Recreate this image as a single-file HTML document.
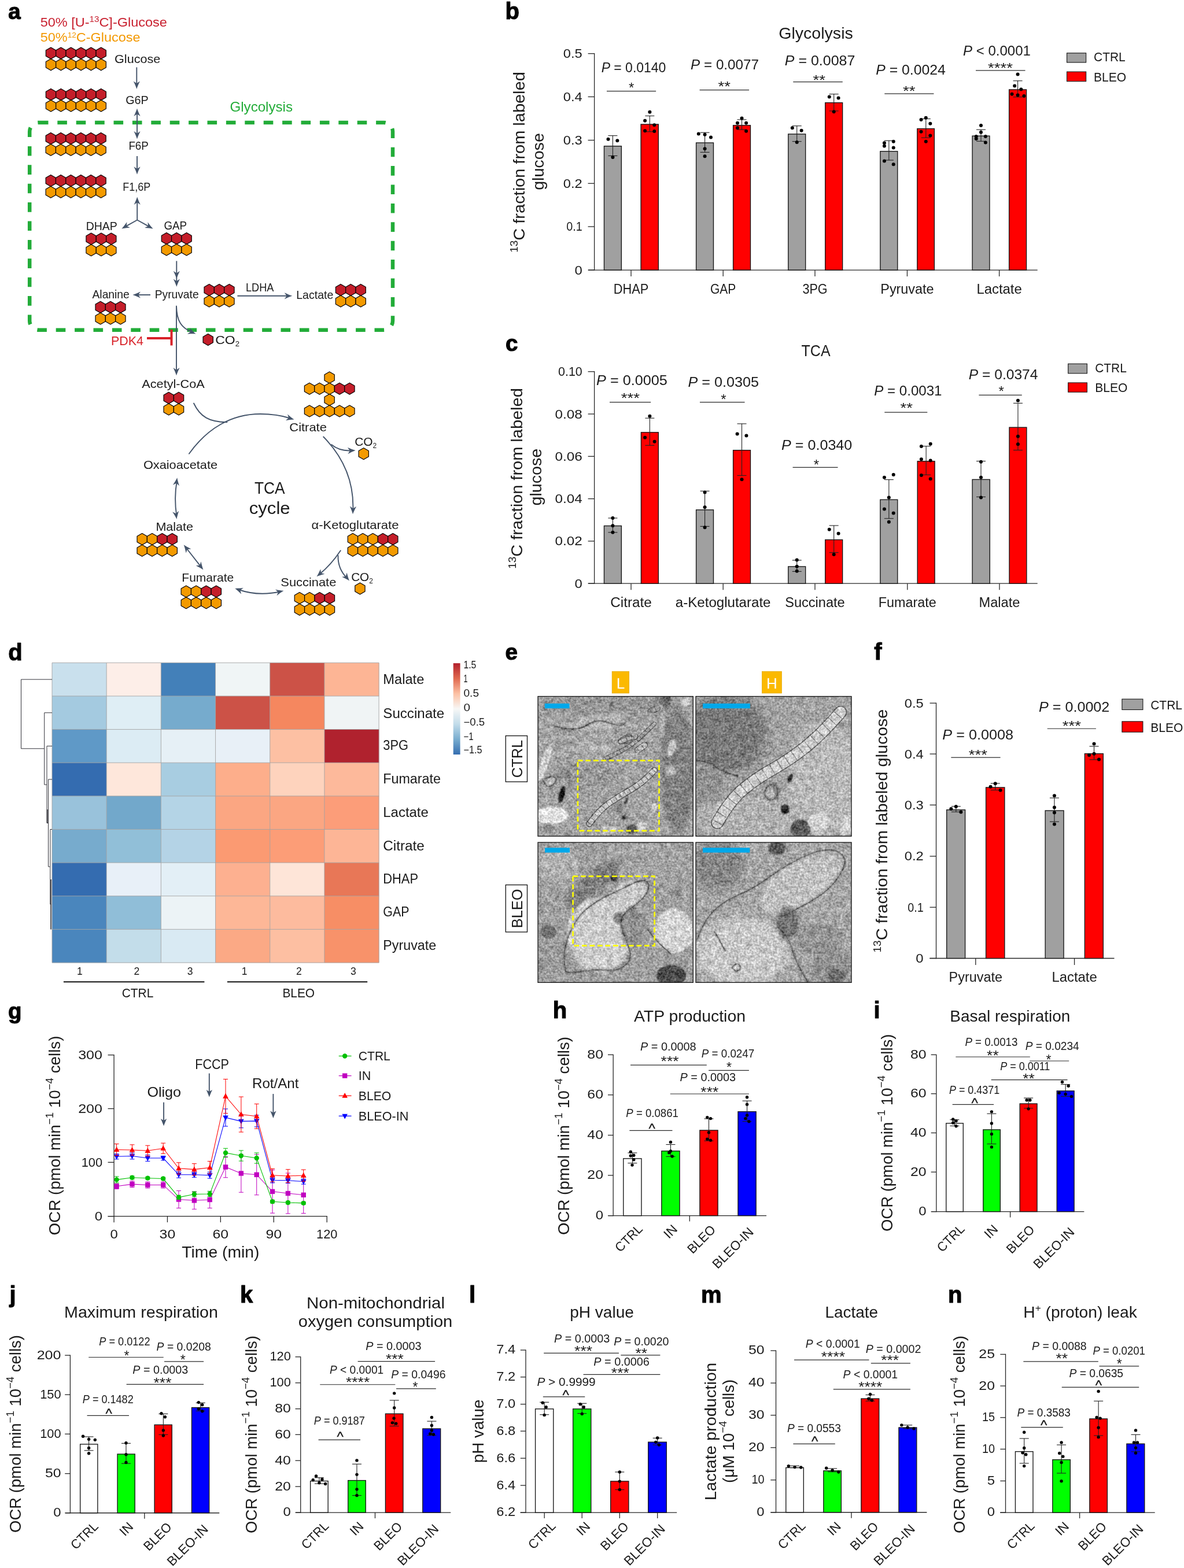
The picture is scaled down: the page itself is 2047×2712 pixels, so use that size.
<!DOCTYPE html>
<html lang="en"><head><meta charset="utf-8"><title>Figure</title>
<style>html,body{margin:0;padding:0;background:#fff}svg{display:block}text{font-family:"Liberation Sans",sans-serif}</style>
</head><body>
<svg width="2047" height="2712" viewBox="0 0 2047 2712">
<rect width="2047" height="2712" fill="#fff"/>
<g fill="#1a1a1a">
<g id="pa">
<text x="14.26" y="32.7" font-size="38.5" font-weight="bold" fill="#000" stroke="#000" stroke-width="1.1" stroke-linejoin="round">a</text>
<text x="69.7" y="46.3" font-size="22.5" textLength="219.2" lengthAdjust="spacingAndGlyphs" fill="#c8202f" >50% [U-<tspan dy="-8" font-size="14.5">13</tspan><tspan dy="8">C]-Glucose</tspan></text>
<text x="69.7" y="71.5" font-size="22.5" textLength="172.8" lengthAdjust="spacingAndGlyphs" fill="#f39800" >50%<tspan dy="-7" font-size="13">12</tspan><tspan dy="7">C-Glucose</tspan></text>
<rect x="51.2" y="211.9" width="627.8" height="358.8" rx="15.7" ry="15.7" fill="none" stroke="#22ac38" stroke-width="6.5" stroke-dasharray="16.6 15.8"/>
<text x="397.5" y="192.7" font-size="24" textLength="108.5" lengthAdjust="spacingAndGlyphs" fill="#22ac38" >Glycolysis</text>
<polygon points="87.97,82.1 96.64,87.1 96.64,97.1 87.97,102.1 79.31,97.1 79.31,87.1" fill="#c41e2a" stroke="#000" stroke-width="1.15" stroke-linejoin="round"/>
<polygon points="105.32,82.1 113.99,87.1 113.99,97.1 105.32,102.1 96.66,97.1 96.66,87.1" fill="#c41e2a" stroke="#000" stroke-width="1.15" stroke-linejoin="round"/>
<polygon points="122.67,82.1 131.34,87.1 131.34,97.1 122.67,102.1 114.01,97.1 114.01,87.1" fill="#c41e2a" stroke="#000" stroke-width="1.15" stroke-linejoin="round"/>
<polygon points="140.03,82.1 148.69,87.1 148.69,97.1 140.03,102.1 131.36,97.1 131.36,87.1" fill="#c41e2a" stroke="#000" stroke-width="1.15" stroke-linejoin="round"/>
<polygon points="157.38,82.1 166.04,87.1 166.04,97.1 157.38,102.1 148.71,97.1 148.71,87.1" fill="#c41e2a" stroke="#000" stroke-width="1.15" stroke-linejoin="round"/>
<polygon points="174.72,82.1 183.39,87.1 183.39,97.1 174.72,102.1 166.06,97.1 166.06,87.1" fill="#c41e2a" stroke="#000" stroke-width="1.15" stroke-linejoin="round"/>
<polygon points="87.97,101.8 96.64,106.8 96.64,116.8 87.97,121.8 79.31,116.8 79.31,106.8" fill="#f39a00" stroke="#000" stroke-width="1.15" stroke-linejoin="round"/>
<polygon points="105.32,101.8 113.99,106.8 113.99,116.8 105.32,121.8 96.66,116.8 96.66,106.8" fill="#f39a00" stroke="#000" stroke-width="1.15" stroke-linejoin="round"/>
<polygon points="122.67,101.8 131.34,106.8 131.34,116.8 122.67,121.8 114.01,116.8 114.01,106.8" fill="#f39a00" stroke="#000" stroke-width="1.15" stroke-linejoin="round"/>
<polygon points="140.03,101.8 148.69,106.8 148.69,116.8 140.03,121.8 131.36,116.8 131.36,106.8" fill="#f39a00" stroke="#000" stroke-width="1.15" stroke-linejoin="round"/>
<polygon points="157.38,101.8 166.04,106.8 166.04,116.8 157.38,121.8 148.71,116.8 148.71,106.8" fill="#f39a00" stroke="#000" stroke-width="1.15" stroke-linejoin="round"/>
<polygon points="174.72,101.8 183.39,106.8 183.39,116.8 174.72,121.8 166.06,116.8 166.06,106.8" fill="#f39a00" stroke="#000" stroke-width="1.15" stroke-linejoin="round"/>
<polygon points="87.97,153.4 96.64,158.4 96.64,168.4 87.97,173.4 79.31,168.4 79.31,158.4" fill="#c41e2a" stroke="#000" stroke-width="1.15" stroke-linejoin="round"/>
<polygon points="105.32,153.4 113.99,158.4 113.99,168.4 105.32,173.4 96.66,168.4 96.66,158.4" fill="#c41e2a" stroke="#000" stroke-width="1.15" stroke-linejoin="round"/>
<polygon points="122.67,153.4 131.34,158.4 131.34,168.4 122.67,173.4 114.01,168.4 114.01,158.4" fill="#c41e2a" stroke="#000" stroke-width="1.15" stroke-linejoin="round"/>
<polygon points="140.03,153.4 148.69,158.4 148.69,168.4 140.03,173.4 131.36,168.4 131.36,158.4" fill="#c41e2a" stroke="#000" stroke-width="1.15" stroke-linejoin="round"/>
<polygon points="157.38,153.4 166.04,158.4 166.04,168.4 157.38,173.4 148.71,168.4 148.71,158.4" fill="#c41e2a" stroke="#000" stroke-width="1.15" stroke-linejoin="round"/>
<polygon points="174.72,153.4 183.39,158.4 183.39,168.4 174.72,173.4 166.06,168.4 166.06,158.4" fill="#c41e2a" stroke="#000" stroke-width="1.15" stroke-linejoin="round"/>
<polygon points="87.97,173.1 96.64,178.1 96.64,188.1 87.97,193.1 79.31,188.1 79.31,178.1" fill="#f39a00" stroke="#000" stroke-width="1.15" stroke-linejoin="round"/>
<polygon points="105.32,173.1 113.99,178.1 113.99,188.1 105.32,193.1 96.66,188.1 96.66,178.1" fill="#f39a00" stroke="#000" stroke-width="1.15" stroke-linejoin="round"/>
<polygon points="122.67,173.1 131.34,178.1 131.34,188.1 122.67,193.1 114.01,188.1 114.01,178.1" fill="#f39a00" stroke="#000" stroke-width="1.15" stroke-linejoin="round"/>
<polygon points="140.03,173.1 148.69,178.1 148.69,188.1 140.03,193.1 131.36,188.1 131.36,178.1" fill="#f39a00" stroke="#000" stroke-width="1.15" stroke-linejoin="round"/>
<polygon points="157.38,173.1 166.04,178.1 166.04,188.1 157.38,193.1 148.71,188.1 148.71,178.1" fill="#f39a00" stroke="#000" stroke-width="1.15" stroke-linejoin="round"/>
<polygon points="174.72,173.1 183.39,178.1 183.39,188.1 174.72,193.1 166.06,188.1 166.06,178.1" fill="#f39a00" stroke="#000" stroke-width="1.15" stroke-linejoin="round"/>
<polygon points="87.77,229.5 96.44,234.5 96.44,244.5 87.77,249.5 79.11,244.5 79.11,234.5" fill="#c41e2a" stroke="#000" stroke-width="1.15" stroke-linejoin="round"/>
<polygon points="105.12,229.5 113.79,234.5 113.79,244.5 105.12,249.5 96.46,244.5 96.46,234.5" fill="#c41e2a" stroke="#000" stroke-width="1.15" stroke-linejoin="round"/>
<polygon points="122.47,229.5 131.14,234.5 131.14,244.5 122.47,249.5 113.81,244.5 113.81,234.5" fill="#c41e2a" stroke="#000" stroke-width="1.15" stroke-linejoin="round"/>
<polygon points="139.82,229.5 148.49,234.5 148.49,244.5 139.82,249.5 131.16,244.5 131.16,234.5" fill="#c41e2a" stroke="#000" stroke-width="1.15" stroke-linejoin="round"/>
<polygon points="157.18,229.5 165.84,234.5 165.84,244.5 157.18,249.5 148.51,244.5 148.51,234.5" fill="#c41e2a" stroke="#000" stroke-width="1.15" stroke-linejoin="round"/>
<polygon points="174.52,229.5 183.19,234.5 183.19,244.5 174.52,249.5 165.86,244.5 165.86,234.5" fill="#c41e2a" stroke="#000" stroke-width="1.15" stroke-linejoin="round"/>
<polygon points="87.77,249.2 96.44,254.2 96.44,264.2 87.77,269.2 79.11,264.2 79.11,254.2" fill="#f39a00" stroke="#000" stroke-width="1.15" stroke-linejoin="round"/>
<polygon points="105.12,249.2 113.79,254.2 113.79,264.2 105.12,269.2 96.46,264.2 96.46,254.2" fill="#f39a00" stroke="#000" stroke-width="1.15" stroke-linejoin="round"/>
<polygon points="122.47,249.2 131.14,254.2 131.14,264.2 122.47,269.2 113.81,264.2 113.81,254.2" fill="#f39a00" stroke="#000" stroke-width="1.15" stroke-linejoin="round"/>
<polygon points="139.82,249.2 148.49,254.2 148.49,264.2 139.82,269.2 131.16,264.2 131.16,254.2" fill="#f39a00" stroke="#000" stroke-width="1.15" stroke-linejoin="round"/>
<polygon points="157.18,249.2 165.84,254.2 165.84,264.2 157.18,269.2 148.51,264.2 148.51,254.2" fill="#f39a00" stroke="#000" stroke-width="1.15" stroke-linejoin="round"/>
<polygon points="174.52,249.2 183.19,254.2 183.19,264.2 174.52,269.2 165.86,264.2 165.86,254.2" fill="#f39a00" stroke="#000" stroke-width="1.15" stroke-linejoin="round"/>
<polygon points="87.77,302.6 96.44,307.6 96.44,317.6 87.77,322.6 79.11,317.6 79.11,307.6" fill="#c41e2a" stroke="#000" stroke-width="1.15" stroke-linejoin="round"/>
<polygon points="105.12,302.6 113.79,307.6 113.79,317.6 105.12,322.6 96.46,317.6 96.46,307.6" fill="#c41e2a" stroke="#000" stroke-width="1.15" stroke-linejoin="round"/>
<polygon points="122.47,302.6 131.14,307.6 131.14,317.6 122.47,322.6 113.81,317.6 113.81,307.6" fill="#c41e2a" stroke="#000" stroke-width="1.15" stroke-linejoin="round"/>
<polygon points="139.82,302.6 148.49,307.6 148.49,317.6 139.82,322.6 131.16,317.6 131.16,307.6" fill="#c41e2a" stroke="#000" stroke-width="1.15" stroke-linejoin="round"/>
<polygon points="157.18,302.6 165.84,307.6 165.84,317.6 157.18,322.6 148.51,317.6 148.51,307.6" fill="#c41e2a" stroke="#000" stroke-width="1.15" stroke-linejoin="round"/>
<polygon points="174.52,302.6 183.19,307.6 183.19,317.6 174.52,322.6 165.86,317.6 165.86,307.6" fill="#c41e2a" stroke="#000" stroke-width="1.15" stroke-linejoin="round"/>
<polygon points="87.77,322.3 96.44,327.3 96.44,337.3 87.77,342.3 79.11,337.3 79.11,327.3" fill="#f39a00" stroke="#000" stroke-width="1.15" stroke-linejoin="round"/>
<polygon points="105.12,322.3 113.79,327.3 113.79,337.3 105.12,342.3 96.46,337.3 96.46,327.3" fill="#f39a00" stroke="#000" stroke-width="1.15" stroke-linejoin="round"/>
<polygon points="122.47,322.3 131.14,327.3 131.14,337.3 122.47,342.3 113.81,337.3 113.81,327.3" fill="#f39a00" stroke="#000" stroke-width="1.15" stroke-linejoin="round"/>
<polygon points="139.82,322.3 148.49,327.3 148.49,337.3 139.82,342.3 131.16,337.3 131.16,327.3" fill="#f39a00" stroke="#000" stroke-width="1.15" stroke-linejoin="round"/>
<polygon points="157.18,322.3 165.84,327.3 165.84,337.3 157.18,342.3 148.51,337.3 148.51,327.3" fill="#f39a00" stroke="#000" stroke-width="1.15" stroke-linejoin="round"/>
<polygon points="174.52,322.3 183.19,327.3 183.19,337.3 174.52,342.3 165.86,337.3 165.86,327.3" fill="#f39a00" stroke="#000" stroke-width="1.15" stroke-linejoin="round"/>
<polygon points="157.58,403 166.24,408 166.24,418 157.58,423 148.91,418 148.91,408" fill="#c41e2a" stroke="#000" stroke-width="1.15" stroke-linejoin="round"/>
<polygon points="174.93,403 183.59,408 183.59,418 174.93,423 166.26,418 166.26,408" fill="#c41e2a" stroke="#000" stroke-width="1.15" stroke-linejoin="round"/>
<polygon points="192.28,403 200.94,408 200.94,418 192.28,423 183.61,418 183.61,408" fill="#c41e2a" stroke="#000" stroke-width="1.15" stroke-linejoin="round"/>
<polygon points="157.58,422.7 166.24,427.7 166.24,437.7 157.58,442.7 148.91,437.7 148.91,427.7" fill="#f39a00" stroke="#000" stroke-width="1.15" stroke-linejoin="round"/>
<polygon points="174.93,422.7 183.59,427.7 183.59,437.7 174.93,442.7 166.26,437.7 166.26,427.7" fill="#f39a00" stroke="#000" stroke-width="1.15" stroke-linejoin="round"/>
<polygon points="192.28,422.7 200.94,427.7 200.94,437.7 192.28,442.7 183.61,437.7 183.61,427.7" fill="#f39a00" stroke="#000" stroke-width="1.15" stroke-linejoin="round"/>
<polygon points="287.88,402.4 296.54,407.4 296.54,417.4 287.88,422.4 279.21,417.4 279.21,407.4" fill="#c41e2a" stroke="#000" stroke-width="1.15" stroke-linejoin="round"/>
<polygon points="305.23,402.4 313.89,407.4 313.89,417.4 305.23,422.4 296.56,417.4 296.56,407.4" fill="#c41e2a" stroke="#000" stroke-width="1.15" stroke-linejoin="round"/>
<polygon points="322.57,402.4 331.24,407.4 331.24,417.4 322.57,422.4 313.91,417.4 313.91,407.4" fill="#c41e2a" stroke="#000" stroke-width="1.15" stroke-linejoin="round"/>
<polygon points="287.88,422.1 296.54,427.1 296.54,437.1 287.88,442.1 279.21,437.1 279.21,427.1" fill="#f39a00" stroke="#000" stroke-width="1.15" stroke-linejoin="round"/>
<polygon points="305.23,422.1 313.89,427.1 313.89,437.1 305.23,442.1 296.56,437.1 296.56,427.1" fill="#f39a00" stroke="#000" stroke-width="1.15" stroke-linejoin="round"/>
<polygon points="322.57,422.1 331.24,427.1 331.24,437.1 322.57,442.1 313.91,437.1 313.91,427.1" fill="#f39a00" stroke="#000" stroke-width="1.15" stroke-linejoin="round"/>
<polygon points="361.68,491.4 370.34,496.4 370.34,506.4 361.68,511.4 353.01,506.4 353.01,496.4" fill="#c41e2a" stroke="#000" stroke-width="1.15" stroke-linejoin="round"/>
<polygon points="379.03,491.4 387.69,496.4 387.69,506.4 379.03,511.4 370.36,506.4 370.36,496.4" fill="#c41e2a" stroke="#000" stroke-width="1.15" stroke-linejoin="round"/>
<polygon points="396.38,491.4 405.04,496.4 405.04,506.4 396.38,511.4 387.71,506.4 387.71,496.4" fill="#c41e2a" stroke="#000" stroke-width="1.15" stroke-linejoin="round"/>
<polygon points="361.68,511.1 370.34,516.1 370.34,526.1 361.68,531.1 353.01,526.1 353.01,516.1" fill="#f39a00" stroke="#000" stroke-width="1.15" stroke-linejoin="round"/>
<polygon points="379.03,511.1 387.69,516.1 387.69,526.1 379.03,531.1 370.36,526.1 370.36,516.1" fill="#f39a00" stroke="#000" stroke-width="1.15" stroke-linejoin="round"/>
<polygon points="396.38,511.1 405.04,516.1 405.04,526.1 396.38,531.1 387.71,526.1 387.71,516.1" fill="#f39a00" stroke="#000" stroke-width="1.15" stroke-linejoin="round"/>
<polygon points="588.97,491.4 597.64,496.4 597.64,506.4 588.97,511.4 580.31,506.4 580.31,496.4" fill="#c41e2a" stroke="#000" stroke-width="1.15" stroke-linejoin="round"/>
<polygon points="606.32,491.4 614.99,496.4 614.99,506.4 606.32,511.4 597.66,506.4 597.66,496.4" fill="#c41e2a" stroke="#000" stroke-width="1.15" stroke-linejoin="round"/>
<polygon points="623.67,491.4 632.34,496.4 632.34,506.4 623.67,511.4 615.01,506.4 615.01,496.4" fill="#c41e2a" stroke="#000" stroke-width="1.15" stroke-linejoin="round"/>
<polygon points="588.97,511.1 597.64,516.1 597.64,526.1 588.97,531.1 580.31,526.1 580.31,516.1" fill="#f39a00" stroke="#000" stroke-width="1.15" stroke-linejoin="round"/>
<polygon points="606.32,511.1 614.99,516.1 614.99,526.1 606.32,531.1 597.66,526.1 597.66,516.1" fill="#f39a00" stroke="#000" stroke-width="1.15" stroke-linejoin="round"/>
<polygon points="623.67,511.1 632.34,516.1 632.34,526.1 623.67,531.1 615.01,526.1 615.01,516.1" fill="#f39a00" stroke="#000" stroke-width="1.15" stroke-linejoin="round"/>
<polygon points="173.68,521.2 182.34,526.2 182.34,536.2 173.68,541.2 165.01,536.2 165.01,526.2" fill="#c41e2a" stroke="#000" stroke-width="1.15" stroke-linejoin="round"/>
<polygon points="191.03,521.2 199.69,526.2 199.69,536.2 191.03,541.2 182.36,536.2 182.36,526.2" fill="#c41e2a" stroke="#000" stroke-width="1.15" stroke-linejoin="round"/>
<polygon points="208.38,521.2 217.04,526.2 217.04,536.2 208.38,541.2 199.71,536.2 199.71,526.2" fill="#c41e2a" stroke="#000" stroke-width="1.15" stroke-linejoin="round"/>
<polygon points="173.68,540.9 182.34,545.9 182.34,555.9 173.68,560.9 165.01,555.9 165.01,545.9" fill="#f39a00" stroke="#000" stroke-width="1.15" stroke-linejoin="round"/>
<polygon points="191.03,540.9 199.69,545.9 199.69,555.9 191.03,560.9 182.36,555.9 182.36,545.9" fill="#f39a00" stroke="#000" stroke-width="1.15" stroke-linejoin="round"/>
<polygon points="208.38,540.9 217.04,545.9 217.04,555.9 208.38,560.9 199.71,555.9 199.71,545.9" fill="#f39a00" stroke="#000" stroke-width="1.15" stroke-linejoin="round"/>
<polygon points="291.68,678.3 300.34,683.3 300.34,693.3 291.68,698.3 283.01,693.3 283.01,683.3" fill="#c41e2a" stroke="#000" stroke-width="1.15" stroke-linejoin="round"/>
<polygon points="309.03,678.3 317.69,683.3 317.69,693.3 309.03,698.3 300.36,693.3 300.36,683.3" fill="#c41e2a" stroke="#000" stroke-width="1.15" stroke-linejoin="round"/>
<polygon points="291.68,698 300.34,703 300.34,713 291.68,718 283.01,713 283.01,703" fill="#f39a00" stroke="#000" stroke-width="1.15" stroke-linejoin="round"/>
<polygon points="309.03,698 317.69,703 317.69,713 309.03,718 300.36,713 300.36,703" fill="#f39a00" stroke="#000" stroke-width="1.15" stroke-linejoin="round"/>
<polygon points="569.6,642.9 578.26,647.9 578.26,657.9 569.6,662.9 560.94,657.9 560.94,647.9" fill="#f39a00" stroke="#000" stroke-width="1.15" stroke-linejoin="round"/>
<polygon points="535,662.2 543.66,667.2 543.66,677.2 535,682.2 526.34,677.2 526.34,667.2" fill="#f39a00" stroke="#000" stroke-width="1.15" stroke-linejoin="round"/>
<polygon points="552.4,662.2 561.06,667.2 561.06,677.2 552.4,682.2 543.74,677.2 543.74,667.2" fill="#f39a00" stroke="#000" stroke-width="1.15" stroke-linejoin="round"/>
<polygon points="569.6,662.2 578.26,667.2 578.26,677.2 569.6,682.2 560.94,677.2 560.94,667.2" fill="#f39a00" stroke="#000" stroke-width="1.15" stroke-linejoin="round"/>
<polygon points="587,662.2 595.66,667.2 595.66,677.2 587,682.2 578.34,677.2 578.34,667.2" fill="#c41e2a" stroke="#000" stroke-width="1.15" stroke-linejoin="round"/>
<polygon points="604.4,662.2 613.06,667.2 613.06,677.2 604.4,682.2 595.74,677.2 595.74,667.2" fill="#c41e2a" stroke="#000" stroke-width="1.15" stroke-linejoin="round"/>
<polygon points="569.6,681.5 578.26,686.5 578.26,696.5 569.6,701.5 560.94,696.5 560.94,686.5" fill="#f39a00" stroke="#000" stroke-width="1.15" stroke-linejoin="round"/>
<polygon points="535,701 543.66,706 543.66,716 535,721 526.34,716 526.34,706" fill="#f39a00" stroke="#000" stroke-width="1.15" stroke-linejoin="round"/>
<polygon points="552.4,701 561.06,706 561.06,716 552.4,721 543.74,716 543.74,706" fill="#f39a00" stroke="#000" stroke-width="1.15" stroke-linejoin="round"/>
<polygon points="569.6,701 578.26,706 578.26,716 569.6,721 560.94,716 560.94,706" fill="#f39a00" stroke="#000" stroke-width="1.15" stroke-linejoin="round"/>
<polygon points="587,701 595.66,706 595.66,716 587,721 578.34,716 578.34,706" fill="#f39a00" stroke="#000" stroke-width="1.15" stroke-linejoin="round"/>
<polygon points="604.4,701 613.06,706 613.06,716 604.4,721 595.74,716 595.74,706" fill="#f39a00" stroke="#000" stroke-width="1.15" stroke-linejoin="round"/>
<polygon points="245.68,922.6 254.34,927.6 254.34,937.6 245.68,942.6 237.01,937.6 237.01,927.6" fill="#f39a00" stroke="#000" stroke-width="1.15" stroke-linejoin="round"/>
<polygon points="263.03,922.6 271.69,927.6 271.69,937.6 263.03,942.6 254.36,937.6 254.36,927.6" fill="#f39a00" stroke="#000" stroke-width="1.15" stroke-linejoin="round"/>
<polygon points="280.38,922.6 289.04,927.6 289.04,937.6 280.38,942.6 271.71,937.6 271.71,927.6" fill="#c41e2a" stroke="#000" stroke-width="1.15" stroke-linejoin="round"/>
<polygon points="297.73,922.6 306.39,927.6 306.39,937.6 297.73,942.6 289.06,937.6 289.06,927.6" fill="#c41e2a" stroke="#000" stroke-width="1.15" stroke-linejoin="round"/>
<polygon points="245.68,942.3 254.34,947.3 254.34,957.3 245.68,962.3 237.01,957.3 237.01,947.3" fill="#f39a00" stroke="#000" stroke-width="1.15" stroke-linejoin="round"/>
<polygon points="263.03,942.3 271.69,947.3 271.69,957.3 263.03,962.3 254.36,957.3 254.36,947.3" fill="#f39a00" stroke="#000" stroke-width="1.15" stroke-linejoin="round"/>
<polygon points="280.38,942.3 289.04,947.3 289.04,957.3 280.38,962.3 271.71,957.3 271.71,947.3" fill="#f39a00" stroke="#000" stroke-width="1.15" stroke-linejoin="round"/>
<polygon points="297.73,942.3 306.39,947.3 306.39,957.3 297.73,962.3 289.06,957.3 289.06,947.3" fill="#f39a00" stroke="#000" stroke-width="1.15" stroke-linejoin="round"/>
<polygon points="609.87,922.6 618.54,927.6 618.54,937.6 609.87,942.6 601.21,937.6 601.21,927.6" fill="#f39a00" stroke="#000" stroke-width="1.15" stroke-linejoin="round"/>
<polygon points="627.22,922.6 635.89,927.6 635.89,937.6 627.22,942.6 618.56,937.6 618.56,927.6" fill="#f39a00" stroke="#000" stroke-width="1.15" stroke-linejoin="round"/>
<polygon points="644.57,922.6 653.24,927.6 653.24,937.6 644.57,942.6 635.91,937.6 635.91,927.6" fill="#f39a00" stroke="#000" stroke-width="1.15" stroke-linejoin="round"/>
<polygon points="661.92,922.6 670.59,927.6 670.59,937.6 661.92,942.6 653.26,937.6 653.26,927.6" fill="#c41e2a" stroke="#000" stroke-width="1.15" stroke-linejoin="round"/>
<polygon points="679.27,922.6 687.94,927.6 687.94,937.6 679.27,942.6 670.61,937.6 670.61,927.6" fill="#c41e2a" stroke="#000" stroke-width="1.15" stroke-linejoin="round"/>
<polygon points="609.87,942.3 618.54,947.3 618.54,957.3 609.87,962.3 601.21,957.3 601.21,947.3" fill="#f39a00" stroke="#000" stroke-width="1.15" stroke-linejoin="round"/>
<polygon points="627.22,942.3 635.89,947.3 635.89,957.3 627.22,962.3 618.56,957.3 618.56,947.3" fill="#f39a00" stroke="#000" stroke-width="1.15" stroke-linejoin="round"/>
<polygon points="644.57,942.3 653.24,947.3 653.24,957.3 644.57,962.3 635.91,957.3 635.91,947.3" fill="#f39a00" stroke="#000" stroke-width="1.15" stroke-linejoin="round"/>
<polygon points="661.92,942.3 670.59,947.3 670.59,957.3 661.92,962.3 653.26,957.3 653.26,947.3" fill="#f39a00" stroke="#000" stroke-width="1.15" stroke-linejoin="round"/>
<polygon points="679.27,942.3 687.94,947.3 687.94,957.3 679.27,962.3 670.61,957.3 670.61,947.3" fill="#f39a00" stroke="#000" stroke-width="1.15" stroke-linejoin="round"/>
<polygon points="321.78,1013.1 330.44,1018.1 330.44,1028.1 321.78,1033.1 313.11,1028.1 313.11,1018.1" fill="#f39a00" stroke="#000" stroke-width="1.15" stroke-linejoin="round"/>
<polygon points="339.13,1013.1 347.79,1018.1 347.79,1028.1 339.13,1033.1 330.46,1028.1 330.46,1018.1" fill="#f39a00" stroke="#000" stroke-width="1.15" stroke-linejoin="round"/>
<polygon points="356.48,1013.1 365.14,1018.1 365.14,1028.1 356.48,1033.1 347.81,1028.1 347.81,1018.1" fill="#c41e2a" stroke="#000" stroke-width="1.15" stroke-linejoin="round"/>
<polygon points="373.83,1013.1 382.49,1018.1 382.49,1028.1 373.83,1033.1 365.16,1028.1 365.16,1018.1" fill="#c41e2a" stroke="#000" stroke-width="1.15" stroke-linejoin="round"/>
<polygon points="321.78,1032.8 330.44,1037.8 330.44,1047.8 321.78,1052.8 313.11,1047.8 313.11,1037.8" fill="#f39a00" stroke="#000" stroke-width="1.15" stroke-linejoin="round"/>
<polygon points="339.13,1032.8 347.79,1037.8 347.79,1047.8 339.13,1052.8 330.46,1047.8 330.46,1037.8" fill="#f39a00" stroke="#000" stroke-width="1.15" stroke-linejoin="round"/>
<polygon points="356.48,1032.8 365.14,1037.8 365.14,1047.8 356.48,1052.8 347.81,1047.8 347.81,1037.8" fill="#f39a00" stroke="#000" stroke-width="1.15" stroke-linejoin="round"/>
<polygon points="373.83,1032.8 382.49,1037.8 382.49,1047.8 373.83,1052.8 365.16,1047.8 365.16,1037.8" fill="#f39a00" stroke="#000" stroke-width="1.15" stroke-linejoin="round"/>
<polygon points="517.87,1024.6 526.54,1029.6 526.54,1039.6 517.87,1044.6 509.21,1039.6 509.21,1029.6" fill="#f39a00" stroke="#000" stroke-width="1.15" stroke-linejoin="round"/>
<polygon points="535.22,1024.6 543.89,1029.6 543.89,1039.6 535.22,1044.6 526.56,1039.6 526.56,1029.6" fill="#f39a00" stroke="#000" stroke-width="1.15" stroke-linejoin="round"/>
<polygon points="552.57,1024.6 561.24,1029.6 561.24,1039.6 552.57,1044.6 543.91,1039.6 543.91,1029.6" fill="#c41e2a" stroke="#000" stroke-width="1.15" stroke-linejoin="round"/>
<polygon points="569.92,1024.6 578.59,1029.6 578.59,1039.6 569.92,1044.6 561.26,1039.6 561.26,1029.6" fill="#c41e2a" stroke="#000" stroke-width="1.15" stroke-linejoin="round"/>
<polygon points="517.87,1044.3 526.54,1049.3 526.54,1059.3 517.87,1064.3 509.21,1059.3 509.21,1049.3" fill="#f39a00" stroke="#000" stroke-width="1.15" stroke-linejoin="round"/>
<polygon points="535.22,1044.3 543.89,1049.3 543.89,1059.3 535.22,1064.3 526.56,1059.3 526.56,1049.3" fill="#f39a00" stroke="#000" stroke-width="1.15" stroke-linejoin="round"/>
<polygon points="552.57,1044.3 561.24,1049.3 561.24,1059.3 552.57,1064.3 543.91,1059.3 543.91,1049.3" fill="#f39a00" stroke="#000" stroke-width="1.15" stroke-linejoin="round"/>
<polygon points="569.92,1044.3 578.59,1049.3 578.59,1059.3 569.92,1064.3 561.26,1059.3 561.26,1049.3" fill="#f39a00" stroke="#000" stroke-width="1.15" stroke-linejoin="round"/>
<polygon points="359.7,577.4 368.36,582.4 368.36,592.4 359.7,597.4 351.04,592.4 351.04,582.4" fill="#c41e2a" stroke="#000" stroke-width="1.15" stroke-linejoin="round"/>
<polygon points="628.7,774.8 637.36,779.8 637.36,789.8 628.7,794.8 620.04,789.8 620.04,779.8" fill="#f39a00" stroke="#000" stroke-width="1.15" stroke-linejoin="round"/>
<polygon points="622.4,1007.9 631.06,1012.9 631.06,1022.9 622.4,1027.9 613.74,1022.9 613.74,1012.9" fill="#f39a00" stroke="#000" stroke-width="1.15" stroke-linejoin="round"/>
<text x="198.1" y="108.9" font-size="21" textLength="79.1" lengthAdjust="spacingAndGlyphs" >Glucose</text>
<text x="217.2" y="179.6" font-size="21" textLength="39.5" lengthAdjust="spacingAndGlyphs" >G6P</text>
<text x="222.4" y="258.7" font-size="21" textLength="34.4" lengthAdjust="spacingAndGlyphs" >F6P</text>
<text x="212.3" y="329.8" font-size="21" textLength="47.8" lengthAdjust="spacingAndGlyphs" >F1,6P</text>
<text x="148.7" y="397.7" font-size="21" textLength="54.1" lengthAdjust="spacingAndGlyphs" >DHAP</text>
<text x="283.4" y="396.6" font-size="21" textLength="39.6" lengthAdjust="spacingAndGlyphs" >GAP</text>
<text x="159.5" y="515.6" font-size="21" textLength="64.3" lengthAdjust="spacingAndGlyphs" >Alanine</text>
<text x="267.7" y="515.6" font-size="21" textLength="75.9" lengthAdjust="spacingAndGlyphs" >Pyruvate</text>
<text x="425" y="503.6" font-size="21" textLength="48.4" lengthAdjust="spacingAndGlyphs" >LDHA</text>
<text x="512.2" y="517" font-size="21" textLength="64.2" lengthAdjust="spacingAndGlyphs" >Lactate</text>
<text x="191.9" y="597" font-size="22.5" textLength="56.1" lengthAdjust="spacingAndGlyphs" fill="#d8232a" >PDK4</text>
<text x="372.3" y="594.6" font-size="21" textLength="41.7" lengthAdjust="spacingAndGlyphs" >CO<tspan dy="4" font-size="12">2</tspan></text>
<text x="245.3" y="671.3" font-size="21" textLength="108.4" lengthAdjust="spacingAndGlyphs" >Acetyl-CoA</text>
<text x="500.3" y="745.5" font-size="21" textLength="64.6" lengthAdjust="spacingAndGlyphs" >Citrate</text>
<text x="613.2" y="771.3" font-size="21" textLength="38" lengthAdjust="spacingAndGlyphs" >CO<tspan dy="4" font-size="12">2</tspan></text>
<text x="247.9" y="811" font-size="21" textLength="128.2" lengthAdjust="spacingAndGlyphs" >Oxaioacetate</text>
<text x="439.9" y="853.8" font-size="29.5" textLength="52.6" lengthAdjust="spacingAndGlyphs" >TCA</text>
<text x="430.7" y="889.1" font-size="29.5" textLength="71" lengthAdjust="spacingAndGlyphs" >cycle</text>
<text x="269.4" y="918.4" font-size="21" textLength="64.7" lengthAdjust="spacingAndGlyphs" >Malate</text>
<text x="538.5" y="915" font-size="21" textLength="150.9" lengthAdjust="spacingAndGlyphs" >α-Ketoglutarate</text>
<text x="314.3" y="1005.5" font-size="21" textLength="89.9" lengthAdjust="spacingAndGlyphs" >Fumarate</text>
<text x="485.3" y="1013.6" font-size="21" textLength="96" lengthAdjust="spacingAndGlyphs" >Succinate</text>
<text x="607.2" y="1004.7" font-size="21" textLength="37.6" lengthAdjust="spacingAndGlyphs" >CO<tspan dy="4" font-size="12">2</tspan></text>
<line x1="236.3" y1="116.4" x2="236.3" y2="148" stroke="#44546a" stroke-width="1.9" />
<path d="M0 0 C-4 -1.2 -8 -3 -13.5 -5.6 L-9.72 0 L-13.5 5.6 C-8 3 -4 1.2 0 0Z" fill="#44546a" transform="translate(236.3 154) rotate(90)"/>
<line x1="237" y1="193.5" x2="237" y2="234.4" stroke="#44546a" stroke-width="1.9" />
<path d="M0 0 C-4 -1.2 -8 -3 -13.5 -5.6 L-9.72 0 L-13.5 5.6 C-8 3 -4 1.2 0 0Z" fill="#44546a" transform="translate(237 240.4) rotate(90)"/>
<path d="M0 0 C-4 -1.2 -8 -3 -13.5 -5.6 L-9.72 0 L-13.5 5.6 C-8 3 -4 1.2 0 0Z" fill="#44546a" transform="translate(237 187.5) rotate(270)"/>
<line x1="237" y1="270.1" x2="237" y2="295.8" stroke="#44546a" stroke-width="1.9" />
<path d="M0 0 C-4 -1.2 -8 -3 -13.5 -5.6 L-9.72 0 L-13.5 5.6 C-8 3 -4 1.2 0 0Z" fill="#44546a" transform="translate(237 301.8) rotate(90)"/>
<line x1="237.2" y1="380.5" x2="237.2" y2="346.6" stroke="#44546a" stroke-width="1.9" />
<path d="M0 0 C-4 -1.2 -8 -3 -13.5 -5.6 L-9.72 0 L-13.5 5.6 C-8 3 -4 1.2 0 0Z" fill="#44546a" transform="translate(237.2 340.6) rotate(-90)"/>
<line x1="237.2" y1="380.5" x2="215.53" y2="392.66" stroke="#44546a" stroke-width="1.9" />
<path d="M0 0 C-4 -1.2 -8 -3 -13.5 -5.6 L-9.72 0 L-13.5 5.6 C-8 3 -4 1.2 0 0Z" fill="#44546a" transform="translate(210.3 395.6) rotate(150.69)"/>
<line x1="237.2" y1="380.5" x2="259.35" y2="392.7" stroke="#44546a" stroke-width="1.9" />
<path d="M0 0 C-4 -1.2 -8 -3 -13.5 -5.6 L-9.72 0 L-13.5 5.6 C-8 3 -4 1.2 0 0Z" fill="#44546a" transform="translate(264.6 395.6) rotate(28.86)"/>
<line x1="305.3" y1="451.4" x2="305.3" y2="490" stroke="#44546a" stroke-width="1.9" />
<path d="M0 0 C-4 -1.2 -8 -3 -13.5 -5.6 L-9.72 0 L-13.5 5.6 C-8 3 -4 1.2 0 0Z" fill="#44546a" transform="translate(305.3 482.3) rotate(90)"/>
<path d="M0 0 C-4 -1.2 -8 -3 -13.5 -5.6 L-9.72 0 L-13.5 5.6 C-8 3 -4 1.2 0 0Z" fill="#44546a" transform="translate(305.3 496) rotate(90)"/>
<line x1="260" y1="510" x2="235.4" y2="510" stroke="#44546a" stroke-width="1.9" />
<path d="M0 0 C-4 -1.2 -8 -3 -13.5 -5.6 L-9.72 0 L-13.5 5.6 C-8 3 -4 1.2 0 0Z" fill="#44546a" transform="translate(229.4 510) rotate(180)"/>
<line x1="410.4" y1="511.8" x2="499.3" y2="511.8" stroke="#44546a" stroke-width="1.9" />
<path d="M0 0 C-4 -1.2 -8 -3 -13.5 -5.6 L-9.72 0 L-13.5 5.6 C-8 3 -4 1.2 0 0Z" fill="#44546a" transform="translate(505.3 511.8) rotate(0)"/>
<line x1="305" y1="529.5" x2="305" y2="643" stroke="#44546a" stroke-width="1.9" />
<path d="M0 0 C-4 -1.2 -8 -3 -13.5 -5.6 L-9.72 0 L-13.5 5.6 C-8 3 -4 1.2 0 0Z" fill="#44546a" transform="translate(305 649.5) rotate(90)"/>
<path d="M305 529.5 C305.5 556 314 567 331 574" fill="none" stroke="#44546a" stroke-width="1.9" stroke-linecap="round"/>
<path d="M0 0 C-4 -1.2 -8 -3 -13.5 -5.6 L-9.72 0 L-13.5 5.6 C-8 3 -4 1.2 0 0Z" fill="#44546a" transform="translate(338.6 577.4) rotate(22)"/>
<line x1="254" y1="585.1" x2="297" y2="585.1" stroke="#d8232a" stroke-width="4" />
<line x1="296.5" y1="570" x2="296.5" y2="597.5" stroke="#d8232a" stroke-width="4" />
<path d="M335 697.5 C346 721 362 730 392.5 730.2" fill="none" stroke="#44546a" stroke-width="1.9" stroke-linecap="round"/>
<path d="M326.9 784.8 C358 741 400 716 450 716 C470 716 488 719 502 723.5" fill="none" stroke="#44546a" stroke-width="1.9" stroke-linecap="round"/>
<path d="M0 0 C-4 -1.2 -8 -3 -13.5 -5.6 L-9.72 0 L-13.5 5.6 C-8 3 -4 1.2 0 0Z" fill="#44546a" transform="translate(508.5 725.5) rotate(16)"/>
<path d="M559.2 755.5 C592 789 612 830 610.3 882" fill="none" stroke="#44546a" stroke-width="1.9" stroke-linecap="round"/>
<path d="M0 0 C-4 -1.2 -8 -3 -13.5 -5.6 L-9.72 0 L-13.5 5.6 C-8 3 -4 1.2 0 0Z" fill="#44546a" transform="translate(610 889.3) rotate(92)"/>
<path d="M573 769 C584 778 597 780 608 779.3" fill="none" stroke="#44546a" stroke-width="1.9" stroke-linecap="round"/>
<path d="M0 0 C-4 -1.2 -8 -3 -13.5 -5.6 L-9.72 0 L-13.5 5.6 C-8 3 -4 1.2 0 0Z" fill="#44546a" transform="translate(614.6 779) rotate(-3)"/>
<path d="M588.8 952.3 C577 970 565 983 552 993.5" fill="none" stroke="#44546a" stroke-width="1.9" stroke-linecap="round"/>
<path d="M0 0 C-4 -1.2 -8 -3 -13.5 -5.6 L-9.72 0 L-13.5 5.6 C-8 3 -4 1.2 0 0Z" fill="#44546a" transform="translate(547.5 997.2) rotate(140)"/>
<path d="M584.5 961 C584 978 590 990 600 1000" fill="none" stroke="#44546a" stroke-width="1.9" stroke-linecap="round"/>
<path d="M0 0 C-4 -1.2 -8 -3 -13.5 -5.6 L-9.72 0 L-13.5 5.6 C-8 3 -4 1.2 0 0Z" fill="#44546a" transform="translate(604 1004.4) rotate(50)"/>
<path d="M411.5 1019.5 C437 1028.5 462 1028.5 485 1023" fill="none" stroke="#44546a" stroke-width="1.9" stroke-linecap="round"/>
<path d="M0 0 C-4 -1.2 -8 -3 -13.5 -5.6 L-9.72 0 L-13.5 5.6 C-8 3 -4 1.2 0 0Z" fill="#44546a" transform="translate(406.2 1017.7) rotate(199)"/>
<path d="M0 0 C-4 -1.2 -8 -3 -13.5 -5.6 L-9.72 0 L-13.5 5.6 C-8 3 -4 1.2 0 0Z" fill="#44546a" transform="translate(490.4 1021.8) rotate(-13)"/>
<line x1="321.4" y1="947.03" x2="347.7" y2="980.67" stroke="#44546a" stroke-width="1.9" />
<path d="M0 0 C-4 -1.2 -8 -3 -13.5 -5.6 L-9.72 0 L-13.5 5.6 C-8 3 -4 1.2 0 0Z" fill="#44546a" transform="translate(351.4 985.4) rotate(51.98)"/>
<path d="M0 0 C-4 -1.2 -8 -3 -13.5 -5.6 L-9.72 0 L-13.5 5.6 C-8 3 -4 1.2 0 0Z" fill="#44546a" transform="translate(317.7 942.3) rotate(231.98)"/>
<path d="M305.8 832 C302.3 852 302.3 872 305.3 892" fill="none" stroke="#44546a" stroke-width="1.9" stroke-linecap="round"/>
<path d="M0 0 C-4 -1.2 -8 -3 -13.5 -5.6 L-9.72 0 L-13.5 5.6 C-8 3 -4 1.2 0 0Z" fill="#44546a" transform="translate(306.3 826.2) rotate(-82)"/>
<path d="M0 0 C-4 -1.2 -8 -3 -13.5 -5.6 L-9.72 0 L-13.5 5.6 C-8 3 -4 1.2 0 0Z" fill="#44546a" transform="translate(305.5 897.9) rotate(82)"/>
</g>
<g id="pb">
<text x="873.5" y="33" font-size="40" font-weight="bold" fill="#000" stroke="#000" stroke-width="1.1" stroke-linejoin="round">b</text>
<text x="1410.5" y="66.8" font-size="28" text-anchor="middle" textLength="128.5" lengthAdjust="spacingAndGlyphs" >Glycolysis</text>
<text font-size="27.5" text-anchor="middle" textLength="312.5" lengthAdjust="spacingAndGlyphs" transform="translate(906.5 280.5) rotate(-90)" ><tspan dy="-11.5" font-size="18">13</tspan><tspan dy="11.5">C fraction from labeled</tspan></text>
<text font-size="27.5" text-anchor="middle" textLength="98.7" lengthAdjust="spacingAndGlyphs" transform="translate(939.8 279.5) rotate(-90)" >glucose</text>
<line x1="1027.6" y1="92.04" x2="1027.6" y2="467.72" stroke="#262626" stroke-width="1.3" />
<line x1="1016.6" y1="92.69" x2="1027.6" y2="92.69" stroke="#262626" stroke-width="1.3" />
<text x="1006.73" y="100.19" font-size="22" text-anchor="end" textLength="32.9" lengthAdjust="spacingAndGlyphs" >0.5</text>
<line x1="1016.6" y1="167.43" x2="1027.6" y2="167.43" stroke="#262626" stroke-width="1.3" />
<text x="1006.73" y="174.93" font-size="22" text-anchor="end" textLength="32.9" lengthAdjust="spacingAndGlyphs" >0.4</text>
<line x1="1016.6" y1="242.51" x2="1027.6" y2="242.51" stroke="#262626" stroke-width="1.3" />
<text x="1006.73" y="250.01" font-size="22" text-anchor="end" textLength="32.9" lengthAdjust="spacingAndGlyphs" >0.3</text>
<line x1="1016.6" y1="317.25" x2="1027.6" y2="317.25" stroke="#262626" stroke-width="1.3" />
<text x="1006.73" y="324.75" font-size="22" text-anchor="end" textLength="32.9" lengthAdjust="spacingAndGlyphs" >0.2</text>
<line x1="1016.6" y1="391.98" x2="1027.6" y2="391.98" stroke="#262626" stroke-width="1.3" />
<text x="1006.73" y="399.48" font-size="22" text-anchor="end" textLength="27.4" lengthAdjust="spacingAndGlyphs" >0.1</text>
<line x1="1016.6" y1="467.07" x2="1027.6" y2="467.07" stroke="#262626" stroke-width="1.3" />
<text x="1006.73" y="474.57" font-size="22" text-anchor="end" textLength="13.3" lengthAdjust="spacingAndGlyphs" >0</text>
<line x1="1017.01" y1="467.07" x2="1793.71" y2="467.07" stroke="#262626" stroke-width="1.3" />
<line x1="1091.02" y1="467.07" x2="1091.02" y2="478.07" stroke="#262626" stroke-width="1.3" />
<text x="1091.02" y="508.38" font-size="23.3" text-anchor="middle" textLength="60.4" lengthAdjust="spacingAndGlyphs" >DHAP</text>
<line x1="1250.18" y1="467.07" x2="1250.18" y2="478.07" stroke="#262626" stroke-width="1.3" />
<text x="1250.18" y="508.38" font-size="23.3" text-anchor="middle" textLength="44.2" lengthAdjust="spacingAndGlyphs" >GAP</text>
<line x1="1408.98" y1="467.07" x2="1408.98" y2="478.07" stroke="#262626" stroke-width="1.3" />
<text x="1408.98" y="508.38" font-size="23.3" text-anchor="middle" textLength="43.1" lengthAdjust="spacingAndGlyphs" >3PG</text>
<line x1="1568.44" y1="467.07" x2="1568.44" y2="478.07" stroke="#262626" stroke-width="1.3" />
<text x="1568.44" y="508.38" font-size="23.3" text-anchor="middle" textLength="92.3" lengthAdjust="spacingAndGlyphs" >Pyruvate</text>
<line x1="1727.6" y1="467.07" x2="1727.6" y2="478.07" stroke="#262626" stroke-width="1.3" />
<text x="1727.6" y="508.38" font-size="23.3" text-anchor="middle" textLength="78.3" lengthAdjust="spacingAndGlyphs" >Lactate</text>
<rect x="1044.45" y="252.72" width="29.9" height="214.35" fill="#a0a0a0" stroke="#161616" stroke-width="1.35" />
<rect x="1108.04" y="214.99" width="30.26" height="252.07" fill="#ff0000" stroke="#161616" stroke-width="1.35" />
<rect x="1203.61" y="246.97" width="29.9" height="220.1" fill="#a0a0a0" stroke="#161616" stroke-width="1.35" />
<rect x="1267.57" y="216.79" width="29.9" height="250.28" fill="#ff0000" stroke="#161616" stroke-width="1.35" />
<rect x="1362.78" y="231.88" width="29.9" height="235.19" fill="#a0a0a0" stroke="#161616" stroke-width="1.35" />
<rect x="1426.73" y="177.63" width="29.9" height="289.44" fill="#ff0000" stroke="#161616" stroke-width="1.35" />
<rect x="1521.87" y="261.7" width="29.9" height="205.37" fill="#a0a0a0" stroke="#161616" stroke-width="1.35" />
<rect x="1585.82" y="222.54" width="29.54" height="244.53" fill="#ff0000" stroke="#161616" stroke-width="1.35" />
<rect x="1681.03" y="235.11" width="29.9" height="231.96" fill="#a0a0a0" stroke="#161616" stroke-width="1.35" />
<rect x="1744.63" y="154.99" width="29.9" height="312.07" fill="#ff0000" stroke="#161616" stroke-width="1.35" />
<line x1="1059.4" y1="234.61" x2="1059.4" y2="269.46" stroke="#222" stroke-width="1.1" />
<line x1="1051.4" y1="234.61" x2="1067.4" y2="234.61" stroke="#222" stroke-width="1.1" />
<line x1="1051.4" y1="269.46" x2="1067.4" y2="269.46" stroke="#222" stroke-width="1.1" />
<line x1="1123.35" y1="200.48" x2="1123.35" y2="227.78" stroke="#222" stroke-width="1.1" />
<line x1="1115.35" y1="200.48" x2="1131.35" y2="200.48" stroke="#222" stroke-width="1.1" />
<line x1="1115.35" y1="227.78" x2="1131.35" y2="227.78" stroke="#222" stroke-width="1.1" />
<line x1="1218.56" y1="229.22" x2="1218.56" y2="263.35" stroke="#222" stroke-width="1.1" />
<line x1="1210.56" y1="229.22" x2="1226.56" y2="229.22" stroke="#222" stroke-width="1.1" />
<line x1="1210.56" y1="263.35" x2="1226.56" y2="263.35" stroke="#222" stroke-width="1.1" />
<line x1="1282.51" y1="206.95" x2="1282.51" y2="224.19" stroke="#222" stroke-width="1.1" />
<line x1="1274.51" y1="206.95" x2="1290.51" y2="206.95" stroke="#222" stroke-width="1.1" />
<line x1="1274.51" y1="224.19" x2="1290.51" y2="224.19" stroke="#222" stroke-width="1.1" />
<line x1="1377.72" y1="217.72" x2="1377.72" y2="244.67" stroke="#222" stroke-width="1.1" />
<line x1="1369.72" y1="217.72" x2="1385.72" y2="217.72" stroke="#222" stroke-width="1.1" />
<line x1="1369.72" y1="244.67" x2="1385.72" y2="244.67" stroke="#222" stroke-width="1.1" />
<line x1="1441.68" y1="162.75" x2="1441.68" y2="191.86" stroke="#222" stroke-width="1.1" />
<line x1="1433.68" y1="162.75" x2="1449.68" y2="162.75" stroke="#222" stroke-width="1.1" />
<line x1="1433.68" y1="191.86" x2="1449.68" y2="191.86" stroke="#222" stroke-width="1.1" />
<line x1="1536.82" y1="243.23" x2="1536.82" y2="277.01" stroke="#222" stroke-width="1.1" />
<line x1="1528.82" y1="243.23" x2="1544.82" y2="243.23" stroke="#222" stroke-width="1.1" />
<line x1="1528.82" y1="277.01" x2="1544.82" y2="277.01" stroke="#222" stroke-width="1.1" />
<line x1="1600.77" y1="205.51" x2="1600.77" y2="238.2" stroke="#222" stroke-width="1.1" />
<line x1="1592.77" y1="205.51" x2="1608.77" y2="205.51" stroke="#222" stroke-width="1.1" />
<line x1="1592.77" y1="238.2" x2="1608.77" y2="238.2" stroke="#222" stroke-width="1.1" />
<line x1="1695.98" y1="224.19" x2="1695.98" y2="244.31" stroke="#222" stroke-width="1.1" />
<line x1="1687.98" y1="224.19" x2="1703.98" y2="224.19" stroke="#222" stroke-width="1.1" />
<line x1="1687.98" y1="244.31" x2="1703.98" y2="244.31" stroke="#222" stroke-width="1.1" />
<line x1="1759.57" y1="139.76" x2="1759.57" y2="167.78" stroke="#222" stroke-width="1.1" />
<line x1="1751.57" y1="139.76" x2="1767.57" y2="139.76" stroke="#222" stroke-width="1.1" />
<line x1="1751.57" y1="167.78" x2="1767.57" y2="167.78" stroke="#222" stroke-width="1.1" />
<circle cx="1051.5" cy="240.72" r="3" fill="#000" />
<circle cx="1067.31" cy="243.23" r="3" fill="#000" />
<circle cx="1059.4" cy="271.98" r="3" fill="#000" />
<circle cx="1123.35" cy="193.65" r="3" fill="#000" />
<circle cx="1115.09" cy="208.74" r="3" fill="#000" />
<circle cx="1131.26" cy="216.29" r="3" fill="#000" />
<circle cx="1115.09" cy="226.35" r="3" fill="#000" />
<circle cx="1131.26" cy="227.07" r="3" fill="#000" />
<circle cx="1207.78" cy="231.38" r="3" fill="#000" />
<circle cx="1218.56" cy="232.81" r="3" fill="#000" />
<circle cx="1228.98" cy="237.49" r="3" fill="#000" />
<circle cx="1218.56" cy="257.25" r="3" fill="#000" />
<circle cx="1218.56" cy="270.18" r="3" fill="#000" />
<circle cx="1282.51" cy="204.43" r="3" fill="#000" />
<circle cx="1274.97" cy="212.69" r="3" fill="#000" />
<circle cx="1290.06" cy="212.69" r="3" fill="#000" />
<circle cx="1274.97" cy="221.32" r="3" fill="#000" />
<circle cx="1290.06" cy="226.71" r="3" fill="#000" />
<circle cx="1369.82" cy="221.32" r="3" fill="#000" />
<circle cx="1385.63" cy="225.63" r="3" fill="#000" />
<circle cx="1377.72" cy="246.11" r="3" fill="#000" />
<circle cx="1433.77" cy="167.43" r="3" fill="#000" />
<circle cx="1449.58" cy="169.58" r="3" fill="#000" />
<circle cx="1441.68" cy="193.29" r="3" fill="#000" />
<circle cx="1528.92" cy="247.19" r="3" fill="#000" />
<circle cx="1544.72" cy="244.67" r="3" fill="#000" />
<circle cx="1528.92" cy="252.57" r="3" fill="#000" />
<circle cx="1544.72" cy="255.45" r="3" fill="#000" />
<circle cx="1528.92" cy="278.44" r="3" fill="#000" />
<circle cx="1544.72" cy="284.19" r="3" fill="#000" />
<circle cx="1600.77" cy="203.71" r="3" fill="#000" />
<circle cx="1592.51" cy="206.95" r="3" fill="#000" />
<circle cx="1608.32" cy="213.77" r="3" fill="#000" />
<circle cx="1592.51" cy="227.78" r="3" fill="#000" />
<circle cx="1608.32" cy="234.61" r="3" fill="#000" />
<circle cx="1600.77" cy="244.67" r="3" fill="#000" />
<circle cx="1695.98" cy="217.01" r="3" fill="#000" />
<circle cx="1695.98" cy="228.86" r="3" fill="#000" />
<circle cx="1687.72" cy="236.05" r="3" fill="#000" />
<circle cx="1703.89" cy="236.05" r="3" fill="#000" />
<circle cx="1687.72" cy="240" r="3" fill="#000" />
<circle cx="1703.89" cy="246.47" r="3" fill="#000" />
<circle cx="1759.57" cy="128.62" r="3" fill="#000" />
<circle cx="1754.19" cy="148.38" r="3" fill="#000" />
<circle cx="1765.32" cy="154.49" r="3" fill="#000" />
<circle cx="1749.51" cy="162.75" r="3" fill="#000" />
<circle cx="1759.57" cy="164.55" r="3" fill="#000" />
<circle cx="1770.35" cy="165.99" r="3" fill="#000" />
<text x="1039.64" y="124.67" font-size="23.5" textLength="111.74" lengthAdjust="spacingAndGlyphs" ><tspan font-style="italic">P</tspan> = 0.0140</text>
<text x="1091.74" y="160.15" font-size="24" text-anchor="middle" >*</text>
<line x1="1048.98" y1="157.72" x2="1134.13" y2="157.72" stroke="#2a2a2a" stroke-width="1.2" />
<text x="1194.13" y="119.64" font-size="23.5" textLength="117.84" lengthAdjust="spacingAndGlyphs" ><tspan font-style="italic">P</tspan> = 0.0077</text>
<text x="1252.34" y="157.99" font-size="24" text-anchor="middle" textLength="21.48" lengthAdjust="spacingAndGlyphs" >**</text>
<line x1="1209.58" y1="155.57" x2="1295.09" y2="155.57" stroke="#2a2a2a" stroke-width="1.2" />
<text x="1356.89" y="113.17" font-size="23.5" textLength="121.44" lengthAdjust="spacingAndGlyphs" ><tspan font-style="italic">P</tspan> = 0.0087</text>
<text x="1416.17" y="146.85" font-size="24" text-anchor="middle" textLength="21.48" lengthAdjust="spacingAndGlyphs" >**</text>
<line x1="1371.26" y1="141.56" x2="1456.77" y2="141.56" stroke="#2a2a2a" stroke-width="1.2" />
<text x="1514.19" y="129.34" font-size="23.5" textLength="120.72" lengthAdjust="spacingAndGlyphs" ><tspan font-style="italic">P</tspan> = 0.0024</text>
<text x="1571.67" y="165.9" font-size="24" text-anchor="middle" textLength="21.48" lengthAdjust="spacingAndGlyphs" >**</text>
<line x1="1529.28" y1="162.04" x2="1614.43" y2="162.04" stroke="#2a2a2a" stroke-width="1.2" />
<text x="1665.08" y="95.57" font-size="23.5" textLength="116.77" lengthAdjust="spacingAndGlyphs" ><tspan font-style="italic">P</tspan> &lt; 0.0001</text>
<text x="1729.4" y="126.37" font-size="24" text-anchor="middle" textLength="42.97" lengthAdjust="spacingAndGlyphs" >****</text>
<line x1="1687" y1="121.8" x2="1772.51" y2="121.8" stroke="#2a2a2a" stroke-width="1.2" />
<rect x="1844.51" y="91.76" width="33.13" height="16.25" fill="#a0a0a0" stroke="#161616" stroke-width="1.1" />
<text x="1891.07" y="106.35" font-size="21.5" textLength="54.6" lengthAdjust="spacingAndGlyphs" >CTRL</text>
<rect x="1844.51" y="124.09" width="33.13" height="16.6" fill="#ff0000" stroke="#161616" stroke-width="1.1" />
<text x="1891.07" y="140.84" font-size="21.5" textLength="56" lengthAdjust="spacingAndGlyphs" >BLEO</text>
</g>
<g id="pc">
<text x="874.06" y="606.7" font-size="38.5" font-weight="bold" fill="#000" stroke="#000" stroke-width="1.1" stroke-linejoin="round">c</text>
<text x="1410.6" y="616.2" font-size="28" text-anchor="middle" textLength="50" lengthAdjust="spacingAndGlyphs" >TCA</text>
<text font-size="27.5" text-anchor="middle" textLength="312.5" lengthAdjust="spacingAndGlyphs" transform="translate(903.1 827.5) rotate(-90)" ><tspan dy="-11.5" font-size="18">13</tspan><tspan dy="11.5">C fraction from labeled</tspan></text>
<text font-size="27.5" text-anchor="middle" textLength="98.7" lengthAdjust="spacingAndGlyphs" transform="translate(936.3 825.2) rotate(-90)" >glucose</text>
<line x1="1027.6" y1="642.1" x2="1027.6" y2="1009.87" stroke="#262626" stroke-width="1.3" />
<line x1="1016.6" y1="642.75" x2="1027.6" y2="642.75" stroke="#262626" stroke-width="1.3" />
<text x="1006.73" y="650.25" font-size="22" text-anchor="end" textLength="41.7" lengthAdjust="spacingAndGlyphs" >0.10</text>
<line x1="1016.6" y1="716.05" x2="1027.6" y2="716.05" stroke="#262626" stroke-width="1.3" />
<text x="1006.73" y="723.55" font-size="22" text-anchor="end" textLength="47.2" lengthAdjust="spacingAndGlyphs" >0.08</text>
<line x1="1016.6" y1="789.34" x2="1027.6" y2="789.34" stroke="#262626" stroke-width="1.3" />
<text x="1006.73" y="796.84" font-size="22" text-anchor="end" textLength="47.2" lengthAdjust="spacingAndGlyphs" >0.06</text>
<line x1="1016.6" y1="862.63" x2="1027.6" y2="862.63" stroke="#262626" stroke-width="1.3" />
<text x="1006.73" y="870.13" font-size="22" text-anchor="end" textLength="47.2" lengthAdjust="spacingAndGlyphs" >0.04</text>
<line x1="1016.6" y1="935.93" x2="1027.6" y2="935.93" stroke="#262626" stroke-width="1.3" />
<text x="1006.73" y="943.43" font-size="22" text-anchor="end" textLength="47.2" lengthAdjust="spacingAndGlyphs" >0.02</text>
<line x1="1016.6" y1="1009.22" x2="1027.6" y2="1009.22" stroke="#262626" stroke-width="1.3" />
<text x="1006.73" y="1016.72" font-size="22" text-anchor="end" textLength="13.3" lengthAdjust="spacingAndGlyphs" >0</text>
<line x1="1017.01" y1="1009.22" x2="1793.71" y2="1009.22" stroke="#262626" stroke-width="1.3" />
<line x1="1091.02" y1="1009.22" x2="1091.02" y2="1020.22" stroke="#262626" stroke-width="1.3" />
<text x="1091.02" y="1050.18" font-size="23.3" text-anchor="middle" textLength="71.5" lengthAdjust="spacingAndGlyphs" >Citrate</text>
<line x1="1250.18" y1="1009.22" x2="1250.18" y2="1020.22" stroke="#262626" stroke-width="1.3" />
<text x="1250.18" y="1050.18" font-size="23.3" text-anchor="middle" textLength="164.6" lengthAdjust="spacingAndGlyphs" >a-Ketoglutarate</text>
<line x1="1408.98" y1="1009.22" x2="1408.98" y2="1020.22" stroke="#262626" stroke-width="1.3" />
<text x="1408.98" y="1050.18" font-size="23.3" text-anchor="middle" textLength="103.5" lengthAdjust="spacingAndGlyphs" >Succinate</text>
<line x1="1568.8" y1="1009.22" x2="1568.8" y2="1020.22" stroke="#262626" stroke-width="1.3" />
<text x="1568.8" y="1050.18" font-size="23.3" text-anchor="middle" textLength="99.9" lengthAdjust="spacingAndGlyphs" >Fumarate</text>
<line x1="1727.96" y1="1009.22" x2="1727.96" y2="1020.22" stroke="#262626" stroke-width="1.3" />
<text x="1727.96" y="1050.18" font-size="23.3" text-anchor="middle" textLength="70.8" lengthAdjust="spacingAndGlyphs" >Malate</text>
<rect x="1044.45" y="909.48" width="29.9" height="99.74" fill="#a0a0a0" stroke="#161616" stroke-width="1.35" />
<rect x="1108.4" y="747.81" width="29.9" height="261.42" fill="#ff0000" stroke="#161616" stroke-width="1.35" />
<rect x="1203.61" y="881.82" width="29.9" height="127.4" fill="#a0a0a0" stroke="#161616" stroke-width="1.35" />
<rect x="1267.57" y="778.7" width="29.9" height="230.52" fill="#ff0000" stroke="#161616" stroke-width="1.35" />
<rect x="1362.78" y="979.9" width="29.9" height="29.32" fill="#a0a0a0" stroke="#161616" stroke-width="1.35" />
<rect x="1426.73" y="933.55" width="29.9" height="75.67" fill="#ff0000" stroke="#161616" stroke-width="1.35" />
<rect x="1521.87" y="864.21" width="29.9" height="145.01" fill="#a0a0a0" stroke="#161616" stroke-width="1.35" />
<rect x="1586.18" y="797.75" width="29.9" height="211.48" fill="#ff0000" stroke="#161616" stroke-width="1.35" />
<rect x="1681.03" y="829.36" width="30.26" height="179.86" fill="#a0a0a0" stroke="#161616" stroke-width="1.35" />
<rect x="1744.99" y="739.18" width="29.9" height="270.04" fill="#ff0000" stroke="#161616" stroke-width="1.35" />
<line x1="1059.4" y1="896.05" x2="1059.4" y2="920.84" stroke="#222" stroke-width="1.1" />
<line x1="1051.4" y1="896.05" x2="1067.4" y2="896.05" stroke="#222" stroke-width="1.1" />
<line x1="1051.4" y1="920.84" x2="1067.4" y2="920.84" stroke="#222" stroke-width="1.1" />
<line x1="1123.35" y1="723.23" x2="1123.35" y2="770.3" stroke="#222" stroke-width="1.1" />
<line x1="1115.35" y1="723.23" x2="1131.35" y2="723.23" stroke="#222" stroke-width="1.1" />
<line x1="1115.35" y1="770.3" x2="1131.35" y2="770.3" stroke="#222" stroke-width="1.1" />
<line x1="1218.56" y1="849.34" x2="1218.56" y2="910.42" stroke="#222" stroke-width="1.1" />
<line x1="1210.56" y1="849.34" x2="1226.56" y2="849.34" stroke="#222" stroke-width="1.1" />
<line x1="1210.56" y1="910.42" x2="1226.56" y2="910.42" stroke="#222" stroke-width="1.1" />
<line x1="1282.51" y1="732.93" x2="1282.51" y2="822.4" stroke="#222" stroke-width="1.1" />
<line x1="1274.51" y1="732.93" x2="1290.51" y2="732.93" stroke="#222" stroke-width="1.1" />
<line x1="1274.51" y1="822.4" x2="1290.51" y2="822.4" stroke="#222" stroke-width="1.1" />
<line x1="1377.72" y1="968.98" x2="1377.72" y2="988.38" stroke="#222" stroke-width="1.1" />
<line x1="1369.72" y1="968.98" x2="1385.72" y2="968.98" stroke="#222" stroke-width="1.1" />
<line x1="1369.72" y1="988.38" x2="1385.72" y2="988.38" stroke="#222" stroke-width="1.1" />
<line x1="1441.68" y1="908.98" x2="1441.68" y2="955.69" stroke="#222" stroke-width="1.1" />
<line x1="1433.68" y1="908.98" x2="1449.68" y2="908.98" stroke="#222" stroke-width="1.1" />
<line x1="1433.68" y1="955.69" x2="1449.68" y2="955.69" stroke="#222" stroke-width="1.1" />
<line x1="1536.82" y1="829.58" x2="1536.82" y2="896.77" stroke="#222" stroke-width="1.1" />
<line x1="1528.82" y1="829.58" x2="1544.82" y2="829.58" stroke="#222" stroke-width="1.1" />
<line x1="1528.82" y1="896.77" x2="1544.82" y2="896.77" stroke="#222" stroke-width="1.1" />
<line x1="1601.13" y1="771.74" x2="1601.13" y2="821.32" stroke="#222" stroke-width="1.1" />
<line x1="1593.13" y1="771.74" x2="1609.13" y2="771.74" stroke="#222" stroke-width="1.1" />
<line x1="1593.13" y1="821.32" x2="1609.13" y2="821.32" stroke="#222" stroke-width="1.1" />
<line x1="1695.98" y1="797.6" x2="1695.98" y2="859.4" stroke="#222" stroke-width="1.1" />
<line x1="1687.98" y1="797.6" x2="1703.98" y2="797.6" stroke="#222" stroke-width="1.1" />
<line x1="1687.98" y1="859.4" x2="1703.98" y2="859.4" stroke="#222" stroke-width="1.1" />
<line x1="1759.93" y1="697.37" x2="1759.93" y2="778.56" stroke="#222" stroke-width="1.1" />
<line x1="1751.93" y1="697.37" x2="1767.93" y2="697.37" stroke="#222" stroke-width="1.1" />
<line x1="1751.93" y1="778.56" x2="1767.93" y2="778.56" stroke="#222" stroke-width="1.1" />
<circle cx="1059.4" cy="896.05" r="3" fill="#000" />
<circle cx="1059.4" cy="909.34" r="3" fill="#000" />
<circle cx="1059.4" cy="920.84" r="3" fill="#000" />
<circle cx="1123.35" cy="719.64" r="3" fill="#000" />
<circle cx="1115.09" cy="756.65" r="3" fill="#000" />
<circle cx="1131.62" cy="763.83" r="3" fill="#000" />
<circle cx="1218.56" cy="851.5" r="3" fill="#000" />
<circle cx="1218.56" cy="877.37" r="3" fill="#000" />
<circle cx="1218.56" cy="912.22" r="3" fill="#000" />
<circle cx="1274.61" cy="750.54" r="3" fill="#000" />
<circle cx="1290.42" cy="753.41" r="3" fill="#000" />
<circle cx="1282.51" cy="829.22" r="3" fill="#000" />
<circle cx="1377.72" cy="968.62" r="3" fill="#000" />
<circle cx="1377.72" cy="979.76" r="3" fill="#000" />
<circle cx="1377.72" cy="987.66" r="3" fill="#000" />
<circle cx="1433.77" cy="915.81" r="3" fill="#000" />
<circle cx="1449.58" cy="922.63" r="3" fill="#000" />
<circle cx="1441.68" cy="958.92" r="3" fill="#000" />
<circle cx="1528.92" cy="825.63" r="3" fill="#000" />
<circle cx="1544.72" cy="820.96" r="3" fill="#000" />
<circle cx="1536.82" cy="860.48" r="3" fill="#000" />
<circle cx="1528.92" cy="880.6" r="3" fill="#000" />
<circle cx="1544.72" cy="887.43" r="3" fill="#000" />
<circle cx="1536.82" cy="902.87" r="3" fill="#000" />
<circle cx="1592.87" cy="772.1" r="3" fill="#000" />
<circle cx="1608.68" cy="767.78" r="3" fill="#000" />
<circle cx="1592.87" cy="794.37" r="3" fill="#000" />
<circle cx="1608.68" cy="796.53" r="3" fill="#000" />
<circle cx="1592.87" cy="822.04" r="3" fill="#000" />
<circle cx="1608.68" cy="828.14" r="3" fill="#000" />
<circle cx="1695.98" cy="798.68" r="3" fill="#000" />
<circle cx="1695.98" cy="825.63" r="3" fill="#000" />
<circle cx="1695.98" cy="860.48" r="3" fill="#000" />
<circle cx="1759.93" cy="692.69" r="3" fill="#000" />
<circle cx="1759.93" cy="754.85" r="3" fill="#000" />
<circle cx="1759.93" cy="768.14" r="3" fill="#000" />
<text x="1031.02" y="665.75" font-size="23.5" textLength="122.87" lengthAdjust="spacingAndGlyphs" ><tspan font-style="italic">P</tspan> = 0.0005</text>
<text x="1089.94" y="697.27" font-size="24" text-anchor="middle" textLength="32.23" lengthAdjust="spacingAndGlyphs" >***</text>
<line x1="1054.01" y1="695.57" x2="1125.15" y2="695.57" stroke="#2a2a2a" stroke-width="1.2" />
<text x="1189.46" y="669.34" font-size="23.5" textLength="122.51" lengthAdjust="spacingAndGlyphs" ><tspan font-style="italic">P</tspan> = 0.0305</text>
<text x="1250.9" y="699.07" font-size="24" text-anchor="middle" >*</text>
<line x1="1209.94" y1="695.57" x2="1287.54" y2="695.57" stroke="#2a2a2a" stroke-width="1.2" />
<text x="1351.14" y="778.2" font-size="23.5" textLength="122.16" lengthAdjust="spacingAndGlyphs" ><tspan font-style="italic">P</tspan> = 0.0340</text>
<text x="1411.5" y="811.52" font-size="24" text-anchor="middle" >*</text>
<line x1="1370.54" y1="808.38" x2="1448.5" y2="808.38" stroke="#2a2a2a" stroke-width="1.2" />
<text x="1511.31" y="683.71" font-size="23.5" textLength="117.13" lengthAdjust="spacingAndGlyphs" ><tspan font-style="italic">P</tspan> = 0.0031</text>
<text x="1567.36" y="714.16" font-size="24" text-anchor="middle" textLength="21.48" lengthAdjust="spacingAndGlyphs" >**</text>
<line x1="1529.28" y1="713.17" x2="1603.29" y2="713.17" stroke="#2a2a2a" stroke-width="1.2" />
<text x="1674.78" y="656.05" font-size="23.5" textLength="119.64" lengthAdjust="spacingAndGlyphs" ><tspan font-style="italic">P</tspan> = 0.0374</text>
<text x="1731.19" y="685.06" font-size="24" text-anchor="middle" >*</text>
<line x1="1692.39" y1="683.35" x2="1766.76" y2="683.35" stroke="#2a2a2a" stroke-width="1.2" />
<rect x="1846.66" y="629.24" width="32.77" height="16.6" fill="#a0a0a0" stroke="#161616" stroke-width="1.1" />
<text x="1893.23" y="644.19" font-size="21.5" textLength="54.6" lengthAdjust="spacingAndGlyphs" >CTRL</text>
<rect x="1846.66" y="661.94" width="32.77" height="16.25" fill="#ff0000" stroke="#161616" stroke-width="1.1" />
<text x="1893.23" y="678.32" font-size="21.5" textLength="56" lengthAdjust="spacingAndGlyphs" >BLEO</text>
</g>
<g id="pf">
<text x="1511.3" y="1140.9" font-size="40" font-weight="bold" fill="#000" stroke="#000" stroke-width="1.1" stroke-linejoin="round">f</text>
<text font-size="27.5" text-anchor="middle" textLength="421" lengthAdjust="spacingAndGlyphs" transform="translate(1534.3 1437) rotate(-90)" ><tspan dy="-11.5" font-size="18">13</tspan><tspan dy="11.5">C fraction from labeled glucose</tspan></text>
<line x1="1618.52" y1="1215.47" x2="1618.52" y2="1658.14" stroke="#262626" stroke-width="1.3" />
<line x1="1607.52" y1="1216.12" x2="1618.52" y2="1216.12" stroke="#262626" stroke-width="1.3" />
<text x="1596.62" y="1223.62" font-size="22" text-anchor="end" textLength="32.9" lengthAdjust="spacingAndGlyphs" >0.5</text>
<line x1="1607.52" y1="1304.05" x2="1618.52" y2="1304.05" stroke="#262626" stroke-width="1.3" />
<text x="1596.62" y="1311.55" font-size="22" text-anchor="end" textLength="32.9" lengthAdjust="spacingAndGlyphs" >0.4</text>
<line x1="1607.52" y1="1392.33" x2="1618.52" y2="1392.33" stroke="#262626" stroke-width="1.3" />
<text x="1596.62" y="1399.83" font-size="22" text-anchor="end" textLength="32.9" lengthAdjust="spacingAndGlyphs" >0.3</text>
<line x1="1607.52" y1="1480.94" x2="1618.52" y2="1480.94" stroke="#262626" stroke-width="1.3" />
<text x="1596.62" y="1488.44" font-size="22" text-anchor="end" textLength="32.9" lengthAdjust="spacingAndGlyphs" >0.2</text>
<line x1="1607.52" y1="1569.22" x2="1618.52" y2="1569.22" stroke="#262626" stroke-width="1.3" />
<text x="1596.62" y="1576.72" font-size="22" text-anchor="end" textLength="27.4" lengthAdjust="spacingAndGlyphs" >0.1</text>
<line x1="1607.52" y1="1657.49" x2="1618.52" y2="1657.49" stroke="#262626" stroke-width="1.3" />
<text x="1596.62" y="1664.99" font-size="22" text-anchor="end" textLength="13.3" lengthAdjust="spacingAndGlyphs" >0</text>
<line x1="1607.32" y1="1657.49" x2="1926.47" y2="1657.49" stroke="#262626" stroke-width="1.3" />
<line x1="1686.77" y1="1657.49" x2="1686.77" y2="1668.99" stroke="#262626" stroke-width="1.3" />
<text x="1686.77" y="1698.24" font-size="23.3" text-anchor="middle" textLength="92.3" lengthAdjust="spacingAndGlyphs" >Pyruvate</text>
<line x1="1857.55" y1="1657.49" x2="1857.55" y2="1668.99" stroke="#262626" stroke-width="1.3" />
<text x="1857.55" y="1698.24" font-size="23.3" text-anchor="middle" textLength="78.3" lengthAdjust="spacingAndGlyphs" >Lactate</text>
<rect x="1636.68" y="1400.64" width="31.93" height="256.86" fill="#a0a0a0" stroke="#161616" stroke-width="1.35" />
<rect x="1704.58" y="1361.93" width="32.27" height="295.56" fill="#ff0000" stroke="#161616" stroke-width="1.35" />
<rect x="1807.12" y="1401.99" width="31.93" height="255.5" fill="#a0a0a0" stroke="#161616" stroke-width="1.35" />
<rect x="1875.36" y="1303.53" width="31.93" height="353.96" fill="#ff0000" stroke="#161616" stroke-width="1.35" />
<line x1="1652.82" y1="1394.7" x2="1652.82" y2="1404.21" stroke="#222" stroke-width="1.1" />
<line x1="1644.82" y1="1394.7" x2="1660.82" y2="1394.7" stroke="#222" stroke-width="1.1" />
<line x1="1644.82" y1="1404.21" x2="1660.82" y2="1404.21" stroke="#222" stroke-width="1.1" />
<line x1="1720.72" y1="1354.98" x2="1720.72" y2="1366.52" stroke="#222" stroke-width="1.1" />
<line x1="1712.72" y1="1354.98" x2="1728.72" y2="1354.98" stroke="#222" stroke-width="1.1" />
<line x1="1712.72" y1="1366.52" x2="1728.72" y2="1366.52" stroke="#222" stroke-width="1.1" />
<line x1="1822.92" y1="1380.1" x2="1822.92" y2="1421.19" stroke="#222" stroke-width="1.1" />
<line x1="1814.92" y1="1380.1" x2="1830.92" y2="1380.1" stroke="#222" stroke-width="1.1" />
<line x1="1814.92" y1="1421.19" x2="1830.92" y2="1421.19" stroke="#222" stroke-width="1.1" />
<line x1="1891.5" y1="1290.81" x2="1891.5" y2="1313.9" stroke="#222" stroke-width="1.1" />
<line x1="1883.5" y1="1290.81" x2="1899.5" y2="1290.81" stroke="#222" stroke-width="1.1" />
<line x1="1883.5" y1="1313.9" x2="1899.5" y2="1313.9" stroke="#222" stroke-width="1.1" />
<circle cx="1644.33" cy="1399.12" r="3" fill="#000" />
<circle cx="1652.82" cy="1395.04" r="3" fill="#000" />
<circle cx="1661.3" cy="1404.55" r="3" fill="#000" />
<circle cx="1712.57" cy="1360.75" r="3" fill="#000" />
<circle cx="1720.72" cy="1355.32" r="3" fill="#000" />
<circle cx="1729.55" cy="1366.86" r="3" fill="#000" />
<circle cx="1822.92" cy="1376.37" r="3" fill="#000" />
<circle cx="1822.92" cy="1396.4" r="3" fill="#000" />
<circle cx="1822.92" cy="1405.57" r="3" fill="#000" />
<circle cx="1822.92" cy="1425.6" r="3" fill="#000" />
<circle cx="1891.5" cy="1286.4" r="3" fill="#000" />
<circle cx="1883.01" cy="1306.09" r="3" fill="#000" />
<circle cx="1891.5" cy="1303.71" r="3" fill="#000" />
<circle cx="1899.99" cy="1313.56" r="3" fill="#000" />
<text x="1629.39" y="1278.93" font-size="23.5" textLength="122.57" lengthAdjust="spacingAndGlyphs" ><tspan font-style="italic">P</tspan> = 0.0008</text>
<text x="1690.84" y="1313.88" font-size="24" text-anchor="middle" textLength="32.23" lengthAdjust="spacingAndGlyphs" >***</text>
<line x1="1644.33" y1="1310.16" x2="1729.55" y2="1310.16" stroke="#2a2a2a" stroke-width="1.2" />
<text x="1796.09" y="1231.06" font-size="23.5" textLength="122.23" lengthAdjust="spacingAndGlyphs" ><tspan font-style="italic">P</tspan> = 0.0002</text>
<text x="1852.79" y="1263.97" font-size="24" text-anchor="middle" textLength="32.23" lengthAdjust="spacingAndGlyphs" >***</text>
<line x1="1810.69" y1="1260.25" x2="1894.89" y2="1260.25" stroke="#2a2a2a" stroke-width="1.2" />
<rect x="1939.87" y="1209.15" width="36.01" height="18.35" fill="#a0a0a0" stroke="#161616" stroke-width="1.1" />
<text x="1989.28" y="1227.32" font-size="21.5" textLength="54.6" lengthAdjust="spacingAndGlyphs" >CTRL</text>
<rect x="1939.87" y="1247.85" width="36.01" height="18.35" fill="#ff0000" stroke="#161616" stroke-width="1.1" />
<text x="1989.28" y="1265.69" font-size="21.5" textLength="56" lengthAdjust="spacingAndGlyphs" >BLEO</text>
</g>
<g id="pd">
<text x="14.3" y="1141.7" font-size="40" font-weight="bold" fill="#000" stroke="#000" stroke-width="1.1" stroke-linejoin="round">d</text>
<rect x="90" y="1146.3" width="94.48" height="57.93" fill="#c9e0ed" />
<rect x="184.18" y="1146.3" width="94.48" height="57.93" fill="#fdeee8" />
<rect x="278.37" y="1146.3" width="94.48" height="57.93" fill="#4380b9" />
<rect x="372.55" y="1146.3" width="94.48" height="57.93" fill="#f0f5f6" />
<rect x="466.73" y="1146.3" width="94.48" height="57.93" fill="#cc5247" />
<rect x="560.92" y="1146.3" width="94.48" height="57.93" fill="#fdb595" />
<rect x="90" y="1203.93" width="94.48" height="57.93" fill="#a4cae0" />
<rect x="184.18" y="1203.93" width="94.48" height="57.93" fill="#dfeef5" />
<rect x="278.37" y="1203.93" width="94.48" height="57.93" fill="#76abcd" />
<rect x="372.55" y="1203.93" width="94.48" height="57.93" fill="#cc5247" />
<rect x="466.73" y="1203.93" width="94.48" height="57.93" fill="#f5875f" />
<rect x="560.92" y="1203.93" width="94.48" height="57.93" fill="#f0f4f5" />
<rect x="90" y="1261.57" width="94.48" height="57.93" fill="#5f99c7" />
<rect x="184.18" y="1261.57" width="94.48" height="57.93" fill="#dcecf4" />
<rect x="278.37" y="1261.57" width="94.48" height="57.93" fill="#e6f0f6" />
<rect x="372.55" y="1261.57" width="94.48" height="57.93" fill="#e8f0f7" />
<rect x="466.73" y="1261.57" width="94.48" height="57.93" fill="#fdc0a3" />
<rect x="560.92" y="1261.57" width="94.48" height="57.93" fill="#b0222e" />
<rect x="90" y="1319.2" width="94.48" height="57.93" fill="#346cb0" />
<rect x="184.18" y="1319.2" width="94.48" height="57.93" fill="#fee7db" />
<rect x="278.37" y="1319.2" width="94.48" height="57.93" fill="#a8cde1" />
<rect x="372.55" y="1319.2" width="94.48" height="57.93" fill="#fdae8b" />
<rect x="466.73" y="1319.2" width="94.48" height="57.93" fill="#fed3bd" />
<rect x="560.92" y="1319.2" width="94.48" height="57.93" fill="#fdb99b" />
<rect x="90" y="1376.83" width="94.48" height="57.93" fill="#99c2db" />
<rect x="184.18" y="1376.83" width="94.48" height="57.93" fill="#72a8cb" />
<rect x="278.37" y="1376.83" width="94.48" height="57.93" fill="#b4d4e6" />
<rect x="372.55" y="1376.83" width="94.48" height="57.93" fill="#fba682" />
<rect x="466.73" y="1376.83" width="94.48" height="57.93" fill="#fba682" />
<rect x="560.92" y="1376.83" width="94.48" height="57.93" fill="#fc9d79" />
<rect x="90" y="1434.47" width="94.48" height="57.93" fill="#77abcd" />
<rect x="184.18" y="1434.47" width="94.48" height="57.93" fill="#91bfd8" />
<rect x="278.37" y="1434.47" width="94.48" height="57.93" fill="#b4d3e6" />
<rect x="372.55" y="1434.47" width="94.48" height="57.93" fill="#fb9a72" />
<rect x="466.73" y="1434.47" width="94.48" height="57.93" fill="#fc9d77" />
<rect x="560.92" y="1434.47" width="94.48" height="57.93" fill="#fdb596" />
<rect x="90" y="1492.1" width="94.48" height="57.93" fill="#346cb0" />
<rect x="184.18" y="1492.1" width="94.48" height="57.93" fill="#e8f0f8" />
<rect x="278.37" y="1492.1" width="94.48" height="57.93" fill="#e3eff6" />
<rect x="372.55" y="1492.1" width="94.48" height="57.93" fill="#fdb090" />
<rect x="466.73" y="1492.1" width="94.48" height="57.93" fill="#fee5d8" />
<rect x="560.92" y="1492.1" width="94.48" height="57.93" fill="#e87757" />
<rect x="90" y="1549.73" width="94.48" height="57.93" fill="#4a86bd" />
<rect x="184.18" y="1549.73" width="94.48" height="57.93" fill="#90bed8" />
<rect x="278.37" y="1549.73" width="94.48" height="57.93" fill="#ecf3f6" />
<rect x="372.55" y="1549.73" width="94.48" height="57.93" fill="#fdb797" />
<rect x="466.73" y="1549.73" width="94.48" height="57.93" fill="#fdbb9e" />
<rect x="560.92" y="1549.73" width="94.48" height="57.93" fill="#f78e65" />
<rect x="90" y="1607.37" width="94.48" height="57.93" fill="#4a86bd" />
<rect x="184.18" y="1607.37" width="94.48" height="57.93" fill="#c3ddea" />
<rect x="278.37" y="1607.37" width="94.48" height="57.93" fill="#d9eaf3" />
<rect x="372.55" y="1607.37" width="94.48" height="57.93" fill="#fba985" />
<rect x="466.73" y="1607.37" width="94.48" height="57.93" fill="#fdbfa2" />
<rect x="560.92" y="1607.37" width="94.48" height="57.93" fill="#f8926a" />
<line x1="90" y1="1146.3" x2="90" y2="1665" stroke="#a3a3a3" stroke-width="0.9" />
<line x1="184.18" y1="1146.3" x2="184.18" y2="1665" stroke="#a3a3a3" stroke-width="0.9" />
<line x1="278.37" y1="1146.3" x2="278.37" y2="1665" stroke="#a3a3a3" stroke-width="0.9" />
<line x1="372.55" y1="1146.3" x2="372.55" y2="1665" stroke="#a3a3a3" stroke-width="0.9" />
<line x1="466.73" y1="1146.3" x2="466.73" y2="1665" stroke="#a3a3a3" stroke-width="0.9" />
<line x1="560.92" y1="1146.3" x2="560.92" y2="1665" stroke="#a3a3a3" stroke-width="0.9" />
<line x1="655.1" y1="1146.3" x2="655.1" y2="1665" stroke="#a3a3a3" stroke-width="0.9" />
<line x1="90" y1="1146.3" x2="655.1" y2="1146.3" stroke="#a3a3a3" stroke-width="0.9" />
<line x1="90" y1="1203.93" x2="655.1" y2="1203.93" stroke="#a3a3a3" stroke-width="0.9" />
<line x1="90" y1="1261.57" x2="655.1" y2="1261.57" stroke="#a3a3a3" stroke-width="0.9" />
<line x1="90" y1="1319.2" x2="655.1" y2="1319.2" stroke="#a3a3a3" stroke-width="0.9" />
<line x1="90" y1="1376.83" x2="655.1" y2="1376.83" stroke="#a3a3a3" stroke-width="0.9" />
<line x1="90" y1="1434.47" x2="655.1" y2="1434.47" stroke="#a3a3a3" stroke-width="0.9" />
<line x1="90" y1="1492.1" x2="655.1" y2="1492.1" stroke="#a3a3a3" stroke-width="0.9" />
<line x1="90" y1="1549.73" x2="655.1" y2="1549.73" stroke="#a3a3a3" stroke-width="0.9" />
<line x1="90" y1="1607.37" x2="655.1" y2="1607.37" stroke="#a3a3a3" stroke-width="0.9" />
<line x1="90" y1="1665" x2="655.1" y2="1665" stroke="#a3a3a3" stroke-width="0.9" />
<text x="662.3" y="1182.9" font-size="23.3" textLength="71" lengthAdjust="spacingAndGlyphs" >Malate</text>
<text x="662.3" y="1241.5" font-size="23.3" textLength="105.9" lengthAdjust="spacingAndGlyphs" >Succinate</text>
<text x="662.3" y="1296.6" font-size="23.3" textLength="43.6" lengthAdjust="spacingAndGlyphs" >3PG</text>
<text x="662.3" y="1355.1" font-size="23.3" textLength="99.6" lengthAdjust="spacingAndGlyphs" >Fumarate</text>
<text x="662.3" y="1412.7" font-size="23.3" textLength="78.5" lengthAdjust="spacingAndGlyphs" >Lactate</text>
<text x="662.3" y="1470.8" font-size="23.3" textLength="71.6" lengthAdjust="spacingAndGlyphs" >Citrate</text>
<text x="662.3" y="1528.4" font-size="23.3" textLength="60.7" lengthAdjust="spacingAndGlyphs" >DHAP</text>
<text x="662.3" y="1585" font-size="23.3" textLength="45.1" lengthAdjust="spacingAndGlyphs" >GAP</text>
<text x="662.3" y="1642.6" font-size="23.3" textLength="91.8" lengthAdjust="spacingAndGlyphs" >Pyruvate</text>
<text x="137.8" y="1686.1" font-size="17.5" text-anchor="middle" >1</text>
<text x="236.4" y="1686.1" font-size="17.5" text-anchor="middle" >2</text>
<text x="328.5" y="1686.1" font-size="17.5" text-anchor="middle" >3</text>
<text x="422.5" y="1686.1" font-size="17.5" text-anchor="middle" >1</text>
<text x="516.9" y="1686.1" font-size="17.5" text-anchor="middle" >2</text>
<text x="610.9" y="1686.1" font-size="17.5" text-anchor="middle" >3</text>
<line x1="109.9" y1="1698.3" x2="353.4" y2="1698.3" stroke="#111" stroke-width="2" />
<line x1="392.9" y1="1698.3" x2="635.2" y2="1698.3" stroke="#111" stroke-width="2" />
<text x="238" y="1725" font-size="22.5" text-anchor="middle" textLength="54.6" lengthAdjust="spacingAndGlyphs" >CTRL</text>
<text x="516.2" y="1724.8" font-size="22.5" text-anchor="middle" textLength="55.6" lengthAdjust="spacingAndGlyphs" >BLEO</text>
<path d="M90 1175.12 L36.5 1175.12 L36.5 1294.8 L76.7 1294.8" fill="none" stroke="#33333a" stroke-width="1" />
<path d="M90 1232.75 L76.7 1232.75 L76.7 1357.1 L81 1357.1" fill="none" stroke="#33333a" stroke-width="1" />
<path d="M90 1290.38 L81 1290.38 L81 1423.5 L83.5 1423.5" fill="none" stroke="#33333a" stroke-width="1" />
<path d="M90 1348.02 L83.5 1348.02 L83.5 1499 L86.6 1499" fill="none" stroke="#33333a" stroke-width="1" />
<path d="M90 1434.5 L86.8 1434.5 L86.8 1564 L88.5 1564" fill="none" stroke="#33333a" stroke-width="1" />
<path d="M88 1521 L88 1607.5" fill="none" stroke="#33333a" stroke-width="1.6" />
<path d="M81.8 1400 L81.8 1423.5" fill="none" stroke="#33333a" stroke-width="1.6" />
<defs><linearGradient id="cb" x1="0" y1="0" x2="0" y2="1"><stop offset="0" stop-color="#b2202c"/><stop offset="0.167" stop-color="#e0694f"/><stop offset="0.333" stop-color="#fcc1a4"/><stop offset="0.5" stop-color="#f7f7f6"/><stop offset="0.667" stop-color="#c2dcea"/><stop offset="0.833" stop-color="#79adcf"/><stop offset="1" stop-color="#356eb0"/></linearGradient></defs>
<rect x="783.7" y="1147.1" width="11.9" height="157.9" fill="url(#cb)" />
<text x="801.5" y="1155.5" font-size="17.5" textLength="21.8" lengthAdjust="spacingAndGlyphs" >1.5</text>
<text x="801.5" y="1180.4" font-size="17.5" textLength="7" lengthAdjust="spacingAndGlyphs" >1</text>
<text x="801.5" y="1205" font-size="17.5" textLength="26.5" lengthAdjust="spacingAndGlyphs" >0.5</text>
<text x="801.5" y="1229.6" font-size="17.5" textLength="11.5" lengthAdjust="spacingAndGlyphs" >0</text>
<text x="801.5" y="1254.9" font-size="17.5" textLength="36.7" lengthAdjust="spacingAndGlyphs" >−0.5</text>
<text x="801.5" y="1280.4" font-size="17.5" textLength="17" lengthAdjust="spacingAndGlyphs" >−1</text>
<text x="801.5" y="1303.1" font-size="17.5" textLength="32" lengthAdjust="spacingAndGlyphs" >−1.5</text>
</g>
<g id="pe">
<defs>
<filter id="bl0" x="-50%" y="-50%" width="200%" height="200%"><feGaussianBlur stdDeviation="0.4"/></filter>
<filter id="bl1" x="-50%" y="-50%" width="200%" height="200%"><feGaussianBlur stdDeviation="0.9"/></filter>
<filter id="bl2" x="-50%" y="-50%" width="200%" height="200%"><feGaussianBlur stdDeviation="1.8"/></filter>
<filter id="bl3" x="-50%" y="-50%" width="200%" height="200%"><feGaussianBlur stdDeviation="3.5"/></filter>
<filter id="bl4" x="-50%" y="-50%" width="200%" height="200%"><feGaussianBlur stdDeviation="7"/></filter>
</defs>
<text x="873.56" y="1140.9" font-size="38.5" font-weight="bold" fill="#000" stroke="#000" stroke-width="1.1" stroke-linejoin="round">e</text>
<rect x="1058.2" y="1161.3" width="29.4" height="37.6" fill="#fbb900" stroke="#e2a700" stroke-width="0.8" />
<text x="1072.9" y="1190.5" font-size="26" text-anchor="middle" fill="#fff" >L</text>
<rect x="1317.6" y="1161.3" width="33.7" height="37.6" fill="#fbb900" stroke="#e2a700" stroke-width="0.8" />
<text x="1334.4" y="1190.5" font-size="26" text-anchor="middle" fill="#fff" >H</text>
<rect x="874.3" y="1272.6" width="37.2" height="79.6" fill="#fff" stroke="#111" stroke-width="1.3" />
<text font-size="25.5" text-anchor="middle" textLength="65.5" lengthAdjust="spacingAndGlyphs" transform="translate(902.6 1312.6) rotate(-90)" >CTRL</text>
<rect x="874.3" y="1530.5" width="37.2" height="81.5" fill="#fff" stroke="#111" stroke-width="1.3" />
<text font-size="25.5" text-anchor="middle" textLength="67.5" lengthAdjust="spacingAndGlyphs" transform="translate(902.6 1571.4) rotate(-90)" >BLEO</text>
<clipPath id="c1"><rect x="930" y="1204.5" width="268.3" height="241.8"/></clipPath>
<filter id="gr1" filterUnits="userSpaceOnUse" x="928" y="1202.5" width="272.3" height="245.8" color-interpolation-filters="sRGB"><feTurbulence type="fractalNoise" baseFrequency="0.3" numOctaves="2" seed="7" result="n"/><feColorMatrix in="n" type="matrix" values="1 0 0 0 0  1 0 0 0 0  1 0 0 0 0  0 0 0 0 1" result="ng"/><feTurbulence type="fractalNoise" baseFrequency="0.1" numOctaves="2" seed="18" result="m"/><feColorMatrix in="m" type="matrix" values="1 0 0 0 0  1 0 0 0 0  1 0 0 0 0  0 0 0 0 1" result="mg"/><feComposite in="SourceGraphic" in2="ng" operator="arithmetic" k1="0" k2="1" k3="0.5" k4="-0.25" result="s1"/><feComposite in="s1" in2="mg" operator="arithmetic" k1="0" k2="1" k3="0.3" k4="-0.15"/></filter>
<g clip-path="url(#c1)"><g filter="url(#gr1)">
<rect x="927" y="1201.5" width="274.3" height="247.8" fill="#a3a3a3" />
<ellipse cx="1059.82" cy="1220.23" rx="136.31" ry="17.85" fill="#8c8c8c" opacity="0.5" transform="rotate(0 1059.82 1220.23)" filter="url(#bl3)"/>
<ellipse cx="1171.79" cy="1333.82" rx="30.83" ry="107.1" fill="#7c7c7c" opacity="0.85" transform="rotate(0 1171.79 1333.82)" filter="url(#bl3)"/>
<ellipse cx="1037.1" cy="1249.44" rx="45.44" ry="13.63" fill="#b6b6b6" opacity="0.95" transform="rotate(-8 1037.1 1249.44)" filter="url(#bl2)"/>
<ellipse cx="1027.37" cy="1294.87" rx="29.21" ry="14.6" fill="#b0b0b0" opacity="0.9" transform="rotate(0 1027.37 1294.87)" filter="url(#bl2)"/>
<ellipse cx="1011.14" cy="1343.56" rx="64.91" ry="25.96" fill="#909090" opacity="0.5" transform="rotate(0 1011.14 1343.56)" filter="url(#bl3)"/>
<ellipse cx="952.72" cy="1410.09" rx="30.83" ry="14.6" fill="#e4e4e4" opacity="1" transform="rotate(0 952.72 1410.09)" filter="url(#bl2)"/>
<ellipse cx="941.36" cy="1320.84" rx="5.19" ry="30.83" fill="#dedede" opacity="1" transform="rotate(20 941.36 1320.84)" filter="url(#bl1)"/>
<ellipse cx="1082.54" cy="1385.75" rx="51.93" ry="38.95" fill="#a4a4a4" opacity="0.7" transform="rotate(0 1082.54 1385.75)" filter="url(#bl3)"/>
<ellipse cx="940.93" cy="1320.72" rx="5.87" ry="31.86" fill="#d6d6d6" opacity="1" transform="rotate(18 940.93 1320.72)" filter="url(#bl2)"/>
<ellipse cx="1161.41" cy="1293.89" rx="6.37" ry="15.93" fill="#c8c8c8" opacity="1" transform="rotate(18 1161.41 1293.89)" filter="url(#bl1)"/>
<ellipse cx="1159.73" cy="1332.46" rx="9.22" ry="9.22" fill="#bcbcbc" opacity="1" transform="rotate(0 1159.73 1332.46)" filter="url(#bl2)"/>
<ellipse cx="1107.75" cy="1429.7" rx="10.4" ry="8.05" fill="#d2d2d2" opacity="1" transform="rotate(-15 1107.75 1429.7)" filter="url(#bl1)"/>
<ellipse cx="1130.39" cy="1397.84" rx="4.69" ry="9.22" fill="#c6c6c6" opacity="1" transform="rotate(15 1130.39 1397.84)" filter="url(#bl1)"/>
<ellipse cx="1052.43" cy="1434.73" rx="11.74" ry="6.71" fill="#c6c6c6" opacity="1" transform="rotate(0 1052.43 1434.73)" filter="url(#bl2)"/>
<ellipse cx="1186.56" cy="1213.41" rx="10.06" ry="6.71" fill="#cfcfcf" opacity="1" transform="rotate(-30 1186.56 1213.41)" filter="url(#bl2)"/>
<ellipse cx="971.11" cy="1374.37" rx="5.03" ry="14.25" fill="#1c1c1c" opacity="1" transform="rotate(14 971.11 1374.37)" filter="url(#bl1)"/>
<ellipse cx="1082.6" cy="1385.27" rx="2.01" ry="6.37" fill="#222" opacity="1" transform="rotate(28 1082.6 1385.27)" filter="url(#bl1)"/>
<ellipse cx="1150.51" cy="1211.74" rx="10.4" ry="9.72" fill="#606060" opacity="1" transform="rotate(0 1150.51 1211.74)" filter="url(#bl2)"/>
<ellipse cx="1092.66" cy="1433.89" rx="9.72" ry="9.22" fill="#5c5c5c" opacity="1" transform="rotate(0 1092.66 1433.89)" filter="url(#bl2)"/>
<ellipse cx="1078.75" cy="1413.77" rx="4.36" ry="4.36" fill="#3a3a3a" opacity="1" transform="rotate(0 1078.75 1413.77)" filter="url(#bl1)"/>
<ellipse cx="976.98" cy="1338.32" rx="9.22" ry="9.72" fill="#858585" opacity="1" transform="rotate(0 976.98 1338.32)" filter="url(#bl1)"/>
<ellipse cx="948.47" cy="1433.05" rx="9.72" ry="9.22" fill="#8e8e8e" opacity="1" transform="rotate(0 948.47 1433.05)" filter="url(#bl1)"/>
<ellipse cx="980.33" cy="1438.08" rx="9.72" ry="9.22" fill="#969696" opacity="1" transform="rotate(0 980.33 1438.08)" filter="url(#bl1)"/>
<ellipse cx="1068.35" cy="1397.84" rx="8.38" ry="8.38" fill="#7c7c7c" opacity="1" transform="rotate(0 1068.35 1397.84)" filter="url(#bl1)"/>
<ellipse cx="1057.46" cy="1216.77" rx="3.35" ry="3.35" fill="#555" opacity="1" transform="rotate(0 1057.46 1216.77)" filter="url(#bl1)"/>
<ellipse cx="951.83" cy="1352.57" rx="12.57" ry="8.38" fill="#b5b5b5" opacity="1" transform="rotate(-35 951.83 1352.57)" filter="url(#bl1)"/>
<path d="M1018.89 1424.67 Q1037.34 1399.52 1054.94 1387.78 Q1072.54 1376.05 1091.83 1365.15 Q1111.11 1354.25 1131.23 1332.46" fill="none" stroke="#484848" stroke-width="11.5" opacity="0.8" stroke-linecap="round" filter="url(#bl0)"/>
<path d="M1018.89 1424.67 Q1037.34 1399.52 1054.94 1387.78 Q1072.54 1376.05 1091.83 1365.15 Q1111.11 1354.25 1131.23 1332.46" fill="none" stroke="#c4c4c4" stroke-width="8.5" stroke-linecap="round" filter="url(#bl0)"/>
<path d="M1018.89 1424.67 Q1037.34 1399.52 1054.94 1387.78 Q1072.54 1376.05 1091.83 1365.15 Q1111.11 1354.25 1131.23 1332.46" fill="none" stroke="#484848" stroke-width="8.5" opacity="0.55" stroke-dasharray="1.4 7.68" filter="url(#bl0)"/>
<path d="M1045.72 1312.34 Q1075.9 1298.92 1089.31 1289.7 Q1102.72 1280.48 1131.23 1251.98" fill="none" stroke="#585858" stroke-width="8" opacity="0.8" stroke-linecap="round" filter="url(#bl0)"/>
<path d="M1045.72 1312.34 Q1075.9 1298.92 1089.31 1289.7 Q1102.72 1280.48 1131.23 1251.98" fill="none" stroke="#a8a8a8" stroke-width="5" stroke-linecap="round" filter="url(#bl0)"/>
<path d="M1045.72 1312.34 Q1075.9 1298.92 1089.31 1289.7 Q1102.72 1280.48 1131.23 1251.98" fill="none" stroke="#585858" stroke-width="5" opacity="0.55" stroke-dasharray="1.4 5.75" filter="url(#bl0)"/>
<path d="M1074.22 1282.16 Q1085.96 1273.77 1097.69 1273.77" fill="none" stroke="#505050" stroke-width="12" opacity="0.8" stroke-linecap="round" filter="url(#bl0)"/>
<path d="M1074.22 1282.16 Q1085.96 1273.77 1097.69 1273.77" fill="none" stroke="#b8b8b8" stroke-width="9" stroke-linecap="round" filter="url(#bl0)"/>
<path d="M1074.22 1282.16 Q1085.96 1273.77 1097.69 1273.77" fill="none" stroke="#505050" stroke-width="9" opacity="0.55" stroke-dasharray="1.4 7.95" filter="url(#bl0)"/>
<path d="M1102.72 1297.25 L1114.46 1288.86" fill="none" stroke="#505050" stroke-width="12" opacity="0.8" stroke-linecap="round" filter="url(#bl0)"/>
<path d="M1102.72 1297.25 L1114.46 1288.86" fill="none" stroke="#b8b8b8" stroke-width="9" stroke-linecap="round" filter="url(#bl0)"/>
<path d="M1102.72 1297.25 L1114.46 1288.86" fill="none" stroke="#505050" stroke-width="9" opacity="0.55" stroke-dasharray="1.4 7.95" filter="url(#bl0)"/>
<path d="M1124.52 1230.18 L1136.26 1225.15" fill="none" stroke="#585858" stroke-width="11" opacity="0.8" stroke-linecap="round" filter="url(#bl0)"/>
<path d="M1124.52 1230.18 L1136.26 1225.15" fill="none" stroke="#9a9a9a" stroke-width="8" stroke-linecap="round" filter="url(#bl0)"/>
<path d="M1124.52 1230.18 L1136.26 1225.15" fill="none" stroke="#585858" stroke-width="8" opacity="0.55" stroke-dasharray="1.4 7.4" filter="url(#bl0)"/>
<path d="M958.53 1255.33 Q995.42 1267.07 1013.86 1254.49 Q1032.31 1241.92 1054.1 1250.3 Q1075.9 1258.68 1080.93 1250.3" fill="none" stroke="#4a4a4a" stroke-width="4.42" opacity="0.3" stroke-linecap="round" filter="url(#bl1)"/>
<path d="M958.53 1255.33 Q995.42 1267.07 1013.86 1254.49 Q1032.31 1241.92 1054.1 1250.3 Q1075.9 1258.68 1080.93 1250.3" fill="none" stroke="#4a4a4a" stroke-width="1.7" opacity="0.62" stroke-linecap="round" filter="url(#bl0)"/>
<path d="M1069.19 1280.48 Q1085.96 1270.42 1092.66 1272.93 Q1099.37 1275.45 1092.66 1281.32 Q1085.96 1287.19 1070.87 1285.51" fill="none" stroke="#4a4a4a" stroke-width="4.42" opacity="0.3" stroke-linecap="round" filter="url(#bl1)"/>
<path d="M1069.19 1280.48 Q1085.96 1270.42 1092.66 1272.93 Q1099.37 1275.45 1092.66 1281.32 Q1085.96 1287.19 1070.87 1285.51" fill="none" stroke="#4a4a4a" stroke-width="1.7" opacity="0.62" stroke-linecap="round" filter="url(#bl0)"/>
<path d="M941.77 1347.54 Q953.5 1340.84 958.53 1344.19 Q963.56 1347.54 959.37 1353.41 Q955.18 1359.28 949.31 1360.12 Q943.44 1360.96 940.09 1350.9" fill="none" stroke="#4a4a4a" stroke-width="4.42" opacity="0.3" stroke-linecap="round" filter="url(#bl1)"/>
<path d="M941.77 1347.54 Q953.5 1340.84 958.53 1344.19 Q963.56 1347.54 959.37 1353.41 Q955.18 1359.28 949.31 1360.12 Q943.44 1360.96 940.09 1350.9" fill="none" stroke="#4a4a4a" stroke-width="1.7" opacity="0.62" stroke-linecap="round" filter="url(#bl0)"/>
</g></g>
<rect x="930" y="1204.5" width="268.3" height="241.8" fill="none" stroke="#111" stroke-width="1.3" />
<rect x="941.8" y="1216.8" width="42.7" height="8.4" fill="#00a8ea" />
<rect x="998.9" y="1315.4" width="140.6" height="121.5" fill="none" stroke="#ffff00" stroke-width="2.6" stroke-dasharray="8.6 4.9"/>
<clipPath id="c2"><rect x="1203" y="1204.5" width="269" height="241.8"/></clipPath>
<filter id="gr2" filterUnits="userSpaceOnUse" x="1201" y="1202.5" width="273" height="245.8" color-interpolation-filters="sRGB"><feTurbulence type="fractalNoise" baseFrequency="0.3" numOctaves="2" seed="14" result="n"/><feColorMatrix in="n" type="matrix" values="1 0 0 0 0  1 0 0 0 0  1 0 0 0 0  0 0 0 0 1" result="ng"/><feTurbulence type="fractalNoise" baseFrequency="0.1" numOctaves="2" seed="31" result="m"/><feColorMatrix in="m" type="matrix" values="1 0 0 0 0  1 0 0 0 0  1 0 0 0 0  0 0 0 0 1" result="mg"/><feComposite in="SourceGraphic" in2="ng" operator="arithmetic" k1="0" k2="1" k3="0.5" k4="-0.25" result="s1"/><feComposite in="s1" in2="mg" operator="arithmetic" k1="0" k2="1" k3="0.3" k4="-0.15"/></filter>
<g clip-path="url(#c2)"><g filter="url(#gr2)">
<rect x="1200" y="1201.5" width="275" height="247.8" fill="#a2a2a2" />
<ellipse cx="1257.8" cy="1268.91" rx="68.16" ry="68.16" fill="#767676" opacity="0.9" transform="rotate(0 1257.8 1268.91)" filter="url(#bl4)"/>
<ellipse cx="1222.1" cy="1372.77" rx="29.21" ry="51.93" fill="#8a8a8a" opacity="0.7" transform="rotate(0 1222.1 1372.77)" filter="url(#bl3)"/>
<ellipse cx="1423.32" cy="1343.56" rx="61.66" ry="97.37" fill="#bcbcbc" opacity="0.9" transform="rotate(0 1423.32 1343.56)" filter="url(#bl4)"/>
<ellipse cx="1303.23" cy="1411.71" rx="107.1" ry="35.7" fill="#b4b4b4" opacity="0.8" transform="rotate(0 1303.23 1411.71)" filter="url(#bl3)"/>
<ellipse cx="1415.2" cy="1422.1" rx="18.82" ry="15.58" fill="#dadada" opacity="1" transform="rotate(-15 1415.2 1422.1)" filter="url(#bl1)"/>
<ellipse cx="1384.37" cy="1432.81" rx="16.88" ry="14.93" fill="#4a4a4a" opacity="1" transform="rotate(0 1384.37 1432.81)" filter="url(#bl1)"/>
<ellipse cx="1462.26" cy="1427.94" rx="9.74" ry="19.47" fill="#d0d0d0" opacity="1" transform="rotate(20 1462.26 1427.94)" filter="url(#bl1)"/>
<ellipse cx="1414.64" cy="1424.67" rx="18.44" ry="16.77" fill="#d2d2d2" opacity="1" transform="rotate(0 1414.64 1424.67)" filter="url(#bl2)"/>
<ellipse cx="1384.46" cy="1434.73" rx="16.77" ry="13.41" fill="#5a5a5a" opacity="1" transform="rotate(0 1384.46 1434.73)" filter="url(#bl2)"/>
<ellipse cx="1357.63" cy="1399.52" rx="7.54" ry="8.38" fill="#2e2e2e" opacity="1" transform="rotate(0 1357.63 1399.52)" filter="url(#bl1)"/>
<ellipse cx="1366.02" cy="1345.87" rx="3.69" ry="8.38" fill="#2a2a2a" opacity="1" transform="rotate(30 1366.02 1345.87)" filter="url(#bl1)"/>
<ellipse cx="1335.84" cy="1369.34" rx="13.41" ry="15.09" fill="#8a8a8a" opacity="1" transform="rotate(0 1335.84 1369.34)" filter="url(#bl1)"/>
<ellipse cx="1330.81" cy="1371.02" rx="8.38" ry="10.06" fill="#b4b4b4" opacity="1" transform="rotate(0 1330.81 1371.02)" filter="url(#bl1)"/>
<ellipse cx="1377.75" cy="1357.6" rx="11.74" ry="9.22" fill="#bebebe" opacity="1" transform="rotate(10 1377.75 1357.6)" filter="url(#bl1)"/>
<ellipse cx="1379.43" cy="1297.25" rx="13.41" ry="10.06" fill="#c6c6c6" opacity="1" transform="rotate(-30 1379.43 1297.25)" filter="url(#bl2)"/>
<ellipse cx="1340.87" cy="1324.07" rx="16.77" ry="10.06" fill="#c0c0c0" opacity="1" transform="rotate(-30 1340.87 1324.07)" filter="url(#bl2)"/>
<ellipse cx="1302.31" cy="1354.25" rx="15.09" ry="10.06" fill="#c6c6c6" opacity="1" transform="rotate(-30 1302.31 1354.25)" filter="url(#bl2)"/>
<ellipse cx="1250.33" cy="1401.2" rx="20.12" ry="11.74" fill="#c0c0c0" opacity="1" transform="rotate(-45 1250.33 1401.2)" filter="url(#bl2)"/>
<ellipse cx="1469.97" cy="1426.35" rx="6.71" ry="20.12" fill="#cfcfcf" opacity="1" transform="rotate(20 1469.97 1426.35)" filter="url(#bl2)"/>
<path d="M1240.27 1422.99 Q1262.07 1384.43 1283.86 1365.99 Q1305.66 1347.54 1336.68 1329.94 Q1367.69 1312.34 1394.52 1290.54 Q1421.35 1268.74 1453.2 1231.86" fill="none" stroke="#454545" stroke-width="22" opacity="0.8" stroke-linecap="round" filter="url(#bl0)"/>
<path d="M1240.27 1422.99 Q1262.07 1384.43 1283.86 1365.99 Q1305.66 1347.54 1336.68 1329.94 Q1367.69 1312.34 1394.52 1290.54 Q1421.35 1268.74 1453.2 1231.86" fill="none" stroke="#cdcdcd" stroke-width="19" stroke-linecap="round" filter="url(#bl0)"/>
<path d="M1240.27 1422.99 Q1262.07 1384.43 1283.86 1365.99 Q1305.66 1347.54 1336.68 1329.94 Q1367.69 1312.34 1394.52 1290.54 Q1421.35 1268.74 1453.2 1231.86" fill="none" stroke="#454545" stroke-width="19" opacity="0.55" stroke-dasharray="1.4 13.45" filter="url(#bl0)"/>
<path d="M1205.06 1315.69 Q1228.53 1317.37 1236.92 1325.75 Q1245.3 1334.13 1275.48 1342.51" fill="none" stroke="#4a4a4a" stroke-width="4.42" opacity="0.3" stroke-linecap="round" filter="url(#bl1)"/>
<path d="M1205.06 1315.69 Q1228.53 1317.37 1236.92 1325.75 Q1245.3 1334.13 1275.48 1342.51" fill="none" stroke="#4a4a4a" stroke-width="1.7" opacity="0.62" stroke-linecap="round" filter="url(#bl0)"/>
<path d="M1320.75 1371.02 Q1327.46 1355.93 1335 1356.77 Q1342.54 1357.6 1344.22 1365.99 Q1345.9 1374.37 1340.03 1380.24 Q1334.16 1386.11 1328.29 1382.75 Q1322.43 1379.4 1320.75 1371.02" fill="none" stroke="#4a4a4a" stroke-width="4.42" opacity="0.3" stroke-linecap="round" filter="url(#bl1)"/>
<path d="M1320.75 1371.02 Q1327.46 1355.93 1335 1356.77 Q1342.54 1357.6 1344.22 1365.99 Q1345.9 1374.37 1340.03 1380.24 Q1334.16 1386.11 1328.29 1382.75 Q1322.43 1379.4 1320.75 1371.02" fill="none" stroke="#4a4a4a" stroke-width="1.7" opacity="0.62" stroke-linecap="round" filter="url(#bl0)"/>
</g></g>
<rect x="1203" y="1204.5" width="269" height="241.8" fill="none" stroke="#111" stroke-width="1.3" />
<rect x="1215.1" y="1216.8" width="81.7" height="8.4" fill="#00a8ea" />
<clipPath id="c3"><rect x="930" y="1457" width="268.3" height="242.3"/></clipPath>
<filter id="gr3" filterUnits="userSpaceOnUse" x="928" y="1455" width="272.3" height="246.3" color-interpolation-filters="sRGB"><feTurbulence type="fractalNoise" baseFrequency="0.3" numOctaves="2" seed="21" result="n"/><feColorMatrix in="n" type="matrix" values="1 0 0 0 0  1 0 0 0 0  1 0 0 0 0  0 0 0 0 1" result="ng"/><feTurbulence type="fractalNoise" baseFrequency="0.1" numOctaves="2" seed="44" result="m"/><feColorMatrix in="m" type="matrix" values="1 0 0 0 0  1 0 0 0 0  1 0 0 0 0  0 0 0 0 1" result="mg"/><feComposite in="SourceGraphic" in2="ng" operator="arithmetic" k1="0" k2="1" k3="0.5" k4="-0.25" result="s1"/><feComposite in="s1" in2="mg" operator="arithmetic" k1="0" k2="1" k3="0.3" k4="-0.15"/></filter>
<g clip-path="url(#c3)"><g filter="url(#gr3)">
<rect x="927" y="1454" width="274.3" height="248.3" fill="#a0a0a0" />
<ellipse cx="962.46" cy="1496.1" rx="38.95" ry="29.21" fill="#b4b4b4" opacity="0.8" transform="rotate(0 962.46 1496.1)" filter="url(#bl3)"/>
<ellipse cx="1124.73" cy="1489.6" rx="77.89" ry="29.21" fill="#a6a6a6" opacity="0.6" transform="rotate(0 1124.73 1489.6)" filter="url(#bl3)"/>
<ellipse cx="1024.12" cy="1528.55" rx="61.66" ry="17.85" fill="#787878" opacity="0.85" transform="rotate(-40 1024.12 1528.55)" filter="url(#bl3)"/>
<ellipse cx="1037.1" cy="1616.18" rx="56.8" ry="64.91" fill="#cccccc" opacity="1" transform="rotate(0 1037.1 1616.18)" filter="url(#bl2)"/>
<ellipse cx="1082.54" cy="1551.27" rx="38.95" ry="22.72" fill="#c8c8c8" opacity="1" transform="rotate(-35 1082.54 1551.27)" filter="url(#bl2)"/>
<ellipse cx="1092.28" cy="1603.2" rx="19.47" ry="35.7" fill="#8c8c8c" opacity="0.9" transform="rotate(0 1092.28 1603.2)" filter="url(#bl2)"/>
<ellipse cx="1165.3" cy="1609.69" rx="29.86" ry="38.3" fill="#dcdcdc" opacity="1" transform="rotate(0 1165.3 1609.69)" filter="url(#bl2)"/>
<ellipse cx="959.21" cy="1658.37" rx="35.7" ry="29.21" fill="#9a9a9a" opacity="0.7" transform="rotate(0 959.21 1658.37)" filter="url(#bl3)"/>
<ellipse cx="1160.43" cy="1687.58" rx="25.31" ry="17.85" fill="#3c3c3c" opacity="1" transform="rotate(0 1160.43 1687.58)" filter="url(#bl2)"/>
<ellipse cx="947.85" cy="1611.31" rx="12.98" ry="11.68" fill="#6c6c6c" opacity="1" transform="rotate(0 947.85 1611.31)" filter="url(#bl1)"/>
<ellipse cx="1164.76" cy="1610.96" rx="35.21" ry="36.89" fill="#d3d3d3" opacity="1" transform="rotate(0 1164.76 1610.96)" filter="url(#bl2)"/>
<ellipse cx="1161.41" cy="1686.41" rx="23.47" ry="16.77" fill="#4a4a4a" opacity="1" transform="rotate(0 1161.41 1686.41)" filter="url(#bl2)"/>
<ellipse cx="948.47" cy="1611.8" rx="11.74" ry="11.4" fill="#757575" opacity="1" transform="rotate(0 948.47 1611.8)" filter="url(#bl1)"/>
<ellipse cx="1061.65" cy="1518.74" rx="6.37" ry="6.37" fill="#3c3c3c" opacity="1" transform="rotate(0 1061.65 1518.74)" filter="url(#bl1)"/>
<ellipse cx="1069.19" cy="1587.49" rx="8.38" ry="10.06" fill="#777" opacity="0.9" transform="rotate(0 1069.19 1587.49)" filter="url(#bl2)"/>
<ellipse cx="1169.79" cy="1543.89" rx="10.06" ry="8.38" fill="#888" opacity="0.8" transform="rotate(0 1169.79 1543.89)" filter="url(#bl2)"/>
<path d="M978.65 1681.38 Q970.27 1651.2 982.84 1619.34 Q995.42 1587.49 1013.86 1572.4 Q1032.31 1557.31 1054.1 1547.25 Q1075.9 1537.19 1092.66 1528.8 Q1109.43 1520.42 1116.98 1524.61 Q1124.52 1528.8 1119.49 1541.38 Q1114.46 1553.95 1095.18 1567.37 Q1075.9 1580.78 1074.22 1590.84 Q1072.54 1600.9 1079.25 1617.66 Q1085.96 1634.43 1089.31 1647.01 Q1092.66 1659.58 1080.93 1669.64 Q1069.19 1679.7 1047.4 1678.02 Q1025.6 1676.35 1008.83 1679.7 Q992.07 1683.05 978.65 1681.38" fill="none" stroke="#4a4a4a" stroke-width="4.42" opacity="0.3" stroke-linecap="round" filter="url(#bl1)"/>
<path d="M978.65 1681.38 Q970.27 1651.2 982.84 1619.34 Q995.42 1587.49 1013.86 1572.4 Q1032.31 1557.31 1054.1 1547.25 Q1075.9 1537.19 1092.66 1528.8 Q1109.43 1520.42 1116.98 1524.61 Q1124.52 1528.8 1119.49 1541.38 Q1114.46 1553.95 1095.18 1567.37 Q1075.9 1580.78 1074.22 1590.84 Q1072.54 1600.9 1079.25 1617.66 Q1085.96 1634.43 1089.31 1647.01 Q1092.66 1659.58 1080.93 1669.64 Q1069.19 1679.7 1047.4 1678.02 Q1025.6 1676.35 1008.83 1679.7 Q992.07 1683.05 978.65 1681.38" fill="none" stroke="#4a4a4a" stroke-width="1.7" opacity="0.62" stroke-linecap="round" filter="url(#bl0)"/>
<path d="M1119.49 1607.6 Q1136.26 1631.08 1159.73 1649.52" fill="none" stroke="#4a4a4a" stroke-width="4.42" opacity="0.3" stroke-linecap="round" filter="url(#bl1)"/>
<path d="M1119.49 1607.6 Q1136.26 1631.08 1159.73 1649.52" fill="none" stroke="#4a4a4a" stroke-width="1.7" opacity="0.62" stroke-linecap="round" filter="url(#bl0)"/>
</g></g>
<rect x="930" y="1457" width="268.3" height="242.3" fill="none" stroke="#111" stroke-width="1.3" />
<rect x="942.1" y="1466.3" width="42.9" height="8.3" fill="#00a8ea" />
<rect x="990.6" y="1515.6" width="141" height="120" fill="none" stroke="#ffff00" stroke-width="2.6" stroke-dasharray="8.6 4.9"/>
<clipPath id="c4"><rect x="1203" y="1457" width="269" height="242.3"/></clipPath>
<filter id="gr4" filterUnits="userSpaceOnUse" x="1201" y="1455" width="273" height="246.3" color-interpolation-filters="sRGB"><feTurbulence type="fractalNoise" baseFrequency="0.3" numOctaves="2" seed="28" result="n"/><feColorMatrix in="n" type="matrix" values="1 0 0 0 0  1 0 0 0 0  1 0 0 0 0  0 0 0 0 1" result="ng"/><feTurbulence type="fractalNoise" baseFrequency="0.1" numOctaves="2" seed="57" result="m"/><feColorMatrix in="m" type="matrix" values="1 0 0 0 0  1 0 0 0 0  1 0 0 0 0  0 0 0 0 1" result="mg"/><feComposite in="SourceGraphic" in2="ng" operator="arithmetic" k1="0" k2="1" k3="0.5" k4="-0.25" result="s1"/><feComposite in="s1" in2="mg" operator="arithmetic" k1="0" k2="1" k3="0.3" k4="-0.15"/></filter>
<g clip-path="url(#c4)"><g filter="url(#gr4)">
<rect x="1200" y="1454" width="275" height="248.3" fill="#a6a6a6" />
<ellipse cx="1241.57" cy="1496.1" rx="45.44" ry="45.44" fill="#848484" opacity="0.9" transform="rotate(0 1241.57 1496.1)" filter="url(#bl4)"/>
<ellipse cx="1283.76" cy="1645.39" rx="81.14" ry="58.42" fill="#c8c8c8" opacity="1" transform="rotate(0 1283.76 1645.39)" filter="url(#bl4)"/>
<ellipse cx="1384.37" cy="1528.55" rx="77.89" ry="38.95" fill="#c2c2c2" opacity="0.95" transform="rotate(-32 1384.37 1528.55)" filter="url(#bl3)"/>
<ellipse cx="1361.65" cy="1596.71" rx="19.47" ry="29.21" fill="#6a6a6a" opacity="0.85" transform="rotate(0 1361.65 1596.71)" filter="url(#bl3)"/>
<ellipse cx="1416.83" cy="1625.92" rx="42.19" ry="29.21" fill="#8e8e8e" opacity="0.7" transform="rotate(0 1416.83 1625.92)" filter="url(#bl3)"/>
<ellipse cx="1436.3" cy="1674.6" rx="35.7" ry="29.21" fill="#8a8a8a" opacity="0.8" transform="rotate(0 1436.3 1674.6)" filter="url(#bl3)"/>
<ellipse cx="1343.8" cy="1466.89" rx="14.6" ry="11.36" fill="#505050" opacity="1" transform="rotate(0 1343.8 1466.89)" filter="url(#bl2)"/>
<ellipse cx="1342.54" cy="1466.77" rx="13.41" ry="10.06" fill="#555" opacity="1" transform="rotate(0 1342.54 1466.77)" filter="url(#bl2)"/>
<ellipse cx="1446.5" cy="1688.08" rx="15.09" ry="11.74" fill="#666" opacity="0.9" transform="rotate(0 1446.5 1688.08)" filter="url(#bl2)"/>
<path d="M1205.06 1626.05 Q1216.8 1592.51 1233.56 1575.75 Q1250.33 1558.98 1276.32 1548.08 Q1302.31 1537.19 1324.1 1521.26 Q1345.9 1505.33 1371.05 1491.08 Q1396.2 1476.83 1417.16 1471.8 Q1438.11 1466.77 1450.69 1474.31 Q1463.26 1481.86 1459.91 1495.27 Q1456.56 1508.68 1443.14 1525.45 Q1429.73 1542.22 1408.77 1554.79 Q1387.81 1567.37 1354.28 1584.13" fill="none" stroke="#4a4a4a" stroke-width="4.42" opacity="0.3" stroke-linecap="round" filter="url(#bl1)"/>
<path d="M1205.06 1626.05 Q1216.8 1592.51 1233.56 1575.75 Q1250.33 1558.98 1276.32 1548.08 Q1302.31 1537.19 1324.1 1521.26 Q1345.9 1505.33 1371.05 1491.08 Q1396.2 1476.83 1417.16 1471.8 Q1438.11 1466.77 1450.69 1474.31 Q1463.26 1481.86 1459.91 1495.27 Q1456.56 1508.68 1443.14 1525.45 Q1429.73 1542.22 1408.77 1554.79 Q1387.81 1567.37 1354.28 1584.13" fill="none" stroke="#4a4a4a" stroke-width="1.7" opacity="0.62" stroke-linecap="round" filter="url(#bl0)"/>
<path d="M1345.9 1604.25 Q1366.02 1626.05 1368.53 1638.62 Q1371.05 1651.2 1379.43 1667.96 Q1387.81 1684.73 1396.2 1698.14" fill="none" stroke="#4a4a4a" stroke-width="4.42" opacity="0.3" stroke-linecap="round" filter="url(#bl1)"/>
<path d="M1345.9 1604.25 Q1366.02 1626.05 1368.53 1638.62 Q1371.05 1651.2 1379.43 1667.96 Q1387.81 1684.73 1396.2 1698.14" fill="none" stroke="#4a4a4a" stroke-width="1.7" opacity="0.62" stroke-linecap="round" filter="url(#bl0)"/>
<path d="M1265.42 1672.99 Q1272.13 1665.45 1276.32 1667.54 Q1280.51 1669.64 1279.67 1673.83 Q1278.83 1678.02 1274.64 1679.28 Q1270.45 1680.54 1265.42 1672.99" fill="none" stroke="#4a4a4a" stroke-width="4.42" opacity="0.3" stroke-linecap="round" filter="url(#bl1)"/>
<path d="M1265.42 1672.99 Q1272.13 1665.45 1276.32 1667.54 Q1280.51 1669.64 1279.67 1673.83 Q1278.83 1678.02 1274.64 1679.28 Q1270.45 1680.54 1265.42 1672.99" fill="none" stroke="#4a4a4a" stroke-width="1.7" opacity="0.62" stroke-linecap="round" filter="url(#bl0)"/>
<path d="M1235.24 1610.96 Q1245.3 1627.72 1253.68 1644.49" fill="none" stroke="#4a4a4a" stroke-width="4.42" opacity="0.3" stroke-linecap="round" filter="url(#bl1)"/>
<path d="M1235.24 1610.96 Q1245.3 1627.72 1253.68 1644.49" fill="none" stroke="#4a4a4a" stroke-width="1.7" opacity="0.62" stroke-linecap="round" filter="url(#bl0)"/>
</g></g>
<rect x="1203" y="1457" width="269" height="242.3" fill="none" stroke="#111" stroke-width="1.3" />
<rect x="1215.1" y="1466.3" width="81.2" height="8.3" fill="#00a8ea" />
</g>
<g id="pg">
<text x="13.96" y="1761.8" font-size="38.5" font-weight="bold" fill="#000" stroke="#000" stroke-width="1.1" stroke-linejoin="round">g</text>
<text font-size="27.5" text-anchor="middle" textLength="345" lengthAdjust="spacingAndGlyphs" transform="translate(104.3 1964) rotate(-90)" >OCR (pmol min<tspan dy="-12.5" font-size="18.5">−1</tspan><tspan dy="12.5"> 10</tspan><tspan dy="-12.5" font-size="18.5">−4</tspan><tspan dy="12.5"> cells)</tspan></text>
<line x1="197.05" y1="1824.02" x2="197.05" y2="2104.29" stroke="#262626" stroke-width="1.3" />
<line x1="186.55" y1="1824.67" x2="197.05" y2="1824.67" stroke="#262626" stroke-width="1.3" />
<text x="177.07" y="1832.17" font-size="22" text-anchor="end" textLength="41.9" lengthAdjust="spacingAndGlyphs" >300</text>
<line x1="186.55" y1="1917.51" x2="197.05" y2="1917.51" stroke="#262626" stroke-width="1.3" />
<text x="177.07" y="1925.01" font-size="22" text-anchor="end" textLength="41.9" lengthAdjust="spacingAndGlyphs" >200</text>
<line x1="186.55" y1="2010.35" x2="197.05" y2="2010.35" stroke="#262626" stroke-width="1.3" />
<text x="177.07" y="2017.85" font-size="22" text-anchor="end" textLength="36.4" lengthAdjust="spacingAndGlyphs" >100</text>
<line x1="186.55" y1="2103.64" x2="197.05" y2="2103.64" stroke="#262626" stroke-width="1.3" />
<text x="177.07" y="2111.14" font-size="22" text-anchor="end" textLength="13.3" lengthAdjust="spacingAndGlyphs" >0</text>
<line x1="186.59" y1="2103.64" x2="565.82" y2="2103.64" stroke="#262626" stroke-width="1.3" />
<line x1="197.05" y1="2103.64" x2="197.05" y2="2114.14" stroke="#262626" stroke-width="1.3" />
<text x="197.05" y="2142.32" font-size="22" text-anchor="middle" textLength="13.3" lengthAdjust="spacingAndGlyphs" >0</text>
<line x1="289.44" y1="2103.64" x2="289.44" y2="2114.14" stroke="#262626" stroke-width="1.3" />
<text x="289.44" y="2142.32" font-size="22" text-anchor="middle" textLength="27.6" lengthAdjust="spacingAndGlyphs" >30</text>
<line x1="381.37" y1="2103.64" x2="381.37" y2="2114.14" stroke="#262626" stroke-width="1.3" />
<text x="381.37" y="2142.32" font-size="22" text-anchor="middle" textLength="27.6" lengthAdjust="spacingAndGlyphs" >60</text>
<line x1="473.29" y1="2103.64" x2="473.29" y2="2114.14" stroke="#262626" stroke-width="1.3" />
<text x="473.29" y="2142.32" font-size="22" text-anchor="middle" textLength="27.6" lengthAdjust="spacingAndGlyphs" >90</text>
<line x1="565.22" y1="2103.64" x2="565.22" y2="2114.14" stroke="#262626" stroke-width="1.3" />
<text x="565.22" y="2142.32" font-size="22" text-anchor="middle" textLength="36.4" lengthAdjust="spacingAndGlyphs" >120</text>
<text x="381.37" y="2175.09" font-size="28" text-anchor="middle" textLength="134" lengthAdjust="spacingAndGlyphs" >Time (min)</text>
<line x1="201.6" y1="2047.21" x2="201.6" y2="2056.31" stroke="#c000c0" stroke-width="1" />
<line x1="197.6" y1="2047.21" x2="205.6" y2="2047.21" stroke="#c000c0" stroke-width="1" />
<line x1="197.6" y1="2056.31" x2="205.6" y2="2056.31" stroke="#c000c0" stroke-width="1" />
<line x1="228.46" y1="2042.66" x2="228.46" y2="2053.58" stroke="#c000c0" stroke-width="1" />
<line x1="224.46" y1="2042.66" x2="232.46" y2="2042.66" stroke="#c000c0" stroke-width="1" />
<line x1="224.46" y1="2053.58" x2="232.46" y2="2053.58" stroke="#c000c0" stroke-width="1" />
<line x1="255.31" y1="2044.02" x2="255.31" y2="2054.95" stroke="#c000c0" stroke-width="1" />
<line x1="251.31" y1="2044.02" x2="259.31" y2="2044.02" stroke="#c000c0" stroke-width="1" />
<line x1="251.31" y1="2054.95" x2="259.31" y2="2054.95" stroke="#c000c0" stroke-width="1" />
<line x1="282.16" y1="2044.02" x2="282.16" y2="2054.95" stroke="#c000c0" stroke-width="1" />
<line x1="278.16" y1="2044.02" x2="286.16" y2="2044.02" stroke="#c000c0" stroke-width="1" />
<line x1="278.16" y1="2054.95" x2="286.16" y2="2054.95" stroke="#c000c0" stroke-width="1" />
<line x1="309.01" y1="2059.5" x2="309.01" y2="2089.53" stroke="#c000c0" stroke-width="1" />
<line x1="305.01" y1="2059.5" x2="313.01" y2="2059.5" stroke="#c000c0" stroke-width="1" />
<line x1="305.01" y1="2089.53" x2="313.01" y2="2089.53" stroke="#c000c0" stroke-width="1" />
<line x1="335.86" y1="2061.32" x2="335.86" y2="2091.35" stroke="#c000c0" stroke-width="1" />
<line x1="331.86" y1="2061.32" x2="339.86" y2="2061.32" stroke="#c000c0" stroke-width="1" />
<line x1="331.86" y1="2091.35" x2="339.86" y2="2091.35" stroke="#c000c0" stroke-width="1" />
<line x1="362.71" y1="2060.41" x2="362.71" y2="2089.53" stroke="#c000c0" stroke-width="1" />
<line x1="358.71" y1="2060.41" x2="366.71" y2="2060.41" stroke="#c000c0" stroke-width="1" />
<line x1="358.71" y1="2089.53" x2="366.71" y2="2089.53" stroke="#c000c0" stroke-width="1" />
<line x1="390.01" y1="2000.34" x2="390.01" y2="2036.74" stroke="#c000c0" stroke-width="1" />
<line x1="386.01" y1="2000.34" x2="394.01" y2="2000.34" stroke="#c000c0" stroke-width="1" />
<line x1="386.01" y1="2036.74" x2="394.01" y2="2036.74" stroke="#c000c0" stroke-width="1" />
<line x1="416.86" y1="1996.69" x2="416.86" y2="2062.23" stroke="#c000c0" stroke-width="1" />
<line x1="412.86" y1="1996.69" x2="420.86" y2="1996.69" stroke="#c000c0" stroke-width="1" />
<line x1="412.86" y1="2062.23" x2="420.86" y2="2062.23" stroke="#c000c0" stroke-width="1" />
<line x1="443.71" y1="1996.69" x2="443.71" y2="2066.78" stroke="#c000c0" stroke-width="1" />
<line x1="439.71" y1="1996.69" x2="447.71" y2="1996.69" stroke="#c000c0" stroke-width="1" />
<line x1="439.71" y1="2066.78" x2="447.71" y2="2066.78" stroke="#c000c0" stroke-width="1" />
<line x1="471.02" y1="2023.54" x2="471.02" y2="2098.18" stroke="#c000c0" stroke-width="1" />
<line x1="467.02" y1="2023.54" x2="475.02" y2="2023.54" stroke="#c000c0" stroke-width="1" />
<line x1="467.02" y1="2098.18" x2="475.02" y2="2098.18" stroke="#c000c0" stroke-width="1" />
<line x1="497.87" y1="2029.01" x2="497.87" y2="2099.09" stroke="#c000c0" stroke-width="1" />
<line x1="493.87" y1="2029.01" x2="501.87" y2="2029.01" stroke="#c000c0" stroke-width="1" />
<line x1="493.87" y1="2099.09" x2="501.87" y2="2099.09" stroke="#c000c0" stroke-width="1" />
<line x1="524.72" y1="2034.92" x2="524.72" y2="2098.63" stroke="#c000c0" stroke-width="1" />
<line x1="520.72" y1="2034.92" x2="528.72" y2="2034.92" stroke="#c000c0" stroke-width="1" />
<line x1="520.72" y1="2098.63" x2="528.72" y2="2098.63" stroke="#c000c0" stroke-width="1" />
<path d="M201.6 2051.76 L228.46 2048.12 L255.31 2049.49 L282.16 2049.49 L309.01 2074.51 L335.86 2076.34 L362.71 2074.97 L390.01 2018.54 L416.86 2029.46 L443.71 2031.74 L471.02 2060.86 L497.87 2064.05 L524.72 2066.78" fill="none" stroke="#c000c0" stroke-width="1.05" />
<rect x="197.4" y="2047.56" width="8.4" height="8.4" fill="#c000c0" />
<rect x="224.26" y="2043.92" width="8.4" height="8.4" fill="#c000c0" />
<rect x="251.11" y="2045.29" width="8.4" height="8.4" fill="#c000c0" />
<rect x="277.96" y="2045.29" width="8.4" height="8.4" fill="#c000c0" />
<rect x="304.81" y="2070.31" width="8.4" height="8.4" fill="#c000c0" />
<rect x="331.66" y="2072.14" width="8.4" height="8.4" fill="#c000c0" />
<rect x="358.51" y="2070.77" width="8.4" height="8.4" fill="#c000c0" />
<rect x="385.81" y="2014.34" width="8.4" height="8.4" fill="#c000c0" />
<rect x="412.66" y="2025.26" width="8.4" height="8.4" fill="#c000c0" />
<rect x="439.51" y="2027.54" width="8.4" height="8.4" fill="#c000c0" />
<rect x="466.82" y="2056.66" width="8.4" height="8.4" fill="#c000c0" />
<rect x="493.67" y="2059.85" width="8.4" height="8.4" fill="#c000c0" />
<rect x="520.52" y="2062.58" width="8.4" height="8.4" fill="#c000c0" />
<line x1="201.6" y1="2034.92" x2="201.6" y2="2045.84" stroke="#00c000" stroke-width="1" />
<line x1="197.6" y1="2034.92" x2="205.6" y2="2034.92" stroke="#00c000" stroke-width="1" />
<line x1="197.6" y1="2045.84" x2="205.6" y2="2045.84" stroke="#00c000" stroke-width="1" />
<line x1="228.46" y1="2034.01" x2="228.46" y2="2039.47" stroke="#00c000" stroke-width="1" />
<line x1="224.46" y1="2034.01" x2="232.46" y2="2034.01" stroke="#00c000" stroke-width="1" />
<line x1="224.46" y1="2039.47" x2="232.46" y2="2039.47" stroke="#00c000" stroke-width="1" />
<line x1="255.31" y1="2035.38" x2="255.31" y2="2039.93" stroke="#00c000" stroke-width="1" />
<line x1="251.31" y1="2035.38" x2="259.31" y2="2035.38" stroke="#00c000" stroke-width="1" />
<line x1="251.31" y1="2039.93" x2="259.31" y2="2039.93" stroke="#00c000" stroke-width="1" />
<line x1="282.16" y1="2036.29" x2="282.16" y2="2040.84" stroke="#00c000" stroke-width="1" />
<line x1="278.16" y1="2036.29" x2="286.16" y2="2036.29" stroke="#00c000" stroke-width="1" />
<line x1="278.16" y1="2040.84" x2="286.16" y2="2040.84" stroke="#00c000" stroke-width="1" />
<line x1="309.01" y1="2067.23" x2="309.01" y2="2074.51" stroke="#00c000" stroke-width="1" />
<line x1="305.01" y1="2067.23" x2="313.01" y2="2067.23" stroke="#00c000" stroke-width="1" />
<line x1="305.01" y1="2074.51" x2="313.01" y2="2074.51" stroke="#00c000" stroke-width="1" />
<line x1="335.86" y1="2060.86" x2="335.86" y2="2069.96" stroke="#00c000" stroke-width="1" />
<line x1="331.86" y1="2060.86" x2="339.86" y2="2060.86" stroke="#00c000" stroke-width="1" />
<line x1="331.86" y1="2069.96" x2="339.86" y2="2069.96" stroke="#00c000" stroke-width="1" />
<line x1="362.71" y1="2060.41" x2="362.71" y2="2069.51" stroke="#00c000" stroke-width="1" />
<line x1="358.71" y1="2060.41" x2="366.71" y2="2060.41" stroke="#00c000" stroke-width="1" />
<line x1="358.71" y1="2069.51" x2="366.71" y2="2069.51" stroke="#00c000" stroke-width="1" />
<line x1="390.01" y1="1986.23" x2="390.01" y2="2001.7" stroke="#00c000" stroke-width="1" />
<line x1="386.01" y1="1986.23" x2="394.01" y2="1986.23" stroke="#00c000" stroke-width="1" />
<line x1="386.01" y1="2001.7" x2="394.01" y2="2001.7" stroke="#00c000" stroke-width="1" />
<line x1="416.86" y1="1989.87" x2="416.86" y2="2008.07" stroke="#00c000" stroke-width="1" />
<line x1="412.86" y1="1989.87" x2="420.86" y2="1989.87" stroke="#00c000" stroke-width="1" />
<line x1="412.86" y1="2008.07" x2="420.86" y2="2008.07" stroke="#00c000" stroke-width="1" />
<line x1="443.71" y1="1993.96" x2="443.71" y2="2012.17" stroke="#00c000" stroke-width="1" />
<line x1="439.71" y1="1993.96" x2="447.71" y2="1993.96" stroke="#00c000" stroke-width="1" />
<line x1="439.71" y1="2012.17" x2="447.71" y2="2012.17" stroke="#00c000" stroke-width="1" />
<line x1="471.02" y1="2075.43" x2="471.02" y2="2080.89" stroke="#00c000" stroke-width="1" />
<line x1="467.02" y1="2075.43" x2="475.02" y2="2075.43" stroke="#00c000" stroke-width="1" />
<line x1="467.02" y1="2080.89" x2="475.02" y2="2080.89" stroke="#00c000" stroke-width="1" />
<line x1="497.87" y1="2077.7" x2="497.87" y2="2082.25" stroke="#00c000" stroke-width="1" />
<line x1="493.87" y1="2077.7" x2="501.87" y2="2077.7" stroke="#00c000" stroke-width="1" />
<line x1="493.87" y1="2082.25" x2="501.87" y2="2082.25" stroke="#00c000" stroke-width="1" />
<line x1="524.72" y1="2078.61" x2="524.72" y2="2083.16" stroke="#00c000" stroke-width="1" />
<line x1="520.72" y1="2078.61" x2="528.72" y2="2078.61" stroke="#00c000" stroke-width="1" />
<line x1="520.72" y1="2083.16" x2="528.72" y2="2083.16" stroke="#00c000" stroke-width="1" />
<path d="M201.6 2040.38 L228.46 2036.74 L255.31 2037.65 L282.16 2038.56 L309.01 2070.87 L335.86 2065.41 L362.71 2064.96 L390.01 1993.96 L416.86 1998.97 L443.71 2003.07 L471.02 2078.16 L497.87 2079.98 L524.72 2080.89" fill="none" stroke="#00c000" stroke-width="1.05" />
<circle cx="201.6" cy="2040.38" r="4.2" fill="#00c000" />
<circle cx="228.46" cy="2036.74" r="4.2" fill="#00c000" />
<circle cx="255.31" cy="2037.65" r="4.2" fill="#00c000" />
<circle cx="282.16" cy="2038.56" r="4.2" fill="#00c000" />
<circle cx="309.01" cy="2070.87" r="4.2" fill="#00c000" />
<circle cx="335.86" cy="2065.41" r="4.2" fill="#00c000" />
<circle cx="362.71" cy="2064.96" r="4.2" fill="#00c000" />
<circle cx="390.01" cy="1993.96" r="4.2" fill="#00c000" />
<circle cx="416.86" cy="1998.97" r="4.2" fill="#00c000" />
<circle cx="443.71" cy="2003.07" r="4.2" fill="#00c000" />
<circle cx="471.02" cy="2078.16" r="4.2" fill="#00c000" />
<circle cx="497.87" cy="2079.98" r="4.2" fill="#00c000" />
<circle cx="524.72" cy="2080.89" r="4.2" fill="#00c000" />
<line x1="201.6" y1="1995.78" x2="201.6" y2="2004.89" stroke="#0000ff" stroke-width="1" />
<line x1="197.6" y1="1995.78" x2="205.6" y2="1995.78" stroke="#0000ff" stroke-width="1" />
<line x1="197.6" y1="2004.89" x2="205.6" y2="2004.89" stroke="#0000ff" stroke-width="1" />
<line x1="228.46" y1="1993.96" x2="228.46" y2="2004.89" stroke="#0000ff" stroke-width="1" />
<line x1="224.46" y1="1993.96" x2="232.46" y2="1993.96" stroke="#0000ff" stroke-width="1" />
<line x1="224.46" y1="2004.89" x2="232.46" y2="2004.89" stroke="#0000ff" stroke-width="1" />
<line x1="255.31" y1="1997.6" x2="255.31" y2="2008.53" stroke="#0000ff" stroke-width="1" />
<line x1="251.31" y1="1997.6" x2="259.31" y2="1997.6" stroke="#0000ff" stroke-width="1" />
<line x1="251.31" y1="2008.53" x2="259.31" y2="2008.53" stroke="#0000ff" stroke-width="1" />
<line x1="282.16" y1="1999.43" x2="282.16" y2="2006.71" stroke="#0000ff" stroke-width="1" />
<line x1="278.16" y1="1999.43" x2="286.16" y2="1999.43" stroke="#0000ff" stroke-width="1" />
<line x1="278.16" y1="2006.71" x2="286.16" y2="2006.71" stroke="#0000ff" stroke-width="1" />
<line x1="309.01" y1="2026.28" x2="309.01" y2="2037.2" stroke="#0000ff" stroke-width="1" />
<line x1="305.01" y1="2026.28" x2="313.01" y2="2026.28" stroke="#0000ff" stroke-width="1" />
<line x1="305.01" y1="2037.2" x2="313.01" y2="2037.2" stroke="#0000ff" stroke-width="1" />
<line x1="335.86" y1="2027.19" x2="335.86" y2="2036.29" stroke="#0000ff" stroke-width="1" />
<line x1="331.86" y1="2027.19" x2="339.86" y2="2027.19" stroke="#0000ff" stroke-width="1" />
<line x1="331.86" y1="2036.29" x2="339.86" y2="2036.29" stroke="#0000ff" stroke-width="1" />
<line x1="362.71" y1="2027.19" x2="362.71" y2="2038.11" stroke="#0000ff" stroke-width="1" />
<line x1="358.71" y1="2027.19" x2="366.71" y2="2027.19" stroke="#0000ff" stroke-width="1" />
<line x1="358.71" y1="2038.11" x2="366.71" y2="2038.11" stroke="#0000ff" stroke-width="1" />
<line x1="390.01" y1="1917.96" x2="390.01" y2="1948" stroke="#0000ff" stroke-width="1" />
<line x1="386.01" y1="1917.96" x2="394.01" y2="1917.96" stroke="#0000ff" stroke-width="1" />
<line x1="386.01" y1="1948" x2="394.01" y2="1948" stroke="#0000ff" stroke-width="1" />
<line x1="416.86" y1="1927.98" x2="416.86" y2="1950.73" stroke="#0000ff" stroke-width="1" />
<line x1="412.86" y1="1927.98" x2="420.86" y2="1927.98" stroke="#0000ff" stroke-width="1" />
<line x1="412.86" y1="1950.73" x2="420.86" y2="1950.73" stroke="#0000ff" stroke-width="1" />
<line x1="443.71" y1="1928.89" x2="443.71" y2="1948.91" stroke="#0000ff" stroke-width="1" />
<line x1="439.71" y1="1928.89" x2="447.71" y2="1928.89" stroke="#0000ff" stroke-width="1" />
<line x1="439.71" y1="1948.91" x2="447.71" y2="1948.91" stroke="#0000ff" stroke-width="1" />
<line x1="471.02" y1="2036.74" x2="471.02" y2="2045.84" stroke="#0000ff" stroke-width="1" />
<line x1="467.02" y1="2036.74" x2="475.02" y2="2036.74" stroke="#0000ff" stroke-width="1" />
<line x1="467.02" y1="2045.84" x2="475.02" y2="2045.84" stroke="#0000ff" stroke-width="1" />
<line x1="497.87" y1="2037.2" x2="497.87" y2="2046.3" stroke="#0000ff" stroke-width="1" />
<line x1="493.87" y1="2037.2" x2="501.87" y2="2037.2" stroke="#0000ff" stroke-width="1" />
<line x1="493.87" y1="2046.3" x2="501.87" y2="2046.3" stroke="#0000ff" stroke-width="1" />
<line x1="524.72" y1="2039.02" x2="524.72" y2="2048.12" stroke="#0000ff" stroke-width="1" />
<line x1="520.72" y1="2039.02" x2="528.72" y2="2039.02" stroke="#0000ff" stroke-width="1" />
<line x1="520.72" y1="2048.12" x2="528.72" y2="2048.12" stroke="#0000ff" stroke-width="1" />
<path d="M201.6 2000.34 L228.46 1999.43 L255.31 2003.07 L282.16 2003.07 L309.01 2031.74 L335.86 2031.74 L362.71 2032.65 L390.01 1932.98 L416.86 1939.35 L443.71 1938.9 L471.02 2041.29 L497.87 2041.75 L524.72 2043.57" fill="none" stroke="#0000ff" stroke-width="1.05" />
<polygon points="201.6,2005.59 196.77,1996.77 206.43,1996.77" fill="#0000ff"/>
<polygon points="228.46,2004.68 223.63,1995.86 233.29,1995.86" fill="#0000ff"/>
<polygon points="255.31,2008.32 250.48,1999.5 260.14,1999.5" fill="#0000ff"/>
<polygon points="282.16,2008.32 277.33,1999.5 286.99,1999.5" fill="#0000ff"/>
<polygon points="309.01,2036.99 304.18,2028.17 313.84,2028.17" fill="#0000ff"/>
<polygon points="335.86,2036.99 331.03,2028.17 340.69,2028.17" fill="#0000ff"/>
<polygon points="362.71,2037.9 357.88,2029.08 367.54,2029.08" fill="#0000ff"/>
<polygon points="390.01,1938.23 385.18,1929.41 394.84,1929.41" fill="#0000ff"/>
<polygon points="416.86,1944.6 412.03,1935.78 421.69,1935.78" fill="#0000ff"/>
<polygon points="443.71,1944.15 438.88,1935.33 448.54,1935.33" fill="#0000ff"/>
<polygon points="471.02,2046.54 466.19,2037.72 475.85,2037.72" fill="#0000ff"/>
<polygon points="497.87,2047 493.04,2038.18 502.7,2038.18" fill="#0000ff"/>
<polygon points="524.72,2048.82 519.89,2040 529.55,2040" fill="#0000ff"/>
<line x1="201.6" y1="1978.49" x2="201.6" y2="1998.51" stroke="#ff0000" stroke-width="1" />
<line x1="197.6" y1="1978.49" x2="205.6" y2="1978.49" stroke="#ff0000" stroke-width="1" />
<line x1="197.6" y1="1998.51" x2="205.6" y2="1998.51" stroke="#ff0000" stroke-width="1" />
<line x1="228.46" y1="1979.86" x2="228.46" y2="1998.06" stroke="#ff0000" stroke-width="1" />
<line x1="224.46" y1="1979.86" x2="232.46" y2="1979.86" stroke="#ff0000" stroke-width="1" />
<line x1="224.46" y1="1998.06" x2="232.46" y2="1998.06" stroke="#ff0000" stroke-width="1" />
<line x1="255.31" y1="1981.22" x2="255.31" y2="1999.43" stroke="#ff0000" stroke-width="1" />
<line x1="251.31" y1="1981.22" x2="259.31" y2="1981.22" stroke="#ff0000" stroke-width="1" />
<line x1="251.31" y1="1999.43" x2="259.31" y2="1999.43" stroke="#ff0000" stroke-width="1" />
<line x1="282.16" y1="1977.13" x2="282.16" y2="1995.33" stroke="#ff0000" stroke-width="1" />
<line x1="278.16" y1="1977.13" x2="286.16" y2="1977.13" stroke="#ff0000" stroke-width="1" />
<line x1="278.16" y1="1995.33" x2="286.16" y2="1995.33" stroke="#ff0000" stroke-width="1" />
<line x1="309.01" y1="2010.8" x2="309.01" y2="2030.83" stroke="#ff0000" stroke-width="1" />
<line x1="305.01" y1="2010.8" x2="313.01" y2="2010.8" stroke="#ff0000" stroke-width="1" />
<line x1="305.01" y1="2030.83" x2="313.01" y2="2030.83" stroke="#ff0000" stroke-width="1" />
<line x1="335.86" y1="2012.62" x2="335.86" y2="2032.65" stroke="#ff0000" stroke-width="1" />
<line x1="331.86" y1="2012.62" x2="339.86" y2="2012.62" stroke="#ff0000" stroke-width="1" />
<line x1="331.86" y1="2032.65" x2="339.86" y2="2032.65" stroke="#ff0000" stroke-width="1" />
<line x1="362.71" y1="2008.53" x2="362.71" y2="2030.37" stroke="#ff0000" stroke-width="1" />
<line x1="358.71" y1="2008.53" x2="366.71" y2="2008.53" stroke="#ff0000" stroke-width="1" />
<line x1="358.71" y1="2030.37" x2="366.71" y2="2030.37" stroke="#ff0000" stroke-width="1" />
<line x1="390.01" y1="1866.54" x2="390.01" y2="1925.7" stroke="#ff0000" stroke-width="1" />
<line x1="386.01" y1="1866.54" x2="394.01" y2="1866.54" stroke="#ff0000" stroke-width="1" />
<line x1="386.01" y1="1925.7" x2="394.01" y2="1925.7" stroke="#ff0000" stroke-width="1" />
<line x1="416.86" y1="1897.03" x2="416.86" y2="1958.01" stroke="#ff0000" stroke-width="1" />
<line x1="412.86" y1="1897.03" x2="420.86" y2="1897.03" stroke="#ff0000" stroke-width="1" />
<line x1="412.86" y1="1958.01" x2="420.86" y2="1958.01" stroke="#ff0000" stroke-width="1" />
<line x1="443.71" y1="1909.32" x2="443.71" y2="1952.1" stroke="#ff0000" stroke-width="1" />
<line x1="439.71" y1="1909.32" x2="447.71" y2="1909.32" stroke="#ff0000" stroke-width="1" />
<line x1="439.71" y1="1952.1" x2="447.71" y2="1952.1" stroke="#ff0000" stroke-width="1" />
<line x1="471.02" y1="2021.27" x2="471.02" y2="2044.02" stroke="#ff0000" stroke-width="1" />
<line x1="467.02" y1="2021.27" x2="475.02" y2="2021.27" stroke="#ff0000" stroke-width="1" />
<line x1="467.02" y1="2044.02" x2="475.02" y2="2044.02" stroke="#ff0000" stroke-width="1" />
<line x1="497.87" y1="2022.63" x2="497.87" y2="2045.39" stroke="#ff0000" stroke-width="1" />
<line x1="493.87" y1="2022.63" x2="501.87" y2="2022.63" stroke="#ff0000" stroke-width="1" />
<line x1="493.87" y1="2045.39" x2="501.87" y2="2045.39" stroke="#ff0000" stroke-width="1" />
<line x1="524.72" y1="2023.09" x2="524.72" y2="2043.11" stroke="#ff0000" stroke-width="1" />
<line x1="520.72" y1="2023.09" x2="528.72" y2="2023.09" stroke="#ff0000" stroke-width="1" />
<line x1="520.72" y1="2043.11" x2="528.72" y2="2043.11" stroke="#ff0000" stroke-width="1" />
<path d="M201.6 1988.5 L228.46 1988.96 L255.31 1990.32 L282.16 1986.23 L309.01 2020.81 L335.86 2022.63 L362.71 2019.45 L390.01 1896.12 L416.86 1927.52 L443.71 1930.71 L471.02 2032.65 L497.87 2034.01 L524.72 2033.1" fill="none" stroke="#ff0000" stroke-width="1.05" />
<polygon points="201.6,1983.25 196.77,1992.07 206.43,1992.07" fill="#ff0000"/>
<polygon points="228.46,1983.71 223.63,1992.53 233.29,1992.53" fill="#ff0000"/>
<polygon points="255.31,1985.07 250.48,1993.89 260.14,1993.89" fill="#ff0000"/>
<polygon points="282.16,1980.98 277.33,1989.8 286.99,1989.8" fill="#ff0000"/>
<polygon points="309.01,2015.56 304.18,2024.38 313.84,2024.38" fill="#ff0000"/>
<polygon points="335.86,2017.38 331.03,2026.2 340.69,2026.2" fill="#ff0000"/>
<polygon points="362.71,2014.2 357.88,2023.02 367.54,2023.02" fill="#ff0000"/>
<polygon points="390.01,1890.87 385.18,1899.69 394.84,1899.69" fill="#ff0000"/>
<polygon points="416.86,1922.27 412.03,1931.09 421.69,1931.09" fill="#ff0000"/>
<polygon points="443.71,1925.46 438.88,1934.28 448.54,1934.28" fill="#ff0000"/>
<polygon points="471.02,2027.4 466.19,2036.22 475.85,2036.22" fill="#ff0000"/>
<polygon points="497.87,2028.76 493.04,2037.58 502.7,2037.58" fill="#ff0000"/>
<polygon points="524.72,2027.85 519.89,2036.67 529.55,2036.67" fill="#ff0000"/>
<text x="254.4" y="1896.57" font-size="24.5" textLength="58.71" lengthAdjust="spacingAndGlyphs" >Oligo</text>
<line x1="283.07" y1="1906.59" x2="283.07" y2="1942.54" stroke="#44546a" stroke-width="1.9" />
<path d="M0 0 C-1.5 -4 -3 -8 -5.2 -12.5 L0 -9.5 L5.2 -12.5 C3 -8 1.5 -4 0 0Z" fill="#44546a" transform="translate(283.07 1947.54)"/>
<text x="337.22" y="1848.79" font-size="24.5" textLength="58.71" lengthAdjust="spacingAndGlyphs" >FCCP</text>
<line x1="361.8" y1="1856.53" x2="361.8" y2="1892.49" stroke="#44546a" stroke-width="1.9" />
<path d="M0 0 C-1.5 -4 -3 -8 -5.2 -12.5 L0 -9.5 L5.2 -12.5 C3 -8 1.5 -4 0 0Z" fill="#44546a" transform="translate(361.8 1897.49)"/>
<text x="435.98" y="1882.47" font-size="24.5" textLength="80.55" lengthAdjust="spacingAndGlyphs" >Rot/Ant</text>
<line x1="472.38" y1="1892.02" x2="472.38" y2="1928.89" stroke="#44546a" stroke-width="1.9" />
<path d="M0 0 C-1.5 -4 -3 -8 -5.2 -12.5 L0 -9.5 L5.2 -12.5 C3 -8 1.5 -4 0 0Z" fill="#44546a" transform="translate(472.38 1933.89)"/>
<line x1="585.7" y1="1826.49" x2="607.54" y2="1826.49" stroke="#00c000" stroke-width="1.2" />
<circle cx="596.17" cy="1826.49" r="4.2" fill="#00c000" />
<text x="619.83" y="1834.29" font-size="21.5" textLength="55" lengthAdjust="spacingAndGlyphs" >CTRL</text>
<line x1="585.7" y1="1860.62" x2="607.54" y2="1860.62" stroke="#c000c0" stroke-width="1.2" />
<rect x="591.97" y="1856.42" width="8.4" height="8.4" fill="#c000c0" />
<text x="619.83" y="1868.42" font-size="21.5" textLength="21.5" lengthAdjust="spacingAndGlyphs" >IN</text>
<line x1="585.7" y1="1895.21" x2="607.54" y2="1895.21" stroke="#ff0000" stroke-width="1.2" />
<polygon points="596.17,1889.96 591.34,1898.78 601,1898.78" fill="#ff0000"/>
<text x="619.83" y="1903.01" font-size="21.5" textLength="56.5" lengthAdjust="spacingAndGlyphs" >BLEO</text>
<line x1="585.7" y1="1930.25" x2="607.54" y2="1930.25" stroke="#0000ff" stroke-width="1.2" />
<polygon points="596.17,1935.5 591.34,1926.68 601,1926.68" fill="#0000ff"/>
<text x="619.83" y="1938.05" font-size="21.5" textLength="86.5" lengthAdjust="spacingAndGlyphs" >BLEO-IN</text>
</g>
<g id="ph">
<text x="955.7" y="1760.6" font-size="40" font-weight="bold" fill="#000" stroke="#000" stroke-width="1.1" stroke-linejoin="round">h</text>
<text x="1192.5" y="1766.9" font-size="28" text-anchor="middle" textLength="193" lengthAdjust="spacingAndGlyphs" >ATP production</text>
<text font-size="27.5" text-anchor="middle" textLength="343" lengthAdjust="spacingAndGlyphs" transform="translate(984.3 1964.5) rotate(-90)" >OCR (pmol min<tspan dy="-12.5" font-size="18.5">−1</tspan><tspan dy="12.5"> 10</tspan><tspan dy="-12.5" font-size="18.5">−4</tspan><tspan dy="12.5"> cells)</tspan></text>
<line x1="1060.17" y1="1823.64" x2="1060.17" y2="2103.26" stroke="#262626" stroke-width="1.3" />
<line x1="1050.97" y1="1824.29" x2="1060.17" y2="1824.29" stroke="#262626" stroke-width="1.3" />
<text x="1042.99" y="1830.69" font-size="22" text-anchor="end" textLength="27.6" lengthAdjust="spacingAndGlyphs" >80</text>
<line x1="1050.97" y1="1893.7" x2="1060.17" y2="1893.7" stroke="#262626" stroke-width="1.3" />
<text x="1042.99" y="1900.1" font-size="22" text-anchor="end" textLength="27.6" lengthAdjust="spacingAndGlyphs" >60</text>
<line x1="1050.97" y1="1963.45" x2="1060.17" y2="1963.45" stroke="#262626" stroke-width="1.3" />
<text x="1042.99" y="1969.85" font-size="22" text-anchor="end" textLength="27.6" lengthAdjust="spacingAndGlyphs" >40</text>
<line x1="1050.97" y1="2032.86" x2="1060.17" y2="2032.86" stroke="#262626" stroke-width="1.3" />
<text x="1042.99" y="2039.26" font-size="22" text-anchor="end" textLength="27.6" lengthAdjust="spacingAndGlyphs" >20</text>
<line x1="1050.97" y1="2102.61" x2="1060.17" y2="2102.61" stroke="#262626" stroke-width="1.3" />
<text x="1042.99" y="2109.01" font-size="22" text-anchor="end" textLength="13.3" lengthAdjust="spacingAndGlyphs" >0</text>
<line x1="1051.78" y1="2102.61" x2="1325.08" y2="2102.61" stroke="#262626" stroke-width="1.3" />
<line x1="1192.29" y1="2102.61" x2="1192.29" y2="2112.61" stroke="#262626" stroke-width="1.3" />
<rect x="1077.77" y="2003.85" width="31.19" height="98.76" fill="#ffffff" stroke="#161616" stroke-width="1.35" />
<rect x="1143.83" y="1990.78" width="31.19" height="111.84" fill="#00ff00" stroke="#161616" stroke-width="1.35" />
<rect x="1209.89" y="1954.9" width="31.19" height="147.72" fill="#ff0000" stroke="#161616" stroke-width="1.35" />
<rect x="1275.95" y="1922.7" width="31.19" height="179.91" fill="#0000ff" stroke="#161616" stroke-width="1.35" />
<line x1="1093.37" y1="1993.96" x2="1093.37" y2="2011.74" stroke="#222" stroke-width="1.1" />
<line x1="1085.37" y1="1993.96" x2="1101.37" y2="1993.96" stroke="#222" stroke-width="1.1" />
<line x1="1085.37" y1="2011.74" x2="1101.37" y2="2011.74" stroke="#222" stroke-width="1.1" />
<line x1="1159.43" y1="1979.54" x2="1159.43" y2="2000.34" stroke="#222" stroke-width="1.1" />
<line x1="1151.43" y1="1979.54" x2="1167.43" y2="1979.54" stroke="#222" stroke-width="1.1" />
<line x1="1151.43" y1="2000.34" x2="1167.43" y2="2000.34" stroke="#222" stroke-width="1.1" />
<line x1="1225.49" y1="1934.95" x2="1225.49" y2="1973.17" stroke="#222" stroke-width="1.1" />
<line x1="1217.49" y1="1934.95" x2="1233.49" y2="1934.95" stroke="#222" stroke-width="1.1" />
<line x1="1217.49" y1="1973.17" x2="1233.49" y2="1973.17" stroke="#222" stroke-width="1.1" />
<line x1="1291.54" y1="1904.1" x2="1291.54" y2="1939.64" stroke="#222" stroke-width="1.1" />
<line x1="1283.54" y1="1904.1" x2="1299.54" y2="1904.1" stroke="#222" stroke-width="1.1" />
<line x1="1283.54" y1="1939.64" x2="1299.54" y2="1939.64" stroke="#222" stroke-width="1.1" />
<circle cx="1090.35" cy="1992.29" r="2.7" fill="#000" />
<circle cx="1090.35" cy="1998.99" r="2.7" fill="#000" />
<circle cx="1095.71" cy="1998.32" r="2.7" fill="#000" />
<circle cx="1095.71" cy="2005.7" r="2.7" fill="#000" />
<circle cx="1093.03" cy="2015.09" r="2.7" fill="#000" />
<circle cx="1159.43" cy="1975.52" r="2.7" fill="#000" />
<circle cx="1159.43" cy="1990.95" r="2.7" fill="#000" />
<circle cx="1156.74" cy="1993.63" r="2.7" fill="#000" />
<circle cx="1162.11" cy="2000" r="2.7" fill="#000" />
<circle cx="1222.8" cy="1932.6" r="2.7" fill="#000" />
<circle cx="1228.5" cy="1934.61" r="2.7" fill="#000" />
<circle cx="1225.49" cy="1958.75" r="2.7" fill="#000" />
<circle cx="1222.8" cy="1970.16" r="2.7" fill="#000" />
<circle cx="1228.5" cy="1972.17" r="2.7" fill="#000" />
<circle cx="1291.54" cy="1897.72" r="2.7" fill="#000" />
<circle cx="1291.54" cy="1910.13" r="2.7" fill="#000" />
<circle cx="1291.54" cy="1928.91" r="2.7" fill="#000" />
<circle cx="1288.86" cy="1934.61" r="2.7" fill="#000" />
<circle cx="1294.9" cy="1939.64" r="2.7" fill="#000" />
<text x="1107.11" y="1817.25" font-size="19.6" textLength="96.57" lengthAdjust="spacingAndGlyphs" ><tspan font-style="italic">P</tspan> = 0.0008</text>
<text x="1158.08" y="1843.65" font-size="23" text-anchor="middle" textLength="30.88" lengthAdjust="spacingAndGlyphs" >***</text>
<line x1="1090.01" y1="1842.06" x2="1221.8" y2="1842.06" stroke="#2a2a2a" stroke-width="1.2" />
<text x="1212.74" y="1828.98" font-size="19.6" textLength="91.54" lengthAdjust="spacingAndGlyphs" ><tspan font-style="italic">P</tspan> = 0.0247</text>
<text x="1260.36" y="1854.38" font-size="23" text-anchor="middle" >*</text>
<line x1="1225.15" y1="1851.45" x2="1294.9" y2="1851.45" stroke="#2a2a2a" stroke-width="1.2" />
<text x="1175.52" y="1870.23" font-size="19.6" textLength="96.57" lengthAdjust="spacingAndGlyphs" ><tspan font-style="italic">P</tspan> = 0.0003</text>
<text x="1226.83" y="1897.31" font-size="23" text-anchor="middle" textLength="30.88" lengthAdjust="spacingAndGlyphs" >***</text>
<line x1="1158.75" y1="1892.02" x2="1294.9" y2="1892.02" stroke="#2a2a2a" stroke-width="1.2" />
<text x="1082.3" y="1931.93" font-size="19.6" textLength="90.54" lengthAdjust="spacingAndGlyphs" ><tspan font-style="italic">P</tspan> = 0.0861</text>
<text x="1127.23" y="1960.1" font-size="24.15" text-anchor="middle" stroke="#1a1a1a" stroke-width="0.4">^</text>
<line x1="1088.34" y1="1955.4" x2="1162.44" y2="1955.4" stroke="#2a2a2a" stroke-width="1.2" />
<text font-size="22.5" text-anchor="end" textLength="56.5" lengthAdjust="spacingAndGlyphs" transform="translate(1112.31 2126.92) rotate(-45)">CTRL</text>
<text font-size="22.5" text-anchor="end" textLength="22.5" lengthAdjust="spacingAndGlyphs" transform="translate(1172.47 2127.62) rotate(-45)">IN</text>
<text font-size="22.5" text-anchor="end" textLength="58" lengthAdjust="spacingAndGlyphs" transform="translate(1238.39 2128.4) rotate(-45)">BLEO</text>
<text font-size="22.5" text-anchor="end" textLength="89.5" lengthAdjust="spacingAndGlyphs" transform="translate(1304.08 2132.25) rotate(-45)">BLEO-IN</text>
</g>
<g id="pi">
<text x="1510.6" y="1760.5" font-size="40" font-weight="bold" fill="#000" stroke="#000" stroke-width="1.1" stroke-linejoin="round">i</text>
<text x="1746.3" y="1766.9" font-size="28" text-anchor="middle" textLength="208" lengthAdjust="spacingAndGlyphs" >Basal respiration</text>
<text font-size="27.5" text-anchor="middle" textLength="341.5" lengthAdjust="spacingAndGlyphs" transform="translate(1542.7 1959.3) rotate(-90)" >OCR (pmol min<tspan dy="-12.5" font-size="18.5">−1</tspan><tspan dy="12.5"> 10</tspan><tspan dy="-12.5" font-size="18.5">−4</tspan><tspan dy="12.5"> cells)</tspan></text>
<line x1="1618.83" y1="1823.64" x2="1618.83" y2="2096.22" stroke="#262626" stroke-width="1.3" />
<line x1="1609.63" y1="1824.29" x2="1618.83" y2="1824.29" stroke="#262626" stroke-width="1.3" />
<text x="1601.65" y="1830.69" font-size="22" text-anchor="end" textLength="27.6" lengthAdjust="spacingAndGlyphs" >80</text>
<line x1="1609.63" y1="1891.69" x2="1618.83" y2="1891.69" stroke="#262626" stroke-width="1.3" />
<text x="1601.65" y="1898.09" font-size="22" text-anchor="end" textLength="27.6" lengthAdjust="spacingAndGlyphs" >60</text>
<line x1="1609.63" y1="1959.43" x2="1618.83" y2="1959.43" stroke="#262626" stroke-width="1.3" />
<text x="1601.65" y="1965.83" font-size="22" text-anchor="end" textLength="27.6" lengthAdjust="spacingAndGlyphs" >40</text>
<line x1="1609.63" y1="2027.16" x2="1618.83" y2="2027.16" stroke="#262626" stroke-width="1.3" />
<text x="1601.65" y="2033.56" font-size="22" text-anchor="end" textLength="27.6" lengthAdjust="spacingAndGlyphs" >20</text>
<line x1="1609.63" y1="2095.57" x2="1618.83" y2="2095.57" stroke="#262626" stroke-width="1.3" />
<text x="1601.65" y="2101.97" font-size="22" text-anchor="end" textLength="13.3" lengthAdjust="spacingAndGlyphs" >0</text>
<line x1="1610.11" y1="2095.57" x2="1874.35" y2="2095.57" stroke="#262626" stroke-width="1.3" />
<line x1="1746.59" y1="2095.57" x2="1746.59" y2="2105.57" stroke="#262626" stroke-width="1.3" />
<rect x="1635.76" y="1942.82" width="29.51" height="152.75" fill="#ffffff" stroke="#161616" stroke-width="1.35" />
<rect x="1699.81" y="1953.89" width="29.51" height="141.68" fill="#00ff00" stroke="#161616" stroke-width="1.35" />
<rect x="1763.18" y="1908.96" width="29.85" height="186.61" fill="#ff0000" stroke="#161616" stroke-width="1.35" />
<rect x="1827.23" y="1886.82" width="29.85" height="208.75" fill="#0000ff" stroke="#161616" stroke-width="1.35" />
<line x1="1650.35" y1="1936.62" x2="1650.35" y2="1947.35" stroke="#222" stroke-width="1.1" />
<line x1="1642.35" y1="1936.62" x2="1658.35" y2="1936.62" stroke="#222" stroke-width="1.1" />
<line x1="1642.35" y1="1947.35" x2="1658.35" y2="1947.35" stroke="#222" stroke-width="1.1" />
<line x1="1714.4" y1="1926.23" x2="1714.4" y2="1978.54" stroke="#222" stroke-width="1.1" />
<line x1="1706.4" y1="1926.23" x2="1722.4" y2="1926.23" stroke="#222" stroke-width="1.1" />
<line x1="1706.4" y1="1978.54" x2="1722.4" y2="1978.54" stroke="#222" stroke-width="1.1" />
<line x1="1778.11" y1="1899.07" x2="1778.11" y2="1916.84" stroke="#222" stroke-width="1.1" />
<line x1="1770.11" y1="1899.07" x2="1786.11" y2="1899.07" stroke="#222" stroke-width="1.1" />
<line x1="1770.11" y1="1916.84" x2="1786.11" y2="1916.84" stroke="#222" stroke-width="1.1" />
<line x1="1842.16" y1="1875.59" x2="1842.16" y2="1896.38" stroke="#222" stroke-width="1.1" />
<line x1="1834.16" y1="1875.59" x2="1850.16" y2="1875.59" stroke="#222" stroke-width="1.1" />
<line x1="1834.16" y1="1896.38" x2="1850.16" y2="1896.38" stroke="#222" stroke-width="1.1" />
<circle cx="1647.66" cy="1935.95" r="2.7" fill="#000" />
<circle cx="1653.03" cy="1938.63" r="2.7" fill="#000" />
<circle cx="1647.66" cy="1941.99" r="2.7" fill="#000" />
<circle cx="1653.03" cy="1947.69" r="2.7" fill="#000" />
<circle cx="1714.4" cy="1922.87" r="2.7" fill="#000" />
<circle cx="1714.4" cy="1942.99" r="2.7" fill="#000" />
<circle cx="1714.4" cy="1961.44" r="2.7" fill="#000" />
<circle cx="1714.4" cy="1983.9" r="2.7" fill="#000" />
<circle cx="1775.09" cy="1902.75" r="2.7" fill="#000" />
<circle cx="1780.79" cy="1902.75" r="2.7" fill="#000" />
<circle cx="1778.11" cy="1917.84" r="2.7" fill="#000" />
<circle cx="1836.46" cy="1871.57" r="2.7" fill="#000" />
<circle cx="1847.19" cy="1878.28" r="2.7" fill="#000" />
<circle cx="1831.09" cy="1890.35" r="2.7" fill="#000" />
<circle cx="1842.16" cy="1892.36" r="2.7" fill="#000" />
<circle cx="1852.55" cy="1896.38" r="2.7" fill="#000" />
<text x="1668.46" y="1808.86" font-size="19.6" textLength="90.87" lengthAdjust="spacingAndGlyphs" ><tspan font-style="italic">P</tspan> = 0.0013</text>
<text x="1716.41" y="1833.59" font-size="23" text-anchor="middle" textLength="20.59" lengthAdjust="spacingAndGlyphs" >**</text>
<line x1="1652.36" y1="1827.98" x2="1780.79" y2="1827.98" stroke="#2a2a2a" stroke-width="1.2" />
<text x="1772.74" y="1815.57" font-size="19.6" textLength="92.89" lengthAdjust="spacingAndGlyphs" ><tspan font-style="italic">P</tspan> = 0.0234</text>
<text x="1812.98" y="1840.97" font-size="23" text-anchor="middle" >*</text>
<line x1="1780.12" y1="1835.02" x2="1848.19" y2="1835.02" stroke="#2a2a2a" stroke-width="1.2" />
<text x="1729.15" y="1851.45" font-size="19.6" textLength="86.18" lengthAdjust="spacingAndGlyphs" ><tspan font-style="italic">P</tspan> = 0.0011</text>
<text x="1778.44" y="1873.83" font-size="23" text-anchor="middle" textLength="20.59" lengthAdjust="spacingAndGlyphs" >**</text>
<line x1="1713.72" y1="1867.54" x2="1845.51" y2="1867.54" stroke="#2a2a2a" stroke-width="1.2" />
<text x="1640.96" y="1891.69" font-size="19.6" textLength="87.19" lengthAdjust="spacingAndGlyphs" ><tspan font-style="italic">P</tspan> = 0.4371</text>
<text x="1685.22" y="1915.84" font-size="24.15" text-anchor="middle" stroke="#1a1a1a" stroke-width="0.4">^</text>
<line x1="1646.66" y1="1910.47" x2="1718.08" y2="1910.47" stroke="#2a2a2a" stroke-width="1.2" />
<text font-size="22.5" text-anchor="end" textLength="56.5" lengthAdjust="spacingAndGlyphs" transform="translate(1668.96 2126.92) rotate(-45)">CTRL</text>
<text font-size="22.5" text-anchor="end" textLength="22.5" lengthAdjust="spacingAndGlyphs" transform="translate(1726.77 2127.62) rotate(-45)">IN</text>
<text font-size="22.5" text-anchor="end" textLength="58" lengthAdjust="spacingAndGlyphs" transform="translate(1790 2128.4) rotate(-45)">BLEO</text>
<text font-size="22.5" text-anchor="end" textLength="89.5" lengthAdjust="spacingAndGlyphs" transform="translate(1859.05 2132.25) rotate(-45)">BLEO-IN</text>
</g>
<g id="pj">
<text x="16.4" y="2253.1" font-size="40" font-weight="bold" fill="#000" stroke="#000" stroke-width="1.1" stroke-linejoin="round">j</text>
<text x="244" y="2279.4" font-size="28" text-anchor="middle" textLength="266" lengthAdjust="spacingAndGlyphs" >Maximum respiration</text>
<text font-size="27.5" text-anchor="middle" textLength="342" lengthAdjust="spacingAndGlyphs" transform="translate(36.2 2480) rotate(-90)" >OCR (pmol min<tspan dy="-12.5" font-size="18.5">−1</tspan><tspan dy="12.5"> 10</tspan><tspan dy="-12.5" font-size="18.5">−4</tspan><tspan dy="12.5"> cells)</tspan></text>
<line x1="121.39" y1="2343.48" x2="121.39" y2="2617.4" stroke="#262626" stroke-width="1.3" />
<line x1="112.19" y1="2344.13" x2="121.39" y2="2344.13" stroke="#262626" stroke-width="1.3" />
<text x="105.55" y="2350.53" font-size="22" text-anchor="end" textLength="41.9" lengthAdjust="spacingAndGlyphs" >200</text>
<line x1="112.19" y1="2412.2" x2="121.39" y2="2412.2" stroke="#262626" stroke-width="1.3" />
<text x="105.55" y="2418.6" font-size="22" text-anchor="end" textLength="36.4" lengthAdjust="spacingAndGlyphs" >150</text>
<line x1="112.19" y1="2480.28" x2="121.39" y2="2480.28" stroke="#262626" stroke-width="1.3" />
<text x="105.55" y="2486.68" font-size="22" text-anchor="end" textLength="36.4" lengthAdjust="spacingAndGlyphs" >100</text>
<line x1="112.19" y1="2548.68" x2="121.39" y2="2548.68" stroke="#262626" stroke-width="1.3" />
<text x="105.55" y="2555.08" font-size="22" text-anchor="end" textLength="27.6" lengthAdjust="spacingAndGlyphs" >50</text>
<line x1="112.19" y1="2616.75" x2="121.39" y2="2616.75" stroke="#262626" stroke-width="1.3" />
<text x="105.55" y="2623.15" font-size="22" text-anchor="end" textLength="13.3" lengthAdjust="spacingAndGlyphs" >0</text>
<line x1="113.01" y1="2616.75" x2="379.26" y2="2616.75" stroke="#262626" stroke-width="1.3" />
<line x1="249.82" y1="2616.75" x2="249.82" y2="2626.75" stroke="#262626" stroke-width="1.3" />
<rect x="138.66" y="2497.88" width="30.19" height="118.88" fill="#ffffff" stroke="#161616" stroke-width="1.35" />
<rect x="203.04" y="2514.98" width="30.19" height="101.78" fill="#00ff00" stroke="#161616" stroke-width="1.35" />
<rect x="267.09" y="2464.34" width="30.19" height="152.41" fill="#ff0000" stroke="#161616" stroke-width="1.35" />
<rect x="331.47" y="2434.5" width="30.19" height="182.25" fill="#0000ff" stroke="#161616" stroke-width="1.35" />
<line x1="153.58" y1="2484.97" x2="153.58" y2="2508.78" stroke="#222" stroke-width="1.1" />
<line x1="145.58" y1="2484.97" x2="161.58" y2="2484.97" stroke="#222" stroke-width="1.1" />
<line x1="145.58" y1="2508.78" x2="161.58" y2="2508.78" stroke="#222" stroke-width="1.1" />
<line x1="217.96" y1="2496.37" x2="217.96" y2="2531.25" stroke="#222" stroke-width="1.1" />
<line x1="209.96" y1="2496.37" x2="225.96" y2="2496.37" stroke="#222" stroke-width="1.1" />
<line x1="209.96" y1="2531.25" x2="225.96" y2="2531.25" stroke="#222" stroke-width="1.1" />
<line x1="282.35" y1="2445.4" x2="282.35" y2="2481.28" stroke="#222" stroke-width="1.1" />
<line x1="274.35" y1="2445.4" x2="290.35" y2="2445.4" stroke="#222" stroke-width="1.1" />
<line x1="274.35" y1="2481.28" x2="290.35" y2="2481.28" stroke="#222" stroke-width="1.1" />
<line x1="346.73" y1="2426.29" x2="346.73" y2="2440.37" stroke="#222" stroke-width="1.1" />
<line x1="338.73" y1="2426.29" x2="354.73" y2="2426.29" stroke="#222" stroke-width="1.1" />
<line x1="338.73" y1="2440.37" x2="354.73" y2="2440.37" stroke="#222" stroke-width="1.1" />
<circle cx="143.52" cy="2484.3" r="2.7" fill="#000" />
<circle cx="153.58" cy="2489.33" r="2.7" fill="#000" />
<circle cx="164.31" cy="2490.34" r="2.7" fill="#000" />
<circle cx="153.58" cy="2504.42" r="2.7" fill="#000" />
<circle cx="153.58" cy="2513.81" r="2.7" fill="#000" />
<circle cx="217.96" cy="2495.7" r="2.7" fill="#000" />
<circle cx="217.96" cy="2515.82" r="2.7" fill="#000" />
<circle cx="217.96" cy="2529.57" r="2.7" fill="#000" />
<circle cx="278.99" cy="2444.73" r="2.7" fill="#000" />
<circle cx="285.37" cy="2450.77" r="2.7" fill="#000" />
<circle cx="282.35" cy="2473.9" r="2.7" fill="#000" />
<circle cx="282.35" cy="2482.96" r="2.7" fill="#000" />
<circle cx="343.38" cy="2425.62" r="2.7" fill="#000" />
<circle cx="349.75" cy="2429.64" r="2.7" fill="#000" />
<circle cx="343.38" cy="2436.68" r="2.7" fill="#000" />
<circle cx="349.75" cy="2440.71" r="2.7" fill="#000" />
<text x="171.35" y="2327.37" font-size="19.6" textLength="88.19" lengthAdjust="spacingAndGlyphs" ><tspan font-style="italic">P</tspan> = 0.0122</text>
<text x="218.97" y="2353.1" font-size="23" text-anchor="middle" >*</text>
<line x1="153.25" y1="2347.49" x2="282.68" y2="2347.49" stroke="#2a2a2a" stroke-width="1.2" />
<text x="270.61" y="2335.75" font-size="19.6" textLength="94.23" lengthAdjust="spacingAndGlyphs" ><tspan font-style="italic">P</tspan> = 0.0208</text>
<text x="316.22" y="2359.81" font-size="23" text-anchor="middle" >*</text>
<line x1="284.02" y1="2354.86" x2="352.1" y2="2354.86" stroke="#2a2a2a" stroke-width="1.2" />
<text x="229.37" y="2375.99" font-size="19.6" textLength="95.9" lengthAdjust="spacingAndGlyphs" ><tspan font-style="italic">P</tspan> = 0.0003</text>
<text x="281.01" y="2399.71" font-size="23" text-anchor="middle" textLength="30.88" lengthAdjust="spacingAndGlyphs" >***</text>
<line x1="218.63" y1="2394.43" x2="352.1" y2="2394.43" stroke="#2a2a2a" stroke-width="1.2" />
<text x="142.85" y="2426.96" font-size="19.6" textLength="87.86" lengthAdjust="spacingAndGlyphs" ><tspan font-style="italic">P</tspan> = 0.1482</text>
<text x="188.12" y="2452.78" font-size="24.15" text-anchor="middle" stroke="#1a1a1a" stroke-width="0.4">^</text>
<line x1="150.56" y1="2448.42" x2="222.99" y2="2448.42" stroke="#2a2a2a" stroke-width="1.2" />
<text font-size="22.5" text-anchor="end" textLength="56.5" lengthAdjust="spacingAndGlyphs" transform="translate(171.19 2641.4) rotate(-45)">CTRL</text>
<text font-size="22.5" text-anchor="end" textLength="22.5" lengthAdjust="spacingAndGlyphs" transform="translate(231.68 2642.1) rotate(-45)">IN</text>
<text font-size="22.5" text-anchor="end" textLength="58" lengthAdjust="spacingAndGlyphs" transform="translate(298.27 2642.54) rotate(-45)">BLEO</text>
<text font-size="22.5" text-anchor="end" textLength="89.5" lengthAdjust="spacingAndGlyphs" transform="translate(361.28 2646.39) rotate(-45)">BLEO-IN</text>
</g>
<g id="pk">
<text x="415.1" y="2253.1" font-size="40" font-weight="bold" fill="#000" stroke="#000" stroke-width="1.1" stroke-linejoin="round">k</text>
<text x="649.5" y="2263" font-size="28" text-anchor="middle" textLength="239" lengthAdjust="spacingAndGlyphs" >Non-mitochondrial</text>
<text x="649" y="2294.8" font-size="28" text-anchor="middle" textLength="266.5" lengthAdjust="spacingAndGlyphs" >oxygen consumption</text>
<text font-size="27.5" text-anchor="middle" textLength="342" lengthAdjust="spacingAndGlyphs" transform="translate(443.6 2481) rotate(-90)" >OCR (pmol min<tspan dy="-12.5" font-size="18.5">−1</tspan><tspan dy="12.5"> 10</tspan><tspan dy="-12.5" font-size="18.5">−4</tspan><tspan dy="12.5"> cells)</tspan></text>
<line x1="519.71" y1="2346.16" x2="519.71" y2="2616.73" stroke="#262626" stroke-width="1.3" />
<line x1="510.51" y1="2346.81" x2="519.71" y2="2346.81" stroke="#262626" stroke-width="1.3" />
<text x="502.87" y="2353.21" font-size="22" text-anchor="end" textLength="36.4" lengthAdjust="spacingAndGlyphs" >120</text>
<line x1="510.51" y1="2391.75" x2="519.71" y2="2391.75" stroke="#262626" stroke-width="1.3" />
<text x="502.87" y="2398.15" font-size="22" text-anchor="end" textLength="36.4" lengthAdjust="spacingAndGlyphs" >100</text>
<line x1="510.51" y1="2436.68" x2="519.71" y2="2436.68" stroke="#262626" stroke-width="1.3" />
<text x="502.87" y="2443.08" font-size="22" text-anchor="end" textLength="27.6" lengthAdjust="spacingAndGlyphs" >80</text>
<line x1="510.51" y1="2481.28" x2="519.71" y2="2481.28" stroke="#262626" stroke-width="1.3" />
<text x="502.87" y="2487.68" font-size="22" text-anchor="end" textLength="27.6" lengthAdjust="spacingAndGlyphs" >60</text>
<line x1="510.51" y1="2526.22" x2="519.71" y2="2526.22" stroke="#262626" stroke-width="1.3" />
<text x="502.87" y="2532.62" font-size="22" text-anchor="end" textLength="27.6" lengthAdjust="spacingAndGlyphs" >40</text>
<line x1="510.51" y1="2571.15" x2="519.71" y2="2571.15" stroke="#262626" stroke-width="1.3" />
<text x="502.87" y="2577.55" font-size="22" text-anchor="end" textLength="27.6" lengthAdjust="spacingAndGlyphs" >20</text>
<line x1="510.51" y1="2616.08" x2="519.71" y2="2616.08" stroke="#262626" stroke-width="1.3" />
<text x="502.87" y="2622.48" font-size="22" text-anchor="end" textLength="13.3" lengthAdjust="spacingAndGlyphs" >0</text>
<line x1="511.33" y1="2616.08" x2="779.26" y2="2616.08" stroke="#262626" stroke-width="1.3" />
<line x1="648.48" y1="2616.08" x2="648.48" y2="2626.08" stroke="#262626" stroke-width="1.3" />
<rect x="536.64" y="2561.59" width="30.52" height="54.49" fill="#ffffff" stroke="#161616" stroke-width="1.35" />
<rect x="601.7" y="2560.58" width="30.52" height="55.5" fill="#00ff00" stroke="#161616" stroke-width="1.35" />
<rect x="666.42" y="2445.23" width="30.52" height="170.85" fill="#ff0000" stroke="#161616" stroke-width="1.35" />
<rect x="730.8" y="2471.05" width="30.86" height="145.03" fill="#0000ff" stroke="#161616" stroke-width="1.35" />
<line x1="551.9" y1="2555.72" x2="551.9" y2="2566.12" stroke="#222" stroke-width="1.1" />
<line x1="543.9" y1="2555.72" x2="559.9" y2="2555.72" stroke="#222" stroke-width="1.1" />
<line x1="543.9" y1="2566.12" x2="559.9" y2="2566.12" stroke="#222" stroke-width="1.1" />
<line x1="616.96" y1="2532.25" x2="616.96" y2="2586.57" stroke="#222" stroke-width="1.1" />
<line x1="608.96" y1="2532.25" x2="624.96" y2="2532.25" stroke="#222" stroke-width="1.1" />
<line x1="608.96" y1="2586.57" x2="624.96" y2="2586.57" stroke="#222" stroke-width="1.1" />
<line x1="681.68" y1="2421.93" x2="681.68" y2="2466.53" stroke="#222" stroke-width="1.1" />
<line x1="673.68" y1="2421.93" x2="689.68" y2="2421.93" stroke="#222" stroke-width="1.1" />
<line x1="673.68" y1="2466.53" x2="689.68" y2="2466.53" stroke="#222" stroke-width="1.1" />
<line x1="746.4" y1="2458.14" x2="746.4" y2="2482.62" stroke="#222" stroke-width="1.1" />
<line x1="738.4" y1="2458.14" x2="754.4" y2="2458.14" stroke="#222" stroke-width="1.1" />
<line x1="738.4" y1="2482.62" x2="754.4" y2="2482.62" stroke="#222" stroke-width="1.1" />
<circle cx="546.54" cy="2553.04" r="2.7" fill="#000" />
<circle cx="541.17" cy="2559.75" r="2.7" fill="#000" />
<circle cx="556.93" cy="2558.74" r="2.7" fill="#000" />
<circle cx="551.9" cy="2564.78" r="2.7" fill="#000" />
<circle cx="562.63" cy="2566.46" r="2.7" fill="#000" />
<circle cx="616.96" cy="2525.88" r="2.7" fill="#000" />
<circle cx="616.96" cy="2550.36" r="2.7" fill="#000" />
<circle cx="616.96" cy="2575.84" r="2.7" fill="#000" />
<circle cx="616.96" cy="2586.57" r="2.7" fill="#000" />
<circle cx="681.68" cy="2409.86" r="2.7" fill="#000" />
<circle cx="681.68" cy="2435.01" r="2.7" fill="#000" />
<circle cx="681.01" cy="2453.11" r="2.7" fill="#000" />
<circle cx="678.32" cy="2460.83" r="2.7" fill="#000" />
<circle cx="684.69" cy="2462.17" r="2.7" fill="#000" />
<circle cx="746.4" cy="2451.44" r="2.7" fill="#000" />
<circle cx="746.4" cy="2465.52" r="2.7" fill="#000" />
<circle cx="746.4" cy="2473.9" r="2.7" fill="#000" />
<circle cx="743.71" cy="2479.94" r="2.7" fill="#000" />
<circle cx="749.41" cy="2480.95" r="2.7" fill="#000" />
<text x="632.38" y="2334.74" font-size="19.6" textLength="96.24" lengthAdjust="spacingAndGlyphs" ><tspan font-style="italic">P</tspan> = 0.0003</text>
<text x="682.35" y="2358.8" font-size="23" text-anchor="middle" textLength="30.88" lengthAdjust="spacingAndGlyphs" >***</text>
<line x1="618.63" y1="2354.53" x2="752.1" y2="2354.53" stroke="#2a2a2a" stroke-width="1.2" />
<text x="570.01" y="2376.32" font-size="19.6" textLength="93.22" lengthAdjust="spacingAndGlyphs" ><tspan font-style="italic">P</tspan> &lt; 0.0001</text>
<text x="618.63" y="2399.04" font-size="23" text-anchor="middle" textLength="41.18" lengthAdjust="spacingAndGlyphs" >****</text>
<line x1="553.25" y1="2394.77" x2="683.35" y2="2394.77" stroke="#2a2a2a" stroke-width="1.2" />
<text x="676.31" y="2384.37" font-size="19.6" textLength="94.23" lengthAdjust="spacingAndGlyphs" ><tspan font-style="italic">P</tspan> = 0.0496</text>
<text x="717.89" y="2407.43" font-size="23" text-anchor="middle" >*</text>
<line x1="685.03" y1="2401.81" x2="753.77" y2="2401.81" stroke="#2a2a2a" stroke-width="1.2" />
<text x="542.85" y="2463.84" font-size="19.6" textLength="87.86" lengthAdjust="spacingAndGlyphs" ><tspan font-style="italic">P</tspan> = 0.9187</text>
<text x="588.12" y="2493.02" font-size="24.15" text-anchor="middle" stroke="#1a1a1a" stroke-width="0.4">^</text>
<line x1="550.56" y1="2490.34" x2="622.99" y2="2490.34" stroke="#2a2a2a" stroke-width="1.2" />
<text font-size="22.5" text-anchor="end" textLength="56.5" lengthAdjust="spacingAndGlyphs" transform="translate(569.85 2640.73) rotate(-45)">CTRL</text>
<text font-size="22.5" text-anchor="end" textLength="22.5" lengthAdjust="spacingAndGlyphs" transform="translate(630 2641.43) rotate(-45)">IN</text>
<text font-size="22.5" text-anchor="end" textLength="58" lengthAdjust="spacingAndGlyphs" transform="translate(696.59 2641.87) rotate(-45)">BLEO</text>
<text font-size="22.5" text-anchor="end" textLength="89.5" lengthAdjust="spacingAndGlyphs" transform="translate(759.6 2645.72) rotate(-45)">BLEO-IN</text>
</g>
<g id="pl">
<text x="811.1" y="2253.1" font-size="40" font-weight="bold" fill="#000" stroke="#000" stroke-width="1.1" stroke-linejoin="round">l</text>
<text x="1040.5" y="2279.4" font-size="28" text-anchor="middle" textLength="110.7" lengthAdjust="spacingAndGlyphs" >pH value</text>
<text font-size="27.5" text-anchor="middle" textLength="109.6" lengthAdjust="spacingAndGlyphs" transform="translate(835.9 2475.4) rotate(-90)" >pH value</text>
<line x1="908.98" y1="2334.43" x2="908.98" y2="2616.73" stroke="#262626" stroke-width="1.3" />
<line x1="899.78" y1="2335.08" x2="908.98" y2="2335.08" stroke="#262626" stroke-width="1.3" />
<text x="891.13" y="2341.48" font-size="22" text-anchor="end" textLength="32.9" lengthAdjust="spacingAndGlyphs" >7.4</text>
<line x1="899.78" y1="2381.69" x2="908.98" y2="2381.69" stroke="#262626" stroke-width="1.3" />
<text x="891.13" y="2388.09" font-size="22" text-anchor="end" textLength="32.9" lengthAdjust="spacingAndGlyphs" >7.2</text>
<line x1="899.78" y1="2428.63" x2="908.98" y2="2428.63" stroke="#262626" stroke-width="1.3" />
<text x="891.13" y="2435.03" font-size="22" text-anchor="end" textLength="32.9" lengthAdjust="spacingAndGlyphs" >7.0</text>
<line x1="899.78" y1="2475.25" x2="908.98" y2="2475.25" stroke="#262626" stroke-width="1.3" />
<text x="891.13" y="2481.65" font-size="22" text-anchor="end" textLength="32.9" lengthAdjust="spacingAndGlyphs" >6.8</text>
<line x1="899.78" y1="2522.19" x2="908.98" y2="2522.19" stroke="#262626" stroke-width="1.3" />
<text x="891.13" y="2528.59" font-size="22" text-anchor="end" textLength="32.9" lengthAdjust="spacingAndGlyphs" >6.6</text>
<line x1="899.78" y1="2569.14" x2="908.98" y2="2569.14" stroke="#262626" stroke-width="1.3" />
<text x="891.13" y="2575.54" font-size="22" text-anchor="end" textLength="32.9" lengthAdjust="spacingAndGlyphs" >6.4</text>
<line x1="899.78" y1="2616.08" x2="908.98" y2="2616.08" stroke="#262626" stroke-width="1.3" />
<text x="891.13" y="2622.48" font-size="22" text-anchor="end" textLength="32.9" lengthAdjust="spacingAndGlyphs" >6.2</text>
<line x1="899.59" y1="2616.08" x2="1170.2" y2="2616.08" stroke="#262626" stroke-width="1.3" />
<line x1="941.17" y1="2616.08" x2="941.17" y2="2626.08" stroke="#262626" stroke-width="1.3" />
<line x1="1006.23" y1="2616.08" x2="1006.23" y2="2626.08" stroke="#262626" stroke-width="1.3" />
<line x1="1071.28" y1="2616.08" x2="1071.28" y2="2626.08" stroke="#262626" stroke-width="1.3" />
<line x1="1136.67" y1="2616.08" x2="1136.67" y2="2626.08" stroke="#262626" stroke-width="1.3" />
<rect x="925.58" y="2436.85" width="31.19" height="179.24" fill="#ffffff" stroke="#161616" stroke-width="1.35" />
<rect x="990.63" y="2436.85" width="31.19" height="179.24" fill="#00ff00" stroke="#161616" stroke-width="1.35" />
<rect x="1055.69" y="2561.93" width="31.19" height="54.16" fill="#ff0000" stroke="#161616" stroke-width="1.35" />
<rect x="1120.74" y="2494.19" width="31.53" height="121.9" fill="#0000ff" stroke="#161616" stroke-width="1.35" />
<line x1="941.17" y1="2425.28" x2="941.17" y2="2446.74" stroke="#222" stroke-width="1.1" />
<line x1="933.17" y1="2425.28" x2="949.17" y2="2425.28" stroke="#222" stroke-width="1.1" />
<line x1="933.17" y1="2446.74" x2="949.17" y2="2446.74" stroke="#222" stroke-width="1.1" />
<line x1="1006.23" y1="2427.29" x2="1006.23" y2="2444.73" stroke="#222" stroke-width="1.1" />
<line x1="998.23" y1="2427.29" x2="1014.23" y2="2427.29" stroke="#222" stroke-width="1.1" />
<line x1="998.23" y1="2444.73" x2="1014.23" y2="2444.73" stroke="#222" stroke-width="1.1" />
<line x1="1071.28" y1="2546" x2="1071.28" y2="2576.51" stroke="#222" stroke-width="1.1" />
<line x1="1063.28" y1="2546" x2="1079.28" y2="2546" stroke="#222" stroke-width="1.1" />
<line x1="1063.28" y1="2576.51" x2="1079.28" y2="2576.51" stroke="#222" stroke-width="1.1" />
<line x1="1136.67" y1="2487.32" x2="1136.67" y2="2499.05" stroke="#222" stroke-width="1.1" />
<line x1="1128.67" y1="2487.32" x2="1144.67" y2="2487.32" stroke="#222" stroke-width="1.1" />
<line x1="1128.67" y1="2499.05" x2="1144.67" y2="2499.05" stroke="#222" stroke-width="1.1" />
<circle cx="938.16" cy="2426.29" r="2.7" fill="#000" />
<circle cx="944.19" cy="2433.66" r="2.7" fill="#000" />
<circle cx="941.17" cy="2447.41" r="2.7" fill="#000" />
<circle cx="1003.21" cy="2428.63" r="2.7" fill="#000" />
<circle cx="1009.25" cy="2433.66" r="2.7" fill="#000" />
<circle cx="1006.23" cy="2445.4" r="2.7" fill="#000" />
<circle cx="1071.28" cy="2546" r="2.7" fill="#000" />
<circle cx="1071.28" cy="2562.1" r="2.7" fill="#000" />
<circle cx="1071.28" cy="2576.51" r="2.7" fill="#000" />
<circle cx="1136.67" cy="2486.98" r="2.7" fill="#000" />
<circle cx="1133.65" cy="2494.36" r="2.7" fill="#000" />
<circle cx="1139.35" cy="2499.05" r="2.7" fill="#000" />
<text x="957.94" y="2321.66" font-size="19.6" textLength="96.24" lengthAdjust="spacingAndGlyphs" ><tspan font-style="italic">P</tspan> = 0.0003</text>
<text x="1008.57" y="2344.72" font-size="23" text-anchor="middle" textLength="30.88" lengthAdjust="spacingAndGlyphs" >***</text>
<line x1="940.17" y1="2340.44" x2="1069.94" y2="2340.44" stroke="#2a2a2a" stroke-width="1.2" />
<text x="1061.22" y="2327.37" font-size="19.6" textLength="95.23" lengthAdjust="spacingAndGlyphs" ><tspan font-style="italic">P</tspan> = 0.0020</text>
<text x="1108.84" y="2348.74" font-size="23" text-anchor="middle" textLength="20.59" lengthAdjust="spacingAndGlyphs" >**</text>
<line x1="1073.29" y1="2343.8" x2="1141.37" y2="2343.8" stroke="#2a2a2a" stroke-width="1.2" />
<text x="1026.35" y="2361.9" font-size="19.6" textLength="96.57" lengthAdjust="spacingAndGlyphs" ><tspan font-style="italic">P</tspan> = 0.0006</text>
<text x="1072.29" y="2382.95" font-size="23" text-anchor="middle" textLength="30.88" lengthAdjust="spacingAndGlyphs" >***</text>
<line x1="1008.57" y1="2377.33" x2="1141.37" y2="2377.33" stroke="#2a2a2a" stroke-width="1.2" />
<text x="928.43" y="2396.78" font-size="19.6" textLength="101.27" lengthAdjust="spacingAndGlyphs" ><tspan font-style="italic">P</tspan> &gt; 0.9999</text>
<text x="978.06" y="2420.59" font-size="24.15" text-anchor="middle" stroke="#1a1a1a" stroke-width="0.4">^</text>
<line x1="938.83" y1="2415.89" x2="1011.26" y2="2415.89" stroke="#2a2a2a" stroke-width="1.2" />
<text font-size="22.5" text-anchor="end" textLength="56.5" lengthAdjust="spacingAndGlyphs" transform="translate(962.13 2640.73) rotate(-45)">CTRL</text>
<text font-size="22.5" text-anchor="end" textLength="22.5" lengthAdjust="spacingAndGlyphs" transform="translate(1021.62 2641.43) rotate(-45)">IN</text>
<text font-size="22.5" text-anchor="end" textLength="58" lengthAdjust="spacingAndGlyphs" transform="translate(1088.21 2641.87) rotate(-45)">BLEO</text>
<text font-size="22.5" text-anchor="end" textLength="89.5" lengthAdjust="spacingAndGlyphs" transform="translate(1151.22 2645.72) rotate(-45)">BLEO-IN</text>
</g>
<g id="pm">
<text x="1212.1" y="2253.1" font-size="40" font-weight="bold" fill="#000" stroke="#000" stroke-width="1.1" stroke-linejoin="round">m</text>
<text x="1472.2" y="2279.4" font-size="28" text-anchor="middle" textLength="91.5" lengthAdjust="spacingAndGlyphs" >Lactate</text>
<text font-size="27.5" text-anchor="middle" textLength="238" lengthAdjust="spacingAndGlyphs" transform="translate(1237.6 2476) rotate(-90)" >Lactate production</text>
<text font-size="27.5" text-anchor="middle" textLength="179" lengthAdjust="spacingAndGlyphs" transform="translate(1268.7 2475.4) rotate(-90)" >(μM 10<tspan dy="-12.5" font-size="18.5">−4</tspan><tspan dy="12.5"> cells)</tspan></text>
<line x1="1341.51" y1="2335.43" x2="1341.51" y2="2616.4" stroke="#262626" stroke-width="1.3" />
<line x1="1332.31" y1="2336.08" x2="1341.51" y2="2336.08" stroke="#262626" stroke-width="1.3" />
<text x="1321.65" y="2342.48" font-size="22" text-anchor="end" textLength="27.6" lengthAdjust="spacingAndGlyphs" >50</text>
<line x1="1332.31" y1="2392.08" x2="1341.51" y2="2392.08" stroke="#262626" stroke-width="1.3" />
<text x="1321.65" y="2398.48" font-size="22" text-anchor="end" textLength="27.6" lengthAdjust="spacingAndGlyphs" >40</text>
<line x1="1332.31" y1="2447.75" x2="1341.51" y2="2447.75" stroke="#262626" stroke-width="1.3" />
<text x="1321.65" y="2454.15" font-size="22" text-anchor="end" textLength="27.6" lengthAdjust="spacingAndGlyphs" >30</text>
<line x1="1332.31" y1="2503.75" x2="1341.51" y2="2503.75" stroke="#262626" stroke-width="1.3" />
<text x="1321.65" y="2510.15" font-size="22" text-anchor="end" textLength="27.6" lengthAdjust="spacingAndGlyphs" >20</text>
<line x1="1332.31" y1="2559.75" x2="1341.51" y2="2559.75" stroke="#262626" stroke-width="1.3" />
<text x="1321.65" y="2566.15" font-size="22" text-anchor="end" textLength="22.1" lengthAdjust="spacingAndGlyphs" >10</text>
<line x1="1332.31" y1="2615.75" x2="1341.51" y2="2615.75" stroke="#262626" stroke-width="1.3" />
<text x="1321.65" y="2622.15" font-size="22" text-anchor="end" textLength="13.3" lengthAdjust="spacingAndGlyphs" >0</text>
<line x1="1332.46" y1="2615.75" x2="1602.4" y2="2615.75" stroke="#262626" stroke-width="1.3" />
<line x1="1471.95" y1="2615.75" x2="1471.95" y2="2625.75" stroke="#262626" stroke-width="1.3" />
<rect x="1358.78" y="2538.45" width="30.52" height="77.3" fill="#ffffff" stroke="#161616" stroke-width="1.35" />
<rect x="1423.83" y="2543.82" width="30.52" height="71.93" fill="#00ff00" stroke="#161616" stroke-width="1.35" />
<rect x="1488.88" y="2419.07" width="30.86" height="196.67" fill="#ff0000" stroke="#161616" stroke-width="1.35" />
<rect x="1553.94" y="2469.04" width="30.86" height="146.71" fill="#0000ff" stroke="#161616" stroke-width="1.35" />
<line x1="1374.04" y1="2535.27" x2="1374.04" y2="2538.62" stroke="#222" stroke-width="1.1" />
<line x1="1366.04" y1="2535.27" x2="1382.04" y2="2535.27" stroke="#222" stroke-width="1.1" />
<line x1="1366.04" y1="2538.62" x2="1382.04" y2="2538.62" stroke="#222" stroke-width="1.1" />
<line x1="1439.09" y1="2539.96" x2="1439.09" y2="2545.66" stroke="#222" stroke-width="1.1" />
<line x1="1431.09" y1="2539.96" x2="1447.09" y2="2539.96" stroke="#222" stroke-width="1.1" />
<line x1="1431.09" y1="2545.66" x2="1447.09" y2="2545.66" stroke="#222" stroke-width="1.1" />
<line x1="1504.48" y1="2412.54" x2="1504.48" y2="2423.27" stroke="#222" stroke-width="1.1" />
<line x1="1496.48" y1="2412.54" x2="1512.48" y2="2412.54" stroke="#222" stroke-width="1.1" />
<line x1="1496.48" y1="2423.27" x2="1512.48" y2="2423.27" stroke="#222" stroke-width="1.1" />
<line x1="1569.2" y1="2464.85" x2="1569.2" y2="2470.89" stroke="#222" stroke-width="1.1" />
<line x1="1561.2" y1="2464.85" x2="1577.2" y2="2464.85" stroke="#222" stroke-width="1.1" />
<line x1="1561.2" y1="2470.89" x2="1577.2" y2="2470.89" stroke="#222" stroke-width="1.1" />
<circle cx="1363.31" cy="2535.6" r="2.7" fill="#000" />
<circle cx="1374.04" cy="2537.62" r="2.7" fill="#000" />
<circle cx="1384.77" cy="2537.95" r="2.7" fill="#000" />
<circle cx="1428.69" cy="2539.29" r="2.7" fill="#000" />
<circle cx="1439.09" cy="2542.98" r="2.7" fill="#000" />
<circle cx="1449.82" cy="2546" r="2.7" fill="#000" />
<circle cx="1504.48" cy="2411.53" r="2.7" fill="#000" />
<circle cx="1501.8" cy="2419.25" r="2.7" fill="#000" />
<circle cx="1507.5" cy="2421.93" r="2.7" fill="#000" />
<circle cx="1558.8" cy="2464.85" r="2.7" fill="#000" />
<circle cx="1569.2" cy="2468.87" r="2.7" fill="#000" />
<circle cx="1579.93" cy="2470.89" r="2.7" fill="#000" />
<text x="1392.81" y="2331.39" font-size="19.6" textLength="93.89" lengthAdjust="spacingAndGlyphs" ><tspan font-style="italic">P</tspan> &lt; 0.0001</text>
<text x="1440.43" y="2355.45" font-size="23" text-anchor="middle" textLength="41.18" lengthAdjust="spacingAndGlyphs" >****</text>
<line x1="1373.03" y1="2352.18" x2="1502.47" y2="2352.18" stroke="#2a2a2a" stroke-width="1.2" />
<text x="1496.77" y="2339.77" font-size="19.6" textLength="95.57" lengthAdjust="spacingAndGlyphs" ><tspan font-style="italic">P</tspan> = 0.0002</text>
<text x="1538.68" y="2361.49" font-size="23" text-anchor="middle" textLength="30.88" lengthAdjust="spacingAndGlyphs" >***</text>
<line x1="1505.82" y1="2357.88" x2="1573.89" y2="2357.88" stroke="#2a2a2a" stroke-width="1.2" />
<text x="1457.53" y="2384.37" font-size="19.6" textLength="94.56" lengthAdjust="spacingAndGlyphs" ><tspan font-style="italic">P</tspan> &lt; 0.0001</text>
<text x="1504.81" y="2407.43" font-size="23" text-anchor="middle" textLength="41.18" lengthAdjust="spacingAndGlyphs" >****</text>
<line x1="1440.77" y1="2402.81" x2="1573.89" y2="2402.81" stroke="#2a2a2a" stroke-width="1.2" />
<text x="1360.96" y="2477.26" font-size="19.6" textLength="92.89" lengthAdjust="spacingAndGlyphs" ><tspan font-style="italic">P</tspan> = 0.0553</text>
<text x="1408.57" y="2501.4" font-size="24.15" text-anchor="middle" stroke="#1a1a1a" stroke-width="0.4">^</text>
<line x1="1371.35" y1="2497.38" x2="1443.78" y2="2497.38" stroke="#2a2a2a" stroke-width="1.2" />
<text font-size="22.5" text-anchor="end" textLength="56.5" lengthAdjust="spacingAndGlyphs" transform="translate(1393.99 2640.73) rotate(-45)">CTRL</text>
<text font-size="22.5" text-anchor="end" textLength="22.5" lengthAdjust="spacingAndGlyphs" transform="translate(1455.15 2641.43) rotate(-45)">IN</text>
<text font-size="22.5" text-anchor="end" textLength="58" lengthAdjust="spacingAndGlyphs" transform="translate(1520.06 2641.87) rotate(-45)">BLEO</text>
<text font-size="22.5" text-anchor="end" textLength="89.5" lengthAdjust="spacingAndGlyphs" transform="translate(1583.08 2645.72) rotate(-45)">BLEO-IN</text>
</g>
<g id="pn">
<text x="1639" y="2253.1" font-size="40" font-weight="bold" fill="#000" stroke="#000" stroke-width="1.1" stroke-linejoin="round">n</text>
<text x="1867.6" y="2279.4" font-size="28" text-anchor="middle" textLength="196.5" lengthAdjust="spacingAndGlyphs" >H<tspan dy="-11" font-size="17">+</tspan><tspan dy="11"> (proton) leak</tspan></text>
<text font-size="27.5" text-anchor="middle" textLength="342" lengthAdjust="spacingAndGlyphs" transform="translate(1668.1 2481) rotate(-90)" >OCR (pmol min<tspan dy="-12.5" font-size="18.5">−1</tspan><tspan dy="12.5"> 10</tspan><tspan dy="-12.5" font-size="18.5">−4</tspan><tspan dy="12.5"> cells)</tspan></text>
<line x1="1738.5" y1="2341.81" x2="1738.5" y2="2616.73" stroke="#262626" stroke-width="1.3" />
<line x1="1729.3" y1="2342.46" x2="1738.5" y2="2342.46" stroke="#262626" stroke-width="1.3" />
<text x="1719.98" y="2348.86" font-size="22" text-anchor="end" textLength="27.6" lengthAdjust="spacingAndGlyphs" >25</text>
<line x1="1729.3" y1="2397.11" x2="1738.5" y2="2397.11" stroke="#262626" stroke-width="1.3" />
<text x="1719.98" y="2403.51" font-size="22" text-anchor="end" textLength="27.6" lengthAdjust="spacingAndGlyphs" >20</text>
<line x1="1729.3" y1="2451.77" x2="1738.5" y2="2451.77" stroke="#262626" stroke-width="1.3" />
<text x="1719.98" y="2458.17" font-size="22" text-anchor="end" textLength="22.1" lengthAdjust="spacingAndGlyphs" >15</text>
<line x1="1729.3" y1="2506.43" x2="1738.5" y2="2506.43" stroke="#262626" stroke-width="1.3" />
<text x="1719.98" y="2512.83" font-size="22" text-anchor="end" textLength="22.1" lengthAdjust="spacingAndGlyphs" >10</text>
<line x1="1729.3" y1="2561.43" x2="1738.5" y2="2561.43" stroke="#262626" stroke-width="1.3" />
<text x="1719.98" y="2567.83" font-size="22" text-anchor="end" textLength="13.3" lengthAdjust="spacingAndGlyphs" >5</text>
<line x1="1729.3" y1="2616.08" x2="1738.5" y2="2616.08" stroke="#262626" stroke-width="1.3" />
<text x="1719.98" y="2622.48" font-size="22" text-anchor="end" textLength="13.3" lengthAdjust="spacingAndGlyphs" >0</text>
<line x1="1729.11" y1="2616.08" x2="1996.7" y2="2616.08" stroke="#262626" stroke-width="1.3" />
<line x1="1866.59" y1="2616.08" x2="1866.59" y2="2626.08" stroke="#262626" stroke-width="1.3" />
<rect x="1755.43" y="2510.62" width="30.52" height="105.46" fill="#ffffff" stroke="#161616" stroke-width="1.35" />
<rect x="1819.81" y="2524.7" width="30.52" height="91.38" fill="#00ff00" stroke="#161616" stroke-width="1.35" />
<rect x="1883.86" y="2453.95" width="30.52" height="162.13" fill="#ff0000" stroke="#161616" stroke-width="1.35" />
<rect x="1947.91" y="2497.21" width="30.86" height="118.88" fill="#0000ff" stroke="#161616" stroke-width="1.35" />
<line x1="1770.69" y1="2487.99" x2="1770.69" y2="2530.91" stroke="#222" stroke-width="1.1" />
<line x1="1762.69" y1="2487.99" x2="1778.69" y2="2487.99" stroke="#222" stroke-width="1.1" />
<line x1="1762.69" y1="2530.91" x2="1778.69" y2="2530.91" stroke="#222" stroke-width="1.1" />
<line x1="1835.07" y1="2499.05" x2="1835.07" y2="2548.01" stroke="#222" stroke-width="1.1" />
<line x1="1827.07" y1="2499.05" x2="1843.07" y2="2499.05" stroke="#222" stroke-width="1.1" />
<line x1="1827.07" y1="2548.01" x2="1843.07" y2="2548.01" stroke="#222" stroke-width="1.1" />
<line x1="1899.12" y1="2423.27" x2="1899.12" y2="2482.96" stroke="#222" stroke-width="1.1" />
<line x1="1891.12" y1="2423.27" x2="1907.12" y2="2423.27" stroke="#222" stroke-width="1.1" />
<line x1="1891.12" y1="2482.96" x2="1907.12" y2="2482.96" stroke="#222" stroke-width="1.1" />
<line x1="1963.5" y1="2481.28" x2="1963.5" y2="2510.79" stroke="#222" stroke-width="1.1" />
<line x1="1955.5" y1="2481.28" x2="1971.5" y2="2481.28" stroke="#222" stroke-width="1.1" />
<line x1="1955.5" y1="2510.79" x2="1971.5" y2="2510.79" stroke="#222" stroke-width="1.1" />
<circle cx="1770.69" cy="2477.26" r="2.7" fill="#000" />
<circle cx="1770.69" cy="2504.42" r="2.7" fill="#000" />
<circle cx="1768.01" cy="2512.8" r="2.7" fill="#000" />
<circle cx="1773.71" cy="2515.82" r="2.7" fill="#000" />
<circle cx="1770.69" cy="2535.6" r="2.7" fill="#000" />
<circle cx="1835.07" cy="2495.03" r="2.7" fill="#000" />
<circle cx="1831.72" cy="2513.47" r="2.7" fill="#000" />
<circle cx="1837.75" cy="2519.17" r="2.7" fill="#000" />
<circle cx="1835.07" cy="2529.57" r="2.7" fill="#000" />
<circle cx="1835.07" cy="2561.76" r="2.7" fill="#000" />
<circle cx="1899.12" cy="2406.5" r="2.7" fill="#000" />
<circle cx="1896.1" cy="2451.44" r="2.7" fill="#000" />
<circle cx="1902.14" cy="2453.11" r="2.7" fill="#000" />
<circle cx="1899.12" cy="2469.21" r="2.7" fill="#000" />
<circle cx="1899.12" cy="2485.64" r="2.7" fill="#000" />
<circle cx="1963.5" cy="2473.9" r="2.7" fill="#000" />
<circle cx="1960.49" cy="2495.03" r="2.7" fill="#000" />
<circle cx="1966.52" cy="2495.03" r="2.7" fill="#000" />
<circle cx="1963.5" cy="2504.08" r="2.7" fill="#000" />
<circle cx="1963.5" cy="2513.14" r="2.7" fill="#000" />
<text x="1784.1" y="2334.74" font-size="19.6" textLength="94.56" lengthAdjust="spacingAndGlyphs" ><tspan font-style="italic">P</tspan> = 0.0088</text>
<text x="1835.74" y="2358.13" font-size="23" text-anchor="middle" textLength="20.59" lengthAdjust="spacingAndGlyphs" >**</text>
<line x1="1769.35" y1="2354.86" x2="1898.78" y2="2354.86" stroke="#2a2a2a" stroke-width="1.2" />
<text x="1889.4" y="2343.13" font-size="19.6" textLength="90.54" lengthAdjust="spacingAndGlyphs" ><tspan font-style="italic">P</tspan> = 0.0201</text>
<text x="1935.34" y="2367.19" font-size="23" text-anchor="middle" >*</text>
<line x1="1900.46" y1="2362.91" x2="1969.2" y2="2362.91" stroke="#2a2a2a" stroke-width="1.2" />
<text x="1848.49" y="2382.02" font-size="19.6" textLength="93.56" lengthAdjust="spacingAndGlyphs" ><tspan font-style="italic">P</tspan> = 0.0635</text>
<text x="1899.46" y="2404.16" font-size="24.15" text-anchor="middle" stroke="#1a1a1a" stroke-width="0.4">^</text>
<line x1="1835.74" y1="2399.46" x2="1969.2" y2="2399.46" stroke="#2a2a2a" stroke-width="1.2" />
<text x="1758.62" y="2449.76" font-size="19.6" textLength="92.22" lengthAdjust="spacingAndGlyphs" ><tspan font-style="italic">P</tspan> = 0.3583</text>
<text x="1804.56" y="2472.57" font-size="24.15" text-anchor="middle" stroke="#1a1a1a" stroke-width="0.4">^</text>
<line x1="1765.32" y1="2468.54" x2="1837.75" y2="2468.54" stroke="#2a2a2a" stroke-width="1.2" />
<text font-size="22.5" text-anchor="end" textLength="56.5" lengthAdjust="spacingAndGlyphs" transform="translate(1789.97 2640.73) rotate(-45)">CTRL</text>
<text font-size="22.5" text-anchor="end" textLength="22.5" lengthAdjust="spacingAndGlyphs" transform="translate(1849.46 2641.43) rotate(-45)">IN</text>
<text font-size="22.5" text-anchor="end" textLength="58" lengthAdjust="spacingAndGlyphs" transform="translate(1914.37 2641.87) rotate(-45)">BLEO</text>
<text font-size="22.5" text-anchor="end" textLength="89.5" lengthAdjust="spacingAndGlyphs" transform="translate(1978.05 2645.72) rotate(-45)">BLEO-IN</text>
</g>
</g>
</svg>
</body></html>
